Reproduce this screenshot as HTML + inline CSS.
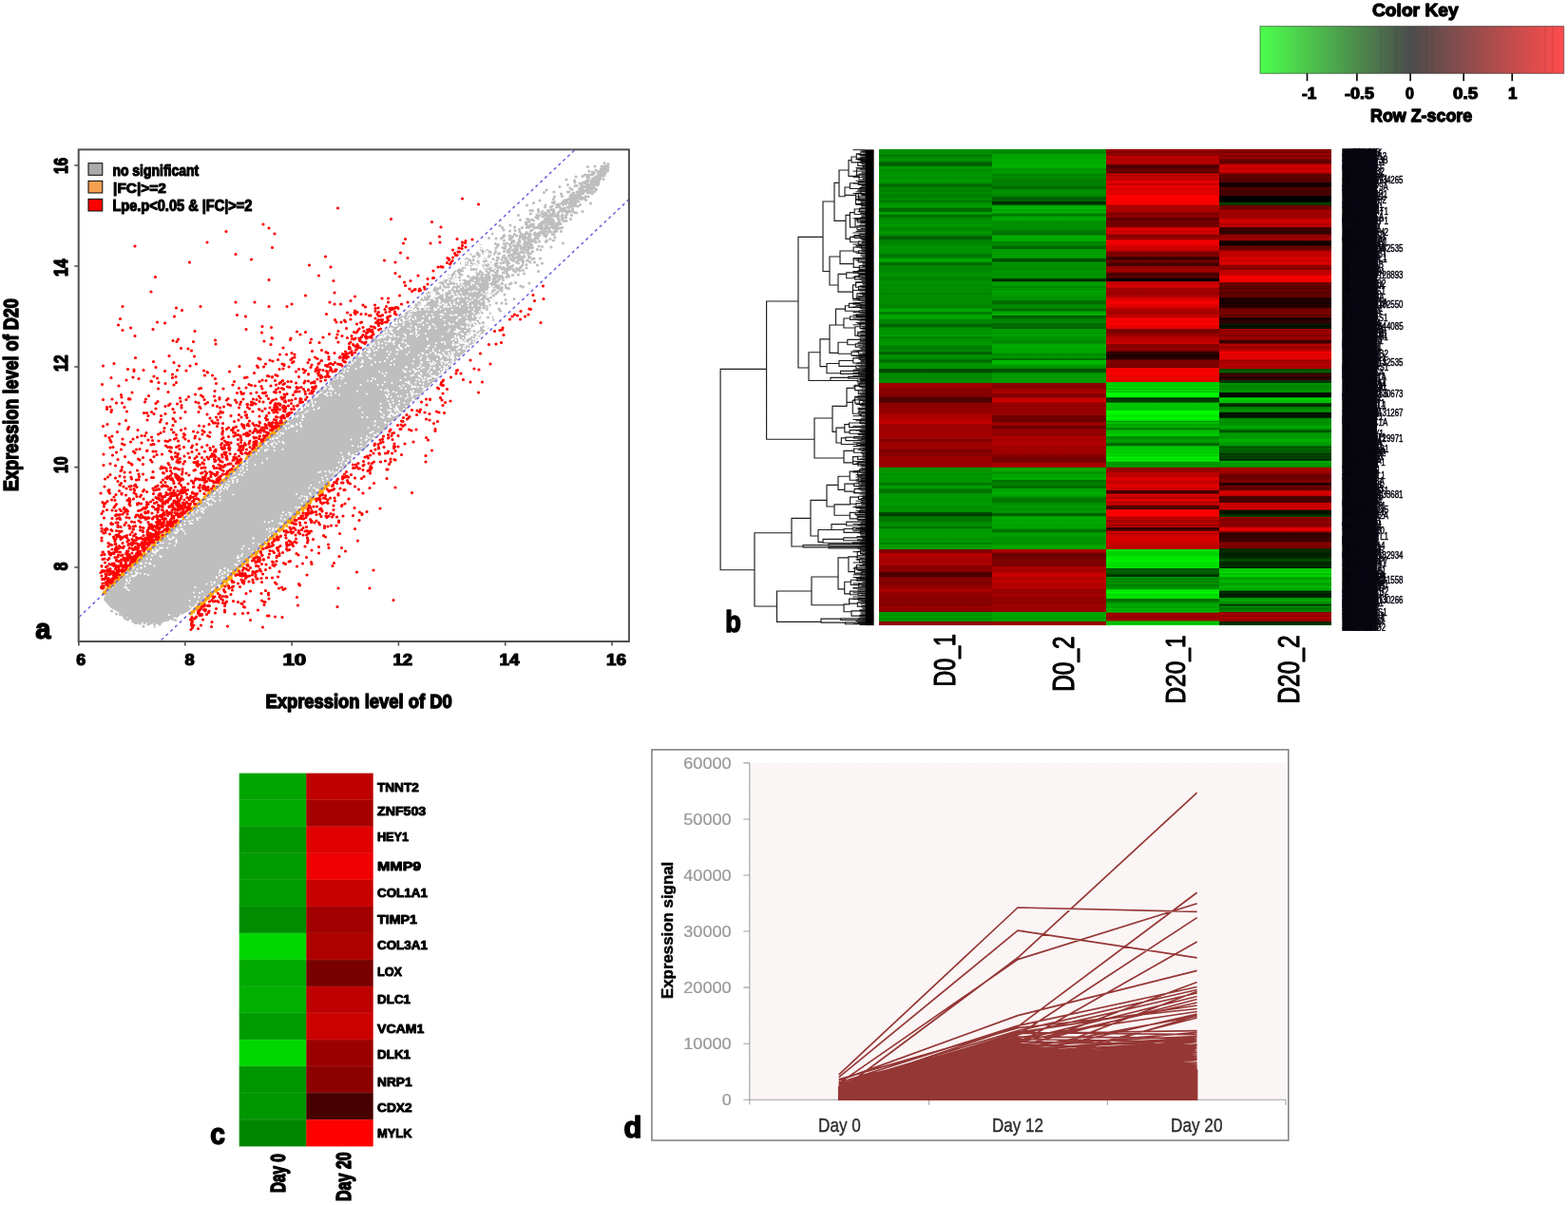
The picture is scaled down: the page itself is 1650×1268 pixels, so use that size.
<!DOCTYPE html>
<html lang="en">
<head>
<meta charset="utf-8">
<title>Figure</title>
<style>
html,body{margin:0;padding:0;background:#fff;}
body{width:1650px;height:1268px;overflow:hidden;font-family:"Liberation Sans",Arial,sans-serif;}
svg{display:block;position:absolute;left:0;top:0;}
.hc{position:absolute;top:157px;height:501px;}
</style>
</head>
<body>
<svg width="1650" height="1268" viewBox="0 0 1650 1268" font-family="'Liberation Sans', Arial, sans-serif">
<rect width="1650" height="1268" fill="#ffffff"/>
<g id="panel-a">
<clipPath id="clipA"><rect x="83.5" y="157.6" width="578" height="516.6"/></clipPath>
<g clip-path="url(#clipA)">
<polygon fill="#bebebe" points="108.9,630.9 117.3,620.3 194.8,547.3 307.1,441.5 396.9,359.0 453.1,316.6 498.0,290.2 517.7,287.5 509.2,321.9 486.8,361.6 453.1,401.3 419.4,434.6 307.1,540.9 211.6,630.9 197.6,643.6 183.6,651.0 166.7,654.1 152.7,655.2 138.7,651.0 127.4,645.7 116.2,639.3"/>
<path transform="scale(0.5)" d="M1272 343h0m7 4h0m1-2h0m-43 6h0m15-1h0m2 8h0m10 0h0m1-2h0m0 2h0m1-8h0m0 6h0m1-3h0m1 5h0m1-7h0m1 5h0m0-1h0m1-5h0m0 3h0m0 2h0m1 3h0m0-1h0m0-6h0m0 5h0m1 2h0m0-4h0m1 4h0m0-4h0m0 2h0m0-1h0m1 3h0m1-8h0m0 2h0m0 3h0m0 2h0m0 2h0m0-10h0m1 10h0m0-6h0m0 2h0m1-1h0m0 1h0m1 1h0m0 3h0m1-8h0m-54 20h0m5-3h0m5 1h0m3 0h0m1-9h0m1 8h0m5 0h0m1-6h0m0 4h0m1 1h0m1-2h0m1-1h0m1 0h0m5 7h0m2 0h0m1-1h0m0-5h0m0-4h0m2 7h0m1-6h0m0 3h0m1 1h0m0 1h0m1 2h0m1-4h0m0 3h0m0-5h0m2 3h0m0-1h0m1-1h0m0-4h0m0 3h0m1 5h0m0-1h0m0-7h0m0 3h0m1 7h0m1 0h0m1-3h0m1-6h0m0 3h0m1-4h0m0 5h0m3-5h0m-85 18h0m17 2h0m3-8h0m21 10h0m2-2h0m0 3h0m1-10h0m2 7h0m0-5h0m1 6h0m0-7h0m6 7h0m1 0h0m0-4h0m1 0h0m1-1h0m0 3h0m1-1h0m0-1h0m1 5h0m1-7h0m0-1h0m0 2h0m0 4h0m1-4h0m0-1h0m1 8h0m0-10h0m2 10h0m0-9h0m1 4h0m0 1h0m0-4h0m1 8h0m0-9h0m1 8h0m0-8h0m1 0h0m0 6h0m0 2h0m1-2h0m1-1h0m0-7h0m1 1h0m1 3h0m1-4h0m6 5h0m-92 16h0m17-4h0m15-5h0m0 7h0m4 0h0m6-5h0m2 1h0m1 6h0m1 2h0m2-4h0m1-7h0m2 9h0m2-7h0m0-2h0m1 9h0m3-5h0m1 4h0m0-1h0m0 3h0m0-6h0m1 3h0m1 1h0m1-4h0m1 0h0m3 7h0m0-3h0m1-4h0m0 2h0m1-6h0m1 5h0m2-3h0m0 3h0m1 0h0m0 2h0m0 2h0m1-4h0m1 6h0m2-11h0m2 3h0m2 3h0m2-2h0m1-4h0m-115 21h0m5-5h0m16 4h0m29 0h0m3 0h0m2-8h0m4 3h0m2 8h0m1-1h0m7-2h0m2 0h0m1 1h0m2-7h0m1 7h0m1-9h0m1 4h0m0-2h0m1 4h0m0 5h0m1-3h0m3 3h0m0-8h0m0 2h0m1 5h0m0-5h0m1 1h0m1-1h0m0 1h0m2 0h0m1 0h0m2-4h0m2 7h0m1 1h0m0-7h0m1 3h0m1-4h0m0 6h0m1 0h0m1-8h0m0 9h0m1-7h0m1 8h0m2-3h0m1 4h0m0-10h0m5 6h0m1-5h0m2 1h0m-90 20h0m2-5h0m14-6h0m2 5h0m14 6h0m3-6h0m0 6h0m1-7h0m1 4h0m1-6h0m1 5h0m2-3h0m0 6h0m1-10h0m1 5h0m0 5h0m2-4h0m1-1h0m0-2h0m1 7h0m0-7h0m0 3h0m2-1h0m0 5h0m1-1h0m0-1h0m1-8h0m0 9h0m2-5h0m0 3h0m1-1h0m0 4h0m1-5h0m0-4h0m1 1h0m1 5h0m1-1h0m0 5h0m1-4h0m4 3h0m0-1h0m3 0h0m2-4h0m5 1h0m-115 13h0m13-5h0m27 4h0m3 2h0m1-3h0m5 6h0m4-1h0m6-2h0m2 1h0m0-3h0m1 5h0m2-9h0m1 1h0m1 2h0m0 3h0m0-1h0m2 2h0m0-8h0m3 1h0m1 4h0m0-6h0m4 7h0m0 1h0m1 0h0m1-6h0m1 8h0m1 0h0m0-1h0m1-4h0m1 5h0m1 1h0m1-6h0m0-5h0m2 5h0m0 3h0m2 1h0m0-6h0m3 1h0m3 0h0m4 7h0m12-10h0m10 7h0m-134 4h0m7 11h0m5 0h0m12-1h0m0-1h0m14-5h0m1-4h0m5 11h0m6-7h0m1 5h0m2 1h0m0-8h0m3 7h0m6-5h0m4-2h0m1 2h0m1-3h0m2 10h0m2-5h0m4 2h0m2 2h0m1-4h0m2 4h0m4-6h0m2 1h0m2 6h0m1-11h0m0 4h0m6-1h0m0 5h0m6-7h0m5 1h0m-125 19h0m26-3h0m13 2h0m4-6h0m1 8h0m5-4h0m2-5h0m2 6h0m1 4h0m3-7h0m1 1h0m0 4h0m2 0h0m4-9h0m1 4h0m1 6h0m3-1h0m2 0h0m1-4h0m2 4h0m0-8h0m0 3h0m1 2h0m0-5h0m0 2h0m2 8h0m4-2h0m2-3h0m1-3h0m0 1h0m1 7h0m7-3h0m0-7h0m1 8h0m1-9h0m6 2h0m0 8h0m3-4h0m0-5h0m1 1h0m6 0h0m2 7h0m2-9h0m4 3h0m4 1h0m13-3h0m-131 18h0m15-2h0m2 6h0m2-4h0m0 3h0m6-4h0m3 2h0m5-7h0m2-1h0m2 4h0m10 7h0m0-11h0m1 11h0m1-1h0m3-5h0m2 6h0m1-2h0m1 1h0m1-1h0m0-7h0m1 5h0m1 3h0m1-10h0m1 9h0m1-5h0m2 4h0m2-5h0m0 8h0m2 0h0m1-4h0m0 1h0m1 2h0m9-9h0m1 4h0m2 1h0m6-6h0m0 2h0m1 3h0m0 2h0m1-4h0m2 6h0m4-7h0m1 7h0m9-4h0m-149 14h0m5 4h0m17-5h0m9 4h0m16 1h0m8-11h0m0 4h0m1 0h0m1 7h0m2-4h0m2 4h0m3-2h0m1-4h0m1-1h0m2 2h0m1 0h0m0 1h0m2 2h0m0-5h0m1 7h0m4 0h0m5-2h0m0 2h0m1-6h0m1 0h0m3 5h0m0 1h0m0-9h0m1 7h0m0-8h0m1 10h0m0-5h0m2 5h0m0-8h0m2-3h0m0 1h0m4 6h0m1-1h0m0 2h0m0-3h0m3 1h0m1 5h0m1-11h0m1 1h0m1 2h0m1-2h0m1-1h0m2 3h0m0 6h0m1-8h0m1 3h0m1-2h0m2 6h0m0-6h0m1 0h0m1 9h0m1-8h0m3 4h0m1 2h0m1-7h0m0 4h0m2-6h0m1 4h0m2-4h0m2 3h0m3 8h0m-123 5h0m13 2h0m11-1h0m9-2h0m1 5h0m13 3h0m1-2h0m2 2h0m7-5h0m3-2h0m6 6h0m1-10h0m9 9h0m1-8h0m2 9h0m1-7h0m2 3h0m1 3h0m1-1h0m3-6h0m0-2h0m2 7h0m3-6h0m3 1h0m0 6h0m1-8h0m1 8h0m0-3h0m2 3h0m5-8h0m2 8h0m1-1h0m3-3h0m0 3h0m1-2h0m1 1h0m1-6h0m4 0h0m2 0h0m2 7h0m-152 14h0m7-9h0m8 10h0m11 0h0m3-3h0m3-4h0m0 2h0m11-1h0m1 6h0m1-5h0m2 4h0m1-1h0m2-2h0m4-5h0m4 3h0m6 7h0m1-6h0m2 2h0m1-7h0m2 5h0m2 6h0m2-9h0m1 4h0m0-3h0m2 7h0m1-2h0m5 0h0m1-4h0m2-4h0m1 4h0m0 6h0m0-8h0m8-1h0m1 10h0m2-8h0m0 7h0m0-1h0m3 0h0m1-5h0m0-4h0m1 10h0m0-10h0m3 4h0m0-4h0m0 3h0m8-3h0m2 0h0m1 4h0m3 2h0m2-5h0m7 10h0m5-10h0m3 1h0m2 6h0m-156 14h0m31-1h0m6 2h0m12-9h0m0 7h0m6-1h0m6 3h0m0-11h0m3 8h0m2-5h0m3 0h0m0 2h0m1 0h0m7 5h0m2-4h0m1-1h0m1 1h0m0-3h0m1 2h0m9 5h0m1 1h0m1-7h0m0 3h0m3 2h0m0-2h0m1 2h0m1 0h0m2-8h0m0 4h0m2 0h0m1-2h0m1 6h0m2-8h0m0 2h0m1 8h0m2-9h0m2 2h0m4 0h0m1 2h0m7-2h0m14 1h0m0-1h0m2-2h0m14 0h0m20 6h0m-172 14h0m0-5h0m13 6h0m18-5h0m3-4h0m11 3h0m2 1h0m3 1h0m1-5h0m8 6h0m3-4h0m3 6h0m3-9h0m1-1h0m2 8h0m0-5h0m4 2h0m0 1h0m0 3h0m1 1h0m0-9h0m5-1h0m1 3h0m1 4h0m2-3h0m2 1h0m1 2h0m2-2h0m1-1h0m1 6h0m1-5h0m1-3h0m1 0h0m0 9h0m1-8h0m2 7h0m1-4h0m0-1h0m2-3h0m0 2h0m2 2h0m1-3h0m4 2h0m10 4h0m3-7h0m4 8h0m3-7h0m19 1h0m-168 15h0m7 3h0m4-4h0m2-1h0m1 3h0m2 1h0m0-9h0m0 3h0m3 7h0m1-9h0m2 1h0m4 4h0m0-6h0m2 2h0m11 0h0m0 6h0m3-2h0m5 2h0m1-3h0m1-1h0m1-4h0m1 2h0m6 4h0m2-1h0m10 5h0m0-9h0m7-1h0m1 3h0m1-1h0m1 8h0m0-8h0m1 0h0m1 9h0m2-3h0m3 1h0m1 2h0m2-5h0m1-6h0m0 6h0m1-6h0m0 6h0m4-1h0m0 1h0m1-3h0m4 3h0m1 4h0m3-8h0m1 1h0m2-2h0m0 2h0m4 8h0m1-7h0m7-4h0m0 4h0m1 4h0m5-3h0m4-4h0m-141 15h0m4 1h0m3 3h0m2 0h0m7-1h0m0-7h0m10 10h0m1-9h0m1-1h0m11 10h0m1-5h0m0 3h0m2 0h0m1 1h0m6-9h0m9 5h0m8 3h0m1-6h0m2 1h0m7 3h0m3-5h0m1-1h0m0 11h0m3-7h0m2 5h0m1-6h0m2 6h0m1 1h0m5-6h0m3 3h0m3-6h0m1 8h0m0-9h0m1 5h0m0 1h0m5-4h0m2-2h0m1 8h0m1-8h0m1 7h0m0-5h0m3 4h0m2-4h0m2 6h0m0-3h0m0 4h0m1-3h0m0-5h0m1 9h0m3-10h0m5 8h0m3 1h0m1-7h0m2-1h0m5 4h0m4-1h0m13 0h0m-166 10h0m8 9h0m2-6h0m0-3h0m1 3h0m1-3h0m1 0h0m2 1h0m2 1h0m2 4h0m2-7h0m5 3h0m1 0h0m8 1h0m2-1h0m9 2h0m2 2h0m1 3h0m0-6h0m4 3h0m1 3h0m1-4h0m2-3h0m3-4h0m6 8h0m0 1h0m4-2h0m2-4h0m3 5h0m0-6h0m6 8h0m1 0h0m1-8h0m6 9h0m0-10h0m7 1h0m1 3h0m1 5h0m2-8h0m4 7h0m4-2h0m8-7h0m4 2h0m5 8h0m1-1h0m3-4h0m1-5h0m7 5h0m8-5h0m9 0h0m6 6h0m10-4h0m-185 21h0m2-3h0m6-3h0m2 5h0m0-6h0m1 4h0m0 3h0m0-8h0m2-1h0m2 3h0m2 1h0m1-6h0m18 3h0m5 0h0m3 4h0m2-4h0m1 6h0m2 0h0m5-2h0m1 0h0m4 4h0m6-7h0m1-4h0m1 6h0m2 4h0m3-8h0m1 8h0m1-10h0m3 5h0m1-3h0m4-1h0m0 5h0m3-5h0m1 9h0m5-4h0m0 2h0m1-8h0m8 2h0m3 8h0m1-10h0m2 4h0m3-2h0m0 6h0m1 3h0m0-8h0m1 4h0m5-4h0m1-2h0m6 1h0m1 1h0m1 2h0m3 3h0m2-1h0m1-6h0m4 2h0m3 3h0m0-5h0m7 4h0m7-5h0m25 7h0m-188 9h0m1 4h0m2 3h0m1-3h0m3-5h0m2-2h0m0 4h0m1 4h0m5-3h0m7 1h0m1-6h0m4 1h0m13 3h0m2 3h0m14-3h0m1 5h0m1-6h0m1 3h0m1-4h0m2 8h0m1-11h0m3 6h0m0 1h0m1 1h0m2-1h0m1-1h0m0-3h0m3 4h0m1-1h0m3-4h0m4 3h0m0-5h0m1 9h0m0-7h0m1 6h0m1 3h0m0-9h0m1 8h0m8-7h0m0 2h0m2 3h0m1 0h0m1 2h0m2-9h0m0 4h0m1 0h0m0 3h0m2-5h0m2 3h0m2 1h0m1 4h0m0-6h0m4 0h0m2 3h0m8-1h0m3-5h0m2 4h0m8-3h0m12-1h0m12-2h0m-178 18h0m4 1h0m3 3h0m1-6h0m2-1h0m0 2h0m2-1h0m2 5h0m0-6h0m4-1h0m1 8h0m2-3h0m1-4h0m1 6h0m0-6h0m4 5h0m4 1h0m1-8h0m6 8h0m3 2h0m2-9h0m9 0h0m3 3h0m3 6h0m5-11h0m2 5h0m9 2h0m1-6h0m8 5h0m2 0h0m0 4h0m1-10h0m5 6h0m1 5h0m2-3h0m0 1h0m1-2h0m6 1h0m3-6h0m1 7h0m2 0h0m5-7h0m0-1h0m0 4h0m0 2h0m0 2h0m1-3h0m1 5h0m2-2h0m0-1h0m1-5h0m2 8h0m3-6h0m0-2h0m1 0h0m0-1h0m8 6h0m1 1h0m2-8h0m14 9h0m3-2h0m9-1h0m29 1h0m-199 12h0m1-2h0m2 4h0m3-2h0m0 2h0m1 0h0m0-7h0m1 8h0m0-7h0m0 2h0m0-1h0m0 5h0m1-4h0m1-4h0m2 4h0m5 5h0m0-11h0m2 2h0m2-1h0m2 4h0m3 0h0m3-1h0m11 0h0m13 5h0m3 0h0m6 2h0m1-6h0m2 4h0m3-6h0m1 2h0m0 4h0m1 1h0m3 1h0m0-4h0m5 4h0m1-6h0m1-5h0m2 9h0m1-9h0m2 3h0m1-3h0m0 2h0m1-2h0m1 5h0m2 2h0m3-5h0m8 5h0m1-5h0m1 7h0m0-1h0m0-7h0m4 6h0m0 1h0m1 2h0m6-4h0m6-6h0m4 4h0m2 6h0m4-8h0m0 1h0m2 3h0m3-5h0m1 6h0m3 3h0m2-5h0m0 2h0m8-7h0m1 5h0m4 2h0m2 0h0m25-5h0m5 2h0m-203 15h0m2 3h0m1-1h0m2-3h0m0 3h0m0-6h0m2 4h0m0 3h0m4-7h0m4-3h0m4 4h0m1 2h0m3-1h0m3 1h0m11 5h0m6 0h0m5-8h0m6 7h0m1 0h0m0-9h0m4 1h0m3 8h0m1-8h0m1 8h0m3-3h0m7-3h0m1 1h0m12 1h0m2 4h0m5-3h0m0-1h0m3 5h0m1-4h0m3-2h0m0-5h0m3 2h0m2 0h0m0 1h0m5-1h0m1 6h0m3-2h0m4-6h0m1 6h0m6-4h0m0 2h0m1 5h0m9-2h0m2-6h0m1 0h0m2 9h0m5-4h0m4-4h0m8-2h0m6 8h0m-175 10h0m2-1h0m2 1h0m0 1h0m3-5h0m2 3h0m0-1h0m2 3h0m1-1h0m2-1h0m1-2h0m1-3h0m5 8h0m5-4h0m1 0h0m9 6h0m8-9h0m2 7h0m0 3h0m7-9h0m0 3h0m6 6h0m2-2h0m4-8h0m4 9h0m0-7h0m3 7h0m1 0h0m8-9h0m4 5h0m4-3h0m2 7h0m0-3h0m4-3h0m3 7h0m3-10h0m1 7h0m3-3h0m1 0h0m2-2h0m2-2h0m1 10h0m6-11h0m3 10h0m1-8h0m4 1h0m4-1h0m7 3h0m4 0h0m2 5h0m4-8h0m6 7h0m25-2h0m18-2h0m-207 12h0m1 2h0m5-6h0m1 4h0m2-4h0m0 3h0m17-4h0m8 8h0m2-1h0m1-7h0m2 2h0m4 5h0m14-1h0m3 2h0m2-8h0m1 4h0m0 6h0m1-9h0m1 6h0m1 0h0m1-2h0m4-1h0m3-3h0m5 7h0m1-6h0m8 5h0m7-2h0m1 4h0m1 0h0m1-5h0m1 3h0m3-4h0m3 7h0m2-3h0m1-5h0m2-2h0m2 1h0m1 4h0m1 4h0m3 2h0m0-9h0m1 4h0m3 1h0m1-5h0m1 9h0m4-10h0m1 6h0m2 3h0m0-10h0m5 1h0m3 9h0m6-8h0m1 5h0m6 2h0m5-3h0m14-4h0m11 0h0m9 1h0m-209 19h0m1 1h0m4-6h0m1 1h0m1-3h0m0 4h0m1-5h0m0 2h0m1-3h0m0 5h0m0 4h0m6 0h0m2-9h0m2-1h0m3 10h0m0-9h0m2 1h0m10 4h0m3 5h0m9-4h0m4-1h0m1 1h0m2 4h0m0-8h0m6 5h0m2-6h0m3 8h0m4-8h0m18 3h0m0-1h0m1-1h0m4 5h0m1-1h0m0-1h0m1 3h0m2-2h0m0 4h0m4-6h0m0 5h0m0-6h0m1 7h0m1-7h0m1 4h0m5-7h0m1 1h0m0 4h0m2 3h0m1-7h0m1 5h0m0-7h0m2 6h0m1 5h0m1-5h0m2-3h0m0 2h0m2-2h0m4 7h0m8-6h0m5 3h0m3-5h0m2 6h0m2-6h0m4-1h0m4 3h0m0-1h0m1-1h0m3-1h0m3 9h0m4-10h0m6 3h0m25-1h0m3 4h0m-213 16h0m3-2h0m4-3h0m2 2h0m3-1h0m2-1h0m0 5h0m1-10h0m0 1h0m7 8h0m0-3h0m7-1h0m10 4h0m2-4h0m2 2h0m10-2h0m5 2h0m9 1h0m1-5h0m6 2h0m1 6h0m8-11h0m0 2h0m2 5h0m3 4h0m1-3h0m0 3h0m1-4h0m2 0h0m6-3h0m0 6h0m2-10h0m1 4h0m2-2h0m2-1h0m1-1h0m0 3h0m2 5h0m2-6h0m1 1h0m3 5h0m0-6h0m2 7h0m0 2h0m5-3h0m2-8h0m0 7h0m1 2h0m5 0h0m4-5h0m1-3h0m2-1h0m1 5h0m2 0h0m4-3h0m2 8h0m3-7h0m1-3h0m0 2h0m0 1h0m4 2h0m18 4h0m16-1h0m5-8h0m4 8h0m-205 10h0m1-2h0m1 5h0m0-4h0m1 3h0m2-2h0m1-4h0m0 4h0m2 4h0m6-8h0m14-2h0m18 11h0m14-10h0m10 4h0m1 0h0m8 2h0m2-1h0m1 0h0m1 5h0m3 0h0m4-8h0m2 2h0m1-1h0m0 5h0m2-3h0m1-4h0m4 4h0m2-3h0m1 8h0m1 0h0m2-9h0m1 0h0m4 8h0m4-10h0m4 4h0m0-1h0m1-2h0m5 0h0m2 6h0m1 3h0m5-10h0m0 1h0m3 0h0m0 4h0m4 4h0m2-4h0m1 1h0m22 0h0m5 3h0m4-5h0m1 0h0m3 4h0m8-1h0m0 2h0m22-7h0m-222 19h0m1-1h0m3-6h0m0 3h0m0 3h0m1-3h0m3-1h0m5-2h0m1 4h0m46 2h0m30-1h0m10 0h0m1-4h0m3 2h0m0 4h0m0-1h0m1-1h0m1-2h0m0 5h0m0-10h0m3 3h0m2 8h0m2-7h0m3 5h0m0-6h0m1 5h0m0-5h0m5 7h0m0-5h0m1-3h0m8 9h0m1-2h0m1-1h0m4-5h0m1-3h0m0 1h0m4-1h0m4 7h0m5-4h0m4 5h0m3-3h0m1-5h0m1 7h0m6-6h0m0 4h0m1-4h0m1 10h0m4-6h0m6-4h0m18 10h0m0-5h0m3 2h0m1-4h0m9 1h0m-228 17h0m2-1h0m2-4h0m2 1h0m0 2h0m0-4h0m1-1h0m0-1h0m2 4h0m2 0h0m0-5h0m1 0h0m1 1h0m0 6h0m0-8h0m1 7h0m0-4h0m5-1h0m3 6h0m4-2h0m57 0h0m11 3h0m19-1h0m0-3h0m2-1h0m1 3h0m1-4h0m1 5h0m1 1h0m5-5h0m8 0h0m5 4h0m4-3h0m3 3h0m0 2h0m2-2h0m2-7h0m2 3h0m10 2h0m3-2h0m1 1h0m0-3h0m2 4h0m1 5h0m3-10h0m3 6h0m3 4h0m3-3h0m1-1h0m5-6h0m3-1h0m1 7h0m5-7h0m6 1h0m1 8h0m6-4h0m1-1h0m1 7h0m2-9h0m0 8h0m2-2h0m4-3h0m1-5h0m2 0h0m-232 21h0m2-3h0m1 0h0m2 4h0m1 0h0m0-4h0m1-1h0m3 1h0m1-1h0m11-3h0m1-2h0m1 9h0m3-8h0m63 3h0m4 0h0m12 1h0m1-1h0m0 6h0m5-2h0m12-6h0m0 5h0m0 1h0m3 1h0m3 2h0m1-4h0m1-5h0m1 6h0m1-7h0m4 5h0m7-6h0m1 5h0m3 6h0m0-4h0m2-4h0m3-1h0m2 7h0m6-5h0m2-2h0m15-1h0m7 1h0m1 6h0m2-6h0m4 7h0m1 2h0m5-2h0m0-1h0m2-2h0m1 4h0m2-3h0m3-5h0m1 6h0m0 3h0m1-6h0m0-1h0m0 5h0m5-1h0m0-7h0m2 0h0m1 1h0m1-2h0m3 2h0m-232 21h0m0-3h0m7-5h0m0 2h0m0 2h0m1-7h0m3 10h0m92-1h0m9 0h0m2-6h0m4 6h0m2-8h0m0-1h0m8 7h0m4-1h0m1-2h0m16 3h0m2 0h0m3-1h0m1 3h0m0-6h0m2-1h0m2-2h0m7 2h0m1 6h0m7-7h0m2 7h0m2-3h0m2 2h0m2-7h0m3 1h0m9 5h0m1-2h0m4 5h0m1-3h0m1 4h0m2-3h0m2 0h0m5-3h0m0 4h0m1 2h0m0-5h0m5-2h0m1-2h0m1 1h0m3-2h0m-231 23h0m1-5h0m0 4h0m1-4h0m1-1h0m0 1h0m0 2h0m1-5h0m0-1h0m2 7h0m2-9h0m0 4h0m4 2h0m98-2h0m13-2h0m6 3h0m9 3h0m1-1h0m8 0h0m2 1h0m10 1h0m4-3h0m2 4h0m2-3h0m3 1h0m1 0h0m0-8h0m1 3h0m12-3h0m6 11h0m3-6h0m2 6h0m0-7h0m3 1h0m2-4h0m1 7h0m1-2h0m1 5h0m1-10h0m2 9h0m0-9h0m0 5h0m1 0h0m1-2h0m0 4h0m1-1h0m0 2h0m0-6h0m1 1h0m0 4h0m1-8h0m1 7h0m1-4h0m5-3h0m-236 22h0m5-3h0m1-4h0m1 4h0m0 2h0m8-6h0m0 2h0m8-4h0m5-1h0m115 4h0m2 2h0m1-4h0m20 1h0m3 0h0m1 3h0m0 5h0m1-7h0m2 3h0m12-6h0m6-1h0m13 4h0m0-3h0m2 3h0m5 7h0m0-9h0m1 9h0m0-5h0m1 3h0m0 2h0m1-1h0m3-8h0m1-2h0m0 4h0m1 1h0m0-1h0m1-1h0m1-2h0m2-1h0m1 0h0m-234 21h0m6-6h0m7 8h0m2 0h0m1-11h0m126 5h0m13-2h0m1 3h0m5 5h0m17-8h0m5 2h0m8 6h0m1-8h0m4 3h0m3-1h0m6 6h0m4-9h0m0 6h0m1 1h0m0-8h0m3-1h0m1 7h0m6-5h0m-235 19h0m7-6h0m1-2h0m0 6h0m1-4h0m0 4h0m0-6h0m1 5h0m1 3h0m2-8h0m3-1h0m1 8h0m139-3h0m0 3h0m9-8h0m1 7h0m17 0h0m1-1h0m2-6h0m8 0h0m8 11h0m2-2h0m2 2h0m1-3h0m2 0h0m1-2h0m4 5h0m3-11h0m1 8h0m1-3h0m4-4h0m0 1h0m1-2h0m-233 18h0m3 3h0m1-5h0m1 1h0m1 1h0m2 1h0m1-6h0m4 5h0m7-6h0m4 0h0m137 2h0m1-2h0m16 6h0m14-3h0m1-2h0m11 1h0m1 5h0m2 3h0m1-2h0m0 2h0m0-9h0m1 7h0m0-7h0m3 6h0m0 1h0m4-5h0m0 1h0m1 0h0m1-4h0m-233 23h0m0-4h0m2 2h0m0 1h0m4-8h0m0 8h0m1-7h0m3-2h0m175 3h0m9-3h0m3 6h0m0-1h0m4 5h0m4 0h0m0-6h0m1-3h0m1 8h0m4-4h0m1-5h0m1 8h0m0-4h0m1 2h0m1 2h0m2-4h0m0 1h0m2-1h0m0-5h0m5 1h0m-236 22h0m2-2h0m6 2h0m1-5h0m1-6h0m1 11h0m2-7h0m174 6h0m2-2h0m7-7h0m5 2h0m1-3h0m5 8h0m1 2h0m1-2h0m0 1h0m3-3h0m1 3h0m2-3h0m2-3h0m1-2h0m2-1h0m1 1h0m-235 18h0m0 1h0m2-1h0m2-3h0m0 5h0m5-5h0m2-4h0m0 1h0m1 2h0m2 0h0m3-2h0m8 7h0m182-5h0m1 3h0m5-6h0m0 3h0m0 7h0m2 0h0m1-9h0m0 6h0m1-2h0m2 1h0m-230 11h0m0 2h0m0-1h0m0 2h0m4-1h0m1 0h0m1-4h0m0 1h0m1 1h0m2 0h0m9 3h0m185 1h0m3-4h0m6 2h0m0 3h0m0-1h0m1-9h0m1 11h0m0-6h0m1 0h0m1-3h0m0 8h0m0-9h0m0 2h0m1-3h0m4 4h0m-235 19h0m2-5h0m2-1h0m4-1h0m0-1h0m0 2h0m4-5h0m1 8h0m0-7h0m5 2h0m178 6h0m5 2h0m10-4h0m1-6h0m0 2h0m1 8h0m3-7h0m1-2h0m3-1h0m-229 16h0m3 2h0m0 1h0m1 0h0m2-5h0m2 2h0m0 4h0m2-9h0m1 4h0m2 0h0m7 1h0m176 4h0m2 1h0m4 0h0m9-2h0m0 2h0m1-3h0m1 1h0m0 1h0m0 2h0m0-6h0m2 2h0m0-2h0m2-5h0m1 4h0m0 2h0m4-5h0m-238 20h0m3-3h0m2-3h0m1 1h0m3 2h0m3-2h0m198 0h0m1 4h0m3-1h0m1 4h0m3-6h0m2-4h0m0 4h0m1-5h0m3 0h0m2 1h0m-242 21h0m1 1h0m6-3h0m2 2h0m8-8h0m4 3h0m183 5h0m3 1h0m0-8h0m1 2h0m2 2h0m2 1h0m1-8h0m2 11h0m2-6h0m1 2h0m2-2h0m2-1h0m0 2h0m0-6h0m1 3h0m0 4h0m1-7h0m1 5h0m1-2h0m1-1h0m3-1h0m-242 22h0m1-2h0m0 2h0m3-4h0m4-3h0m1-3h0m0 2h0m1 1h0m1-3h0m3 0h0m191 10h0m10 0h0m0-9h0m5 2h0m0 2h0m0 3h0m1-2h0m-235 16h0m4-2h0m6-4h0m2-4h0m1 5h0m1 0h0m3-2h0m1 0h0m2-3h0m195 4h0m2 6h0m0-5h0m1 1h0m1-5h0m1 6h0m0 2h0m2 0h0m3-6h0m3-1h0m2-1h0m-242 20h0m2-1h0m1 0h0m2-2h0m2-1h0m0-1h0m2-4h0m1 7h0m1-3h0m0 1h0m3 5h0m1-7h0m3-4h0m2 3h0m191 7h0m0-1h0m0-2h0m1 1h0m8-2h0m2 2h0m6-5h0m4-3h0m-237 22h0m1-1h0m2-7h0m2-1h0m1 7h0m1-8h0m1 2h0m0-2h0m19 1h0m175 9h0m3 0h0m2-8h0m0 6h0m4-5h0m1-2h0m7 1h0m1 1h0m-239 19h0m2-3h0m3 4h0m0-4h0m2-6h0m0 8h0m0 1h0m1-5h0m1 5h0m2-9h0m1 0h0m2 5h0m192 4h0m5-7h0m2 6h0m2 1h0m1-8h0m1 8h0m2-1h0m0-9h0m4 6h0m2-1h0m1-2h0m1 0h0m-239 20h0m4-6h0m2-1h0m2 1h0m0 3h0m2-4h0m0 7h0m0-11h0m1 4h0m0 7h0m2-5h0m2-6h0m2 9h0m196-8h0m4 7h0m2-3h0m3-2h0m-237 20h0m3-1h0m1 0h0m1 1h0m1-3h0m1 0h0m2-1h0m5-3h0m1-4h0m2 0h0m1 0h0m1 2h0m194 5h0m2-4h0m1 3h0m4 3h0m5-7h0m0-1h0m-232 21h0m4-3h0m2 2h0m0-9h0m2 1h0m2 8h0m2-7h0m0 3h0m2-2h0m193 7h0m5-7h0m1 4h0m3 2h0m2-2h0m5-5h0m-242 21h0m0-1h0m5-3h0m1 0h0m3-2h0m1 0h0m1-1h0m8-3h0m2 7h0m5-7h0m190 4h0m2 6h0m0-2h0m4-9h0m2 3h0m2-1h0m0 3h0m1 0h0m3-3h0m-238 17h0m2 2h0m1-2h0m0 2h0m1-2h0m0 3h0m0-6h0m0 1h0m1-4h0m2 10h0m4-5h0m181 4h0m12 0h0m1-1h0m3-7h0m3 8h0m1-1h0m1-3h0m6-5h0m1 6h0m4-3h0m3-4h0m1 0h0m-242 22h0m1-2h0m1-2h0m1-1h0m1 4h0m0-6h0m0 3h0m1-1h0m0-1h0m2-4h0m1 11h0m0-11h0m1 8h0m1-5h0m0 4h0m3-7h0m1 0h0m185 4h0m0 6h0m2 1h0m13 0h0m1-2h0m2-4h0m1 4h0m1-9h0m4 4h0m2-3h0m-240 20h0m1-1h0m3-1h0m3-3h0m1-2h0m0 4h0m3-2h0m1-2h0m0 3h0m2 2h0m0 2h0m3 2h0m1-10h0m0-1h0m6 2h0m173 6h0m13-4h0m5-3h0m4-1h0m1 8h0m0-2h0m0 3h0m1-6h0m3-1h0m0-1h0m0 5h0m-234 17h0m1-4h0m2 4h0m1-7h0m4-4h0m1 10h0m4 1h0m8-10h0m175 10h0m15-6h0m0 3h0m1 3h0m0-10h0m1 4h0m1 3h0m0 3h0m0-1h0m1-3h0m1 4h0m1-2h0m1-2h0m0-5h0m1 2h0m1-4h0m-234 19h0m3-1h0m3-1h0m1 4h0m2-7h0m1 4h0m10-5h0m184 9h0m1 1h0m2-6h0m8 2h0m0 3h0m1-5h0m0 3h0m4-8h0m0 6h0m2-3h0m5-1h0m-241 21h0m3-1h0m2-5h0m2 5h0m0-8h0m1 0h0m3 1h0m3 2h0m1 2h0m4-7h0m7 1h0m175 10h0m1-3h0m10 3h0m6-2h0m1 2h0m1-6h0m3 1h0m1 0h0m0-5h0m1 3h0m2-1h0m1-3h0m2 0h0m-236 19h0m3-6h0m1 8h0m0-7h0m0 1h0m3 2h0m1 3h0m2-8h0m1 0h0m1 1h0m1 0h0m180 10h0m10-10h0m2 10h0m2-4h0m3-2h0m0 1h0m0 5h0m3-3h0m1 1h0m0-8h0m3 0h0m-232 18h0m4-6h0m8 2h0m3-1h0m188 6h0m6 1h0m2 2h0m5-10h0m0 3h0m1 4h0m5-5h0m3-1h0m-239 19h0m0 2h0m3-6h0m2-3h0m1 0h0m2-1h0m1 2h0m0 5h0m0 3h0m1-9h0m2 0h0m3 3h0m5-2h0m1 3h0m188 3h0m1-5h0m4 7h0m0-1h0m2-4h0m0 3h0m0 1h0m1-4h0m1 0h0m1-4h0m1 0h0m2 3h0m2-4h0m1 1h0m0-2h0m-242 22h0m2 0h0m1-2h0m2-1h0m2 1h0m2-3h0m4 4h0m0-8h0m1 3h0m2-1h0m1 1h0m3-3h0m7 5h0m184-5h0m1 8h0m4-6h0m6-3h0m2 0h0m1 3h0m0 3h0m1-4h0m0 2h0m3-4h0m2 0h0m-241 19h0m3 3h0m1-3h0m0 3h0m4-7h0m3 5h0m1-6h0m12 1h0m186 2h0m2 4h0m3-1h0m1-5h0m2 7h0m0-6h0m0 1h0m1-1h0m2-3h0m1 2h0m5-2h0m-242 22h0m5-4h0m0-2h0m5-4h0m0 7h0m2-4h0m1-1h0m10-2h0m1 0h0m0 5h0m186 4h0m2 1h0m1 0h0m2-4h0m1 1h0m1-2h0m4 3h0m0-1h0m2-5h0m-234 19h0m2 1h0m3-1h0m2-7h0m1 5h0m1-6h0m3 3h0m2-1h0m2-4h0m2 4h0m186-2h0m3 4h0m4 0h0m3 5h0m2-5h0m1 1h0m1-3h0m3 2h0m1 0h0m1-3h0m1 2h0m0-3h0m2 1h0m2-1h0m1-2h0m-242 20h0m2-2h0m1-1h0m1 5h0m1-4h0m0 1h0m0 2h0m1-4h0m1 4h0m1-9h0m1 4h0m1-4h0m2 4h0m1-3h0m0 3h0m1-1h0m2-3h0m1 5h0m0 1h0m4-1h0m0 6h0m189-3h0m11-2h0m0-5h0m1 6h0m0-4h0m7-3h0m-241 21h0m3-4h0m2 1h0m1 4h0m1-8h0m7-2h0m0 1h0m1-1h0m0 6h0m187 3h0m5-1h0m0 2h0m1-2h0m3-2h0m5-3h0m2 7h0m1-10h0m1 8h0m0-1h0m0-6h0m5-1h0m0 3h0m-238 20h0m1-3h0m2-3h0m3-1h0m2-2h0m0 2h0m1 7h0m0-9h0m4 3h0m5-2h0m193 2h0m4 0h0m3 2h0m0 2h0m3-4h0m1 1h0m2-4h0m2-2h0m-232 23h0m0-9h0m3 0h0m1 6h0m3-8h0m2 3h0m1 3h0m4-4h0m1 2h0m190 6h0m1 0h0m3-1h0m3-7h0m3 4h0m2-2h0m1-3h0m4 0h0m0-1h0m-245 23h0m7-5h0m1-3h0m1 4h0m1 4h0m0-9h0m0 3h0m1-3h0m4 0h0m1-1h0m5 1h0m1 0h0m191 5h0m1 2h0m1-5h0m4-2h0m0 1h0m1-2h0m1 5h0m0-5h0m5 3h0m0 2h0m0-6h0m2 3h0m0 2h0m-239 18h0m2-3h0m1-2h0m2 0h0m1 2h0m1 0h0m0-5h0m2 0h0m0-1h0m4 0h0m2 3h0m1-1h0m0-2h0m189 3h0m2 4h0m5 2h0m1-7h0m1 4h0m3-2h0m1-3h0m1 1h0m1 2h0m6-6h0m1 4h0m-237 19h0m4-7h0m2 3h0m0-5h0m3 3h0m0 1h0m0-5h0m2 3h0m190 3h0m7-2h0m1 2h0m4 2h0m1-5h0m1 0h0m0 1h0m0 2h0m4-7h0m0 2h0m3 0h0m1 2h0m6-4h0m-240 20h0m1-4h0m1 0h0m1-1h0m1 8h0m0-10h0m1 5h0m1-1h0m2 6h0m2-2h0m4-8h0m2-1h0m8 5h0m187-2h0m0 1h0m1 2h0m5 1h0m1 1h0m3-3h0m-228 7h0m0 9h0m0 2h0m1-11h0m0 2h0m0-1h0m1-1h0m0 5h0m0-1h0m2 6h0m0-4h0m1-4h0m0 5h0m1-4h0m2 0h0m5 6h0m9-8h0m154 10h0m5-4h0m1 3h0m0-4h0m2 1h0m2-3h0m0 1h0m2 0h0m1 4h0m0-7h0m1 9h0m5-3h0m10 0h0m3-5h0m0 2h0m0 2h0m2 0h0m1-6h0m2 6h0m1-6h0m2-1h0m2 0h0m2 1h0m0-1h0m-218 13h0m3 5h0m2-2h0m0-4h0m1 10h0m1-2h0m0-6h0m1 1h0m0 5h0m1-2h0m1-2h0m0 4h0m0 1h0m1-6h0m1 3h0m0 4h0m1-3h0m0-1h0m1 2h0m1-3h0m2 6h0m5 0h0m144-7h0m5 6h0m1 1h0m0-3h0m1-1h0m2-2h0m2-1h0m0-2h0m2 6h0m0-1h0m0-7h0m0 2h0m1-2h0m0 4h0m0 3h0m2 3h0m0-7h0m1 2h0m9 0h0m0 3h0m1-2h0m1 3h0m1-7h0m2 4h0m2 1h0m2-4h0m3-1h0m2-2h0m-194 12h0m0 2h0m1 0h0m0-1h0m1 1h0m1 5h0m0-3h0m1 2h0m1 2h0m0-4h0m1 5h0m1-5h0m0 3h0m1-5h0m1 3h0m1-4h0m2 2h0m0 2h0m2-3h0m1 5h0m0-5h0m3 3h0m1 2h0m1 3h0m116-4h0m5 4h0m0-1h0m4-3h0m0 1h0m2 0h0m1 0h0m2 2h0m1-6h0m1 4h0m0-4h0m0 3h0m0-1h0m1 3h0m2-7h0m4 0h0m1 10h0m0-2h0m3-7h0m2 0h0m0-1h0m15 1h0m-181 12h0m10 6h0m7-7h0m1 8h0m0-9h0m1 1h0m0 3h0m0-1h0m0 2h0m0-3h0m1 0h0m1 6h0m1-1h0m2-2h0m0 6h0m0-9h0m2 5h0m1-2h0m0-1h0m1 5h0m2 0h0m2 0h0m1-1h0m3-1h0m1 3h0m1-6h0m1 7h0m2 0h0m2-1h0m0-10h0m3 9h0m2 1h0m6-2h0m2 3h0m31-1h0m18-1h0m7 2h0m2 0h0m3-4h0m1 2h0m2-4h0m3 3h0m0 2h0m1 0h0m1 0h0m1 1h0m0-6h0m1 2h0m2 0h0m1-4h0m0 2h0m1 3h0m1-2h0m0 3h0m2-1h0m2 3h0m0-9h0m2 1h0m0 3h0m0 2h0m1 1h0m2-2h0m3-2h0m1-3h0m1 6h0m1-8h0m2 0h0m1 4h0m1 0h0m-126 8h0m1 0h0m1 3h0m2 3h0m2-6h0m3 8h0m1-2h0m2-4h0m2 2h0m2-3h0m1 1h0m0 4h0m1-1h0m0-4h0m2 8h0m0-9h0m1 1h0m1 10h0m0-9h0m0 2h0m3-4h0m1 1h0m0 6h0m1 1h0m1-2h0m0-6h0m0 4h0m1 4h0m1-4h0m0 4h0m1 1h0m0 2h0m0-8h0m2 5h0m1-1h0m1-3h0m2 7h0m3-2h0m3 0h0m2-1h0m0 3h0m1 0h0m1-4h0m0 2h0m0-1h0m0 3h0m0-1h0m1-3h0m0 4h0m1-3h0m0 1h0m1 2h0m3-1h0m1-1h0m3-4h0m0 5h0m1 0h0m0-4h0m1 3h0m2 1h0m0-8h0m1 1h0m0 4h0m1 4h0m1-2h0m3 1h0m1 1h0m5-11h0m2 9h0m0 2h0m1-2h0m1-1h0m0 3h0m1-1h0m1-2h0m0 2h0m0-1h0m1 0h0m0-3h0m2-1h0m1-1h0m0 2h0m1 3h0m1-6h0m1 7h0m1-1h0m1 0h0m0-1h0m2-8h0m1 9h0m1-9h0m1 1h0m1 1h0m0 6h0m1-4h0m2-2h0m1-2h0m1 0h0m3 5h0m1 2h0m1-6h0m1 1h0m1 3h0m3 4h0m1-9h0m1 0h0m1 1h0m-92 11h0m5 3h0m1-3h0m1 1h0m2 2h0m6-3h0m0 4h0m7 6h0m1-10h0m1 3h0m7-3h0m1 0h0m0 6h0m1-5h0m0 3h0m2-2h0m0 2h0m1-2h0m2 1h0m1-1h0m2-2h0m4 6h0m0-5h0m0-1h0m1 11h0m0-10h0m2-1h0m4 3h0m1-1h0m3 4h0m2-5h0m0 1h0m3-2h0" stroke="#bebebe" stroke-width="6.40" stroke-linecap="round" fill="none"/>
<path transform="scale(0.5)" d="M1033 490h0m5-4h0m-12 10h0m9 6h0m1-3h0m-25 14h0m4 0h0m0-3h0m1-6h0m4 5h0m0-1h0m1 1h0m1-3h0m2-1h0m1 8h0m0-3h0m1 4h0m2 1h0m7-7h0m3 0h0m0-3h0m-38 19h0m2 1h0m1-3h0m0 2h0m2-7h0m3 9h0m1-4h0m3-4h0m1 6h0m1-7h0m0 3h0m6 3h0m0 3h0m4-6h0m3 0h0m1-4h0m2 9h0m8-3h0m2 5h0m-56 7h0m1 5h0m8-10h0m1 4h0m0 3h0m2-1h0m2-4h0m1 3h0m0-1h0m1 3h0m8-8h0m1 2h0m1-1h0m0 2h0m3 2h0m0 5h0m6-2h0m1-2h0m0-3h0m5-2h0m6 6h0m5-1h0m1 2h0m1-6h0m1 9h0m-65 5h0m4-1h0m5 4h0m2-7h0m20 1h0m5 2h0m2 6h0m0-4h0m2-3h0m2 2h0m4 2h0m1-6h0m7 7h0m2 3h0m5-9h0m-73 15h0m0 7h0m1-7h0m8 5h0m1-8h0m0 1h0m1 3h0m1 3h0m1-3h0m1-5h0m4 10h0m1-7h0m6 1h0m1-3h0m0 4h0m0 4h0m7 1h0m1-10h0m2 5h0m2 3h0m6-3h0m3 1h0m1-1h0m1 2h0m6-3h0m3 5h0m2 2h0m1-9h0m4 9h0m3-9h0m5 1h0m1 6h0m2-2h0m2 4h0m-94 8h0m4-2h0m2-2h0m7 0h0m1 7h0m1-8h0m9-2h0m3 11h0m4-8h0m1 2h0m2 6h0m4-10h0m1-1h0m1 10h0m1-10h0m11 7h0m1 4h0m2-4h0m5 1h0m1-3h0m2-2h0m8 3h0m3-1h0m1-5h0m2 11h0m14-9h0m4-2h0m-112 22h0m2 0h0m0 1h0m11-3h0m2-1h0m2-3h0m2 3h0m7-1h0m1 3h0m1-3h0m5 0h0m3-2h0m17-3h0m5 9h0m3-10h0m10 4h0m9 2h0m10-1h0m13-3h0m3 4h0m4-6h0m-115 17h0m4-2h0m0-1h0m5 1h0m4 6h0m5-4h0m2 1h0m1-5h0m6 2h0m2-3h0m4 3h0m2-3h0m5 8h0m0-5h0m0-1h0m1 4h0m1 5h0m3-6h0m3 6h0m2-5h0m9-6h0m3 0h0m6 11h0m1-4h0m4 1h0m2-6h0m12 3h0m19 1h0m4-3h0m-126 15h0m13-3h0m1-3h0m1 3h0m1-3h0m0 11h0m4 0h0m2-9h0m8-2h0m2 8h0m2 3h0m6-3h0m9 0h0m1 1h0m8-1h0m4-4h0m6-3h0m3 5h0m6-3h0m19-2h0m3 4h0m23 2h0m1 1h0m0-8h0m2 6h0m5-3h0m-145 18h0m3-1h0m6 0h0m3-7h0m2 6h0m1-1h0m0 3h0m1-7h0m0 8h0m1-8h0m2 0h0m4 3h0m10-4h0m0 1h0m9 4h0m0 2h0m0-6h0m5-1h0m6 9h0m5-3h0m0-5h0m1 1h0m3 4h0m7-1h0m3 4h0m5-6h0m3 7h0m10 0h0m5-9h0m6 0h0m4-2h0m5 1h0m11 3h0m5 3h0m4-6h0m1 7h0m0-5h0m3 7h0m2-9h0m3 8h0m1 2h0m0-9h0m1 6h0m-154 13h0m3-4h0m8-1h0m10 6h0m11-6h0m1 0h0m2 3h0m9 0h0m1 4h0m1-1h0m9-10h0m1 3h0m17 2h0m3-5h0m1 3h0m1-2h0m3-1h0m3 10h0m1-2h0m2-7h0m9 0h0m7 7h0m6 2h0m1-8h0m4 5h0m5-4h0m8 3h0m4-3h0m2-2h0m0 9h0m8-3h0m16 3h0m2 0h0m1-2h0m-172 11h0m4-4h0m11 2h0m4-4h0m1-1h0m2 10h0m0-10h0m3 11h0m4-2h0m2 2h0m4-2h0m20 1h0m0-6h0m2 1h0m0-5h0m3 5h0m4-3h0m2 1h0m1 5h0m0 3h0m3-6h0m2 4h0m0-5h0m4 6h0m3-9h0m2 4h0m1 4h0m6-9h0m0 4h0m1 1h0m5 2h0m6 2h0m5-5h0m12 3h0m0-5h0m9 5h0m1 0h0m12 0h0m7 3h0m9-7h0m1-2h0m4 6h0m2 4h0m5-5h0m2-3h0m1 5h0m-178 8h0m1-1h0m3-1h0m1 6h0m2-5h0m7-1h0m10 2h0m11-1h0m7 1h0m12 1h0m1-4h0m3 3h0m3-4h0m6 3h0m10 5h0m15-4h0m35-1h0m8 5h0m3 3h0m0-8h0m11 5h0m4-5h0m4 5h0m1 0h0m2 3h0m0-1h0m9-3h0m1-6h0m4-1h0m2 6h0m-188 15h0m0-6h0m14 7h0m2-2h0m10-1h0m1 4h0m16-5h0m7-5h0m6 7h0m0 3h0m5-10h0m2 7h0m1-2h0m15-4h0m1 6h0m2-7h0m3 2h0m15 0h0m3 1h0m6-1h0m4 0h0m5 6h0m3-1h0m8-5h0m5 5h0m2-7h0m11 6h0m0-2h0m8-1h0m0 2h0m4 0h0m0-4h0m4 2h0m2 6h0m3-6h0m1-1h0m2-1h0m0 2h0m2 5h0m0 1h0m11-2h0m1-7h0m1 8h0m1-3h0m0-1h0m4-3h0m-211 21h0m2-3h0m2-1h0m3-3h0m1 4h0m14 0h0m2-6h0m7-1h0m4 4h0m6-5h0m11 7h0m5 0h0m3-3h0m2-2h0m9 6h0m12 2h0m24-9h0m10 7h0m3 3h0m6-1h0m7-7h0m1-2h0m19 5h0m2-3h0m1 6h0m0-4h0m4 1h0m2 3h0m0 2h0m4-6h0m0 2h0m2 0h0m2 4h0m0-6h0m4 1h0m3 3h0m5-5h0m7 7h0m7-7h0m8 5h0m1-9h0m0 8h0m3-3h0m1 3h0m1 2h0m3-7h0m-222 17h0m4 1h0m0-2h0m7-5h0m7 7h0m2-1h0m2-3h0m8-5h0m10 7h0m5 2h0m1-8h0m10 3h0m0-1h0m1 4h0m7 1h0m8-8h0m11 8h0m2-5h0m1 3h0m10-5h0m2 6h0m19-7h0m10 10h0m15-1h0m3 2h0m7-8h0m4 1h0m8-1h0m0 2h0m1 1h0m5-1h0m0-1h0m3 6h0m1 1h0m2-4h0m8-4h0m3 1h0m12 3h0m2 1h0m3-2h0m3-1h0m2-3h0m5 0h0m-230 21h0m3-4h0m1-1h0m1-3h0m2 6h0m2 1h0m1-6h0m0-3h0m1 2h0m0 1h0m3 4h0m2 1h0m4-7h0m2 9h0m1-7h0m4 4h0m21-1h0m3 3h0m10-3h0m4-1h0m7-5h0m1 6h0m1-4h0m0-2h0m4 8h0m15-3h0m47-4h0m14 0h0m1 9h0m0-9h0m3 0h0m1-2h0m1 4h0m4-4h0m4 6h0m3 2h0m5-8h0m2 11h0m3-5h0m2 1h0m1 3h0m6-7h0m2 1h0m9 3h0m2 1h0m0 1h0m2-2h0m2-4h0m1 6h0m4-1h0m-219 9h0m3-4h0m2 0h0m0 2h0m6-1h0m3-1h0m1 9h0m6 1h0m3-4h0m1 4h0m0-4h0m0 3h0m1-10h0m8 10h0m1-10h0m7 1h0m10 10h0m1-6h0m5-2h0m23-3h0m22 4h0m1 3h0m31-7h0m20 7h0m3-2h0m5-3h0m0 6h0m0-1h0m5-5h0m1-2h0m1 7h0m0-1h0m1-1h0m0 5h0m4 0h0m0-2h0m2 2h0m2-7h0m4 5h0m11 2h0m5-5h0m1 6h0m3-5h0m3 3h0m0-8h0m0 1h0m0 6h0m3-7h0m3 2h0m-234 20h0m6-2h0m1-2h0m2-3h0m6 3h0m7 4h0m1 0h0m0-7h0m0-4h0m7 3h0m9 2h0m14-5h0m2 4h0m11 2h0m0 3h0m7-9h0m7 2h0m0 9h0m3-4h0m3 1h0m41 1h0m2-2h0m13 2h0m2-7h0m12-2h0m5 0h0m2 4h0m16 3h0m0-2h0m1-4h0m1 5h0m5-1h0m3 1h0m2-1h0m1 6h0m1-10h0m1 10h0m3-9h0m2-1h0m1 0h0m2 9h0m3-3h0m1-1h0m0 1h0m0-6h0m3 2h0m2 2h0m3-4h0m-220 16h0m5 3h0m3 0h0m1-4h0m0 6h0m2-2h0m6-7h0m3 5h0m5-1h0m12-5h0m10 8h0m7 1h0m13-5h0m3 1h0m5-5h0m2 3h0m1-1h0m15 7h0m27 2h0m9-9h0m2 0h0m7 9h0m5-4h0m1-4h0m4 7h0m9-4h0m8 4h0m6-5h0m4 0h0m2-1h0m0 7h0m6-2h0m5 0h0m6-6h0m3-2h0m0-1h0m1 8h0m1 0h0m8-6h0m4 0h0m6-2h0m-229 18h0m3-3h0m2 3h0m11-2h0m2-1h0m3 6h0m2 1h0m2 1h0m8-8h0m26 6h0m4-7h0m16-1h0m21 1h0m25 1h0m4 8h0m2-4h0m4-7h0m7 3h0m1-1h0m1 8h0m17-9h0m1 1h0m5-1h0m2 3h0m2-1h0m1 5h0m1-2h0m0-1h0m0 2h0m6-5h0m3 3h0m4 1h0m1 3h0m1-9h0m3 4h0m2 4h0m1 1h0m1-6h0m2 1h0m0 3h0m0 3h0m0-10h0m0 11h0m0-8h0m9 5h0m-225 15h0m24-4h0m2-5h0m1 4h0m26 0h0m10 0h0m10-2h0m14 0h0m6 7h0m0-11h0m39 9h0m2-9h0m15 6h0m2 1h0m11-5h0m4 0h0m2 6h0m5 1h0m2-4h0m1 6h0m3-3h0m4-8h0m8 5h0m2 5h0m1-8h0m2 3h0m4 3h0m3-2h0m4 5h0m4-1h0m5-3h0m0-6h0m-220 17h0m1 0h0m15 2h0m10-3h0m3-3h0m20-2h0m40 0h0m27 11h0m5-7h0m2 1h0m14 4h0m3 2h0m6-5h0m4-2h0m2-4h0m3 7h0m4-2h0m11 6h0m3-5h0m1-6h0m6 7h0m1-1h0m1 2h0m11-4h0m3 5h0m6-1h0m0-1h0m5 0h0m1-3h0m-230 19h0m6-1h0m3 1h0m4-8h0m8-2h0m66 1h0m7 4h0m5 5h0m3-6h0m39-3h0m2 1h0m9-2h0m2 10h0m4-1h0m1-1h0m4-6h0m3-2h0m4 9h0m1-10h0m4 5h0m1 2h0m13-4h0m5 3h0m3 5h0m0-8h0m5 8h0m1 0h0m10-9h0m1 7h0m4-3h0m2-3h0m0-1h0m4-2h0m-225 16h0m9 1h0m4-4h0m51 8h0m8 1h0m3-6h0m5 2h0m53 2h0m10-6h0m8 9h0m16-5h0m5 2h0m1-7h0m2-1h0m3 4h0m2 5h0m3-1h0m1-6h0m1 1h0m5 3h0m2-2h0m0 7h0m4-7h0m5-4h0m5 2h0m2-1h0m3 0h0m-235 22h0m9-4h0m2 3h0m18-2h0m12-6h0m32 4h0m36 0h0m10 0h0m5-6h0m15 2h0m16 7h0m8-2h0m6-7h0m4 2h0m3 2h0m5 7h0m0-4h0m4 3h0m3 0h0m1-1h0m0-8h0m5 10h0m4-8h0m5 7h0m2-6h0m0 7h0m-215 11h0m7-8h0m0-1h0m0 2h0m6 7h0m4-7h0m3 7h0m0-8h0m2 0h0m3 2h0m5 7h0m46-4h0m50-3h0m9 2h0m4-2h0m2 4h0m11 0h0m6 2h0m11-9h0m9 1h0m10 6h0m3 1h0m3-3h0m21-1h0m-228 15h0m3-3h0m2-1h0m0 2h0m16-5h0m2 1h0m3 3h0m8-1h0m17-1h0m58-2h0m40 2h0m3 3h0m0 2h0m1 0h0m2-6h0m5 5h0m15-1h0m6 0h0m10 5h0m3-9h0m1 6h0m8-7h0m1 4h0m1-4h0m1 10h0m2-10h0m5 0h0m1 0h0m-221 14h0m1 4h0m7-1h0m137 4h0m16-6h0m3 7h0m1-1h0m5-8h0m2 6h0m12-4h0m0 7h0m11-3h0m18-7h0m-233 22h0m1-4h0m5-2h0m3-4h0m4-1h0m0 2h0m9 1h0m1-3h0m0 2h0m2 8h0m9-2h0m2-2h0m85 0h0m45 0h0m15 5h0m5-8h0m1 2h0m7 4h0m4-3h0m1 4h0m0-1h0m0-6h0m2 5h0m13 1h0m5-6h0m-228 20h0m10-2h0m1 2h0m5-7h0m4-3h0m116 3h0m37-3h0m3 3h0m5 5h0m11 2h0m2-11h0m0 8h0m1-8h0m1 5h0m3 2h0m1 2h0m1-1h0m2 2h0m2-9h0m2 8h0m2-3h0m2-6h0m3 3h0m1 1h0m-218 9h0m12 7h0m1-6h0m2 0h0m123 0h0m11 0h0m16 9h0m1-1h0m13-9h0m4 2h0m10-2h0m4 1h0m-222 20h0m4-6h0m4-1h0m5 6h0m2-2h0m2 3h0m2-1h0m6-5h0m1 2h0m7-4h0m1 5h0m1 3h0m155-3h0m8 4h0m13-10h0m2 1h0m-221 21h0m11-8h0m0-1h0m6-1h0m17 6h0m150-7h0m4 11h0m3-1h0m3-2h0m-209 14h0m6 0h0m0-1h0m2 1h0m0-10h0m5 5h0m6-4h0m1-1h0m164 10h0m12-4h0m5 3h0m8 1h0m3-7h0m2 1h0m5-4h0m-235 21h0m0 2h0m9-11h0m2 11h0m2-2h0m1-9h0m4 7h0m4 3h0m5-5h0m8 1h0m2 3h0m142-8h0m21 6h0m10-5h0m2-2h0m-227 23h0m6-5h0m7 5h0m4 0h0m1-1h0m1-7h0m9-2h0m4 4h0m18 5h0m147-8h0m12 2h0m6-1h0m-220 16h0m4-6h0m14 0h0m20-1h0m140 5h0m16 0h0m0 3h0m2 1h0m5 2h0m2-2h0m8-3h0m-230 15h0m41-4h0m159-4h0m1 7h0m1-2h0m9 2h0m10-6h0m-229 16h0m7-4h0m0 7h0m17-3h0m15-4h0m161-1h0m5 6h0m1-6h0m9 1h0m-221 17h0m4-4h0m0-3h0m3 10h0m6-6h0m151 6h0m4-1h0m10-1h0m8-1h0m2 4h0m5-2h0m8 1h0m1-10h0m6 3h0m-227 20h0m4-2h0m1-9h0m2 9h0m1-1h0m7-5h0m2-1h0m5 2h0m168 5h0m8-4h0m18-4h0m-227 22h0m5-6h0m8 3h0m0-4h0m1-1h0m8 3h0m1-4h0m172 5h0m8-4h0m9-3h0m-226 20h0m3-2h0m1-4h0m4 7h0m3-4h0m4 4h0m1-4h0m3-4h0m168 6h0m4-6h0m7 6h0m5 3h0m1 1h0m-217 8h0m2-1h0m5-6h0m1 0h0m4 5h0m3-4h0m26 8h0m133-1h0m28-2h0m2 3h0m-217 10h0m1 2h0m3-3h0m4-5h0m1 5h0m3 3h0m2-8h0m2 10h0m10-2h0m0-8h0m168 3h0m5-4h0m4 9h0m2-8h0m4 1h0m0 1h0m0 4h0m-227 15h0m17-8h0m3 2h0m1 3h0m5-1h0m190-3h0m-221 19h0m3-4h0m7-4h0m0 5h0m1 2h0m2-7h0m1 9h0m1-6h0m4-5h0m163 10h0m12 1h0m15-11h0m5 0h0m2 0h0m-236 22h0m4-4h0m0-1h0m9-2h0m7 8h0m2 0h0m5-2h0m170 2h0m2-6h0m9-2h0m9 1h0m1-4h0m-223 17h0m9 0h0m1 0h0m1 5h0m3-1h0m1 1h0m1-7h0m11-1h0m141 4h0m9 1h0m7-3h0m15 5h0m2 1h0m2 1h0m3-1h0m4-9h0m-227 21h0m1 0h0m6-10h0m1 1h0m1 8h0m0-6h0m3 7h0m5-10h0m173 10h0m6-2h0m7 0h0m5 2h0m-212 7h0m1 0h0m2 1h0m2-3h0m2-3h0m12 2h0m3 5h0m178-4h0m1 8h0m5-11h0m-221 13h0m3 5h0m3 2h0m4-3h0m1-2h0m2 0h0m5 8h0m0-3h0m162-4h0m1 1h0m26 2h0m-222 7h0m5 1h0m14 1h0m11 4h0m3-6h0m142 7h0m20-6h0m12 2h0m-224 13h0m1 3h0m1 1h0m4 0h0m1-6h0m2 4h0m3-2h0m3-5h0m3 0h0m3 0h0m10 0h0m157 2h0m15 0h0m-204 14h0m7-4h0m10 5h0m2 2h0m160 2h0m2-4h0m1 4h0m6-4h0m2-4h0m-215 20h0m3 0h0m9-1h0m2-9h0m5 10h0m1-1h0m2 2h0m1-10h0m185 3h0m0 1h0m-214 17h0m7-3h0m2 0h0m7-3h0m20-1h0m148 5h0m7 3h0m15-11h0m1 0h0m3 1h0m-232 20h0m9-4h0m10-1h0m0 6h0m3-3h0m0-1h0m6 1h0m10 1h0m7 2h0m150-5h0m0 6h0m1-11h0m2 1h0m3 7h0m4-4h0m2 2h0m6 4h0m0-8h0m6 0h0m-220 17h0m1 3h0m1 1h0m5-7h0m1 6h0m4-10h0m3 1h0m2-1h0m173 2h0m0 2h0m11 1h0m2-2h0m-204 14h0m6-2h0m164 2h0m10-4h0m1 6h0m5-4h0m1-2h0m-190 11h0m4 0h0m1 4h0m4 2h0m137 5h0m3-11h0m15 9h0m20-3h0m2-2h0m-38 16h0m9 1h0m1-9h0m11 8h0m-32 8h0m17 2h0m0 1h0m-16 10h0m5 2h0m7-6h0m-56 21h0m24 0h0m8 1h0m0-1h0m-21 7h0m1 0h0m-41 18h0m15-1h0m11 0h0m-16 13h0m11-8h0m1 4h0m7-3h0m-36 14h0m6 0h0m9 1h0m3 4h0m-18 6h0m5 4h0m-43 13h0m7-3h0m7-2h0m4-3h0m18-1h0m-33 17h0m17 4h0m6-10h0m-25 23h0m12-11h0m3 0h0m-34 27h0m6-2h0" stroke="#ffffff" stroke-width="4.20" stroke-linecap="round" fill="none"/>
<path transform="scale(0.5)" d="M601 887h0m1 0h0m-16 12h0m1 0h0m2-2h0m2 1h0m0-5h0m1 2h0m1-1h0m4-3h0m2-1h0m1-1h0m0-1h0m-28 21h0m1 1h0m1-1h0m3 1h0m0 1h0m1 0h0m1-2h0m1 0h0m0-1h0m1-1h0m1 0h0m2-5h0m1 2h0m0-1h0m3-2h0m-24 19h0m1 2h0m4-8h0m1 2h0m0 2h0m1-3h0m1 0h0m0 1h0m3-3h0m-28 21h0m1-1h0m2 0h0m4-2h0m3-4h0m3-1h0m0-2h0m-23 23h0m1-3h0m1 3h0m0-2h0m3-2h0m0-3h0m2 2h0m2-2h0m2-2h0m0-1h0m-26 21h0m3 0h0m1 0h0m1-3h0m4-3h0m2-2h0m-25 18h0m10-3h0m2-2h0m1-2h0m4-1h0m-24 21h0m1 0h0m1-1h0m1-2h0m2-3h0m2-1h0m-25 21h0m5-3h0m1 0h0m2-2h0m0 2h0m1-3h0m1-2h0m0 3h0m1-3h0m1 2h0m3-4h0m-22 22h0m0-6h0m1 2h0m1 2h0m0-1h0m0-5h0m3 2h0m3-5h0m2 0h0m-24 23h0m0-1h0m3-3h0m3-2h0m0-2h0m1 0h0m1 1h0m3-3h0m1-1h0m216 11h0m1-3h0m0 2h0m-244 12h0m2 0h0m1 0h0m1 0h0m0-3h0m1-3h0m0 4h0m2-1h0m1-3h0m1 1h0m0-1h0m1 0h0m221 7h0m1-1h0m0-1h0m3 0h0m1-2h0m2-3h0m1-3h0m1 4h0m3-4h0m2 0h0m-258 21h0m1 0h0m1 0h0m3-5h0m2 1h0m0-1h0m1 0h0m0-2h0m3-2h0m2-1h0m224 10h0m0-5h0m0 3h0m0-2h0m1-2h0m1 0h0m0 1h0m1-5h0m1 2h0m2 3h0m2-1h0m-259 19h0m2 0h0m4-3h0m4-3h0m0-3h0m1 0h0m222 8h0m1-3h0m1 2h0m1-3h0m2-2h0m1-1h0m1 0h0m1 3h0m-251 17h0m1 0h0m0-2h0m1 0h0m0-3h0m2-2h0m1 3h0m1-3h0m2 1h0m4-3h0m215 9h0m1-1h0m5 1h0m1-5h0m3-1h0m0 2h0m0-1h0m1-2h0m2-4h0m3 2h0m0-2h0m-253 18h0m1 2h0m2-3h0m0 1h0m1-3h0m1 2h0m1-5h0m219 11h0m1-2h0m3-2h0m2-2h0m4-3h0m1 1h0m1-3h0m0 4h0m0-2h0m1 6h0m4-7h0m-256 22h0m0-3h0m10-8h0m0 2h0m221 6h0m4 0h0m2-5h0m1-1h0m1-2h0m4 0h0m1 0h0m-254 17h0m0-1h0m0 4h0m1-1h0m222 4h0m4-3h0m3-3h0m1 2h0m0-2h0m0-1h0m1-2h0m1 3h0m2-4h0m1 6h0m0 2h0m1-9h0m1 4h0m-260 19h0m1-1h0m4 1h0m5-5h0m2-1h0m1-1h0m2-3h0m2-1h0m1 1h0m216 8h0m1-1h0m2 2h0m4 0h0m0-5h0m1 0h0m0 1h0m2-4h0m6 1h0m-262 19h0m4 1h0m1 0h0m0-1h0m1-3h0m1-1h0m1 2h0m1-3h0m2 0h0m0-1h0m2-3h0m1 2h0m1-3h0m1 1h0m216 10h0m2 0h0m1-2h0m4-2h0m2 3h0m2-10h0m2 0h0m1 2h0m-256 21h0m1-2h0m1-5h0m2 0h0m1-4h0m2 8h0m1-4h0m0 3h0m0-1h0m2-3h0m2-3h0m2 0h0m218 8h0m1 0h0m0 3h0m2-4h0m2-2h0m0-2h0m0 3h0m4-4h0m0-1h0m0 3h0m3-2h0m-255 21h0m0-3h0m2 1h0m0-1h0m3-1h0m1-5h0m221 9h0m1-2h0m2 1h0m0-2h0m1 1h0m0-2h0m2-1h0m4-3h0m5 5h0m1-5h0m-262 20h0m9-9h0m0 3h0m1 3h0m1-1h0m1 0h0m0-1h0m1-3h0m0 2h0m2-1h0m2-3h0m217 10h0m1-1h0m5 0h0m2-3h0m6-4h0m-260 20h0m6-4h0m0 2h0m1-2h0m0 3h0m4-4h0m3-4h0m0-2h0m1 2h0m0 2h0m1-2h0m221 6h0m1-1h0m0 1h0m3-5h0m1 1h0m3-4h0m3 8h0m0-2h0m1-5h0m0 4h0m1-4h0m1-1h0m-266 22h0m3 1h0m3-1h0m3-1h0m0-5h0m0 4h0m1-7h0m0 8h0m1-5h0m1 1h0m1 1h0m1 1h0m2-5h0m0-1h0m2 2h0m2-3h0m1 0h0m215 11h0m2-2h0m0 2h0m4-7h0m0 2h0m2-4h0m0 2h0m1 0h0m0-3h0m1 1h0m0 4h0m1-3h0m-257 20h0m1 0h0m5-1h0m1 1h0m0-1h0m2-2h0m0-2h0m1-5h0m0 4h0m0 3h0m1-4h0m0-1h0m0 4h0m1-6h0m1 1h0m0 1h0m2-2h0m0-1h0m219 9h0m5-4h0m1-1h0m1-1h0m2 0h0m1-2h0m1 1h0m-255 19h0m1 1h0m1 1h0m0-1h0m1-4h0m0 4h0m1 0h0m1-4h0m0 2h0m1 0h0m2-2h0m223 5h0m1 0h0m1-4h0m3-1h0m2-4h0m1 5h0m4-6h0m1 1h0m3-2h0m1 0h0m-259 20h0m1 3h0m0-2h0m1 2h0m1-2h0m0-4h0m1 3h0m0-5h0m1 3h0m1 1h0m3-4h0m1-1h0m1 1h0m1-3h0m1 0h0m216 11h0m0-1h0m1-1h0m1 2h0m0-3h0m1 2h0m1-3h0m2 1h0m1-2h0m1-2h0m0 1h0m1 2h0m1-5h0m1-2h0m0 4h0m3 1h0m-260 18h0m5-2h0m0 1h0m1 1h0m0-5h0m2 3h0m0-2h0m0-5h0m1 5h0m0 1h0m1-5h0m0 4h0m2-1h0m0-3h0m3-2h0m2-1h0m222 11h0m1-5h0m1 3h0m1-6h0m0 2h0m1-5h0m0 9h0m0-6h0m7 2h0m1-1h0m-259 18h0m2 1h0m0-2h0m2-1h0m1-4h0m3-2h0m1-2h0m220 11h0m5-4h0m0 1h0m1-1h0m0-2h0m1-2h0m1-1h0m0 7h0m0-6h0m1 2h0m0-3h0m5 2h0m-245 10h0m1-2h0m1 0h0m1 0h0m216 9h0m3 2h0m0-1h0m2-6h0m2 0h0m0 3h0m1-6h0m1 4h0m0-5h0m1 1h0m0-1h0m1 2h0m0-1h0m-26 21h0m5 1h0m1-3h0m2-2h0m1 3h0m1-4h0m1-3h0m1-2h0m0 1h0m2 1h0m1-2h0m-27 23h0m1 0h0m1-3h0m1 2h0m1-1h0m2-1h0m0-3h0m1 0h0m2 1h0m1-1h0m0 1h0m1-6h0m1 7h0m2-7h0m-22 20h0m0-2h0m2 2h0m1-3h0m1-2h0m2 1h0m2-4h0m1 0h0" stroke="#ffa500" stroke-width="6.00" stroke-linecap="round" fill="none"/>
<line x1="54.4" y1="676.4" x2="700.1" y2="68.0" stroke="#6860e2" stroke-width="1.5" stroke-dasharray="3.2 3.4"/>
<line x1="54.4" y1="782.1" x2="700.1" y2="173.8" stroke="#6860e2" stroke-width="1.5" stroke-dasharray="3.2 3.4"/>
<path transform="scale(0.5)" d="M973 418h0m34 12h0m-296 8h0m112 23h0m86 6h0m-355 5h0m374 6h0m-452 9h0m90-7h0m12 12h0m275 11h0m72-5h0m37 5h0m-526 7h0m413 2h0m57 0h0m20-2h0m47 0h0m6 1h0m1-4h0m14-3h0m-710 14h0m289 3h0m380 5h0m13-4h0m6 1h0m1-7h0m0 1h0m7 3h0m-484 15h0m347-3h0m114 1h0m2 4h0m3 0h0m2-7h0m3 0h0m-438 16h0m156-6h0m124 8h0m49-5h0m84 0h0m3 2h0m0 2h0m7 2h0m1-7h0m-554 10h0m252 6h0m45 4h0m136-10h0m90 10h0m6-1h0m2 1h0m2 0h0m9-9h0m6 3h0m2-3h0m-117 22h0m80-5h0m-585 13h0m344-3h0m170 2h0m39-2h0m20 7h0m11-2h0m2 0h0m-347 4h0m136 2h0m149 3h0m13-3h0m36 7h0m-47 3h0m9 7h0m10 2h0m2-1h0m9-1h0m2 3h0m8-7h0m1 4h0m249-6h0m-825 12h0m325 8h0m61-6h0m137 6h0m26-9h0m15-1h0m240 9h0m-384 12h0m9-9h0m57 4h0m13 0h0m308 5h0m19-4h0m-886 16h0m164 0h0m74-9h0m40 0h0m30 9h0m38 0h0m10-5h0m80-4h0m10 4h0m13 0h0m47 2h0m5 4h0m20-4h0m24 3h0m4-9h0m15 11h0m4 0h0m9-7h0m13-4h0m-487 12h0m12 5h0m348 5h0m15 0h0m1-4h0m5 3h0m38-8h0m0 6h0m6-7h0m1 9h0m13-6h0m2 6h0m8-8h0m0 7h0m2-5h0m2 0h0m1-3h0m3 2h0m2-1h0m1 7h0m7-7h0m258 6h0m18-5h0m3 1h0m-864 20h0m114-5h0m132-3h0m18 3h0m170-5h0m51 2h0m10-2h0m12 0h0m10 0h0m7 3h0m3 0h0m10 6h0m4-9h0m3 4h0m4 0h0m4-2h0m10 5h0m2-1h0m4-2h0m10-5h0m3 2h0m244 4h0m5-4h0m6 2h0m16 2h0m7-4h0m-781 16h0m16 2h0m358-7h0m3 5h0m10 0h0m7-4h0m2 3h0m11-5h0m13 10h0m8-3h0m2-1h0m30 1h0m4-4h0m0 3h0m1 4h0m1-9h0m1 7h0m4-7h0m1 2h0m1 6h0m0-2h0m1 0h0m0-6h0m6 5h0m3 0h0m2-6h0m1 2h0m256-2h0m22 0h0m43 7h0m-889 5h0m9 11h0m17-5h0m47 3h0m196 0h0m34-6h0m19 2h0m158 2h0m27 1h0m8-3h0m9 5h0m4-1h0m4-6h0m2 7h0m4-6h0m2 2h0m8 4h0m0-9h0m4 7h0m251 3h0m5-1h0m1-4h0m-774 17h0m126-10h0m141 3h0m74-2h0m7 6h0m11-5h0m50 4h0m17 1h0m2-7h0m8 10h0m20 0h0m5-8h0m5 1h0m3-4h0m11 9h0m2-8h0m4 10h0m1-6h0m2-1h0m2-3h0m4-1h0m1 1h0m2 1h0m1 8h0m1-9h0m0 2h0m2 4h0m255-6h0m19 8h0m-696 12h0m8 2h0m3-5h0m32 5h0m46-3h0m103 2h0m16-7h0m1 1h0m38 3h0m1-3h0m43 2h0m25-4h0m28 1h0m23 0h0m10 2h0m4 1h0m3-2h0m8 0h0m1 5h0m1-3h0m3-5h0m8 0h0m2 0h0m0 3h0m4-2h0m4-1h0m3 2h0m-328 13h0m116 1h0m83-4h0m19 0h0m40-1h0m23 10h0m0-7h0m3-3h0m5 5h0m1 1h0m4 3h0m3-1h0m1-3h0m2 3h0m8-8h0m5 2h0m1 1h0m2-3h0m259 5h0m15-1h0m11-3h0m-674 12h0m15 1h0m7 4h0m193-6h0m18 11h0m43-4h0m20-2h0m9 4h0m4 2h0m14 0h0m23-3h0m8-6h0m2 8h0m0-9h0m3 6h0m0 2h0m7 1h0m2-6h0m1 0h0m3-4h0m6 0h0m-474 21h0m71-4h0m53 1h0m135 4h0m45-8h0m14 0h0m12 8h0m5-2h0m0-6h0m43 6h0m5 3h0m24-4h0m23 1h0m0 1h0m1-2h0m5-6h0m1 8h0m0-7h0m2 0h0m0 3h0m3 4h0m1-5h0m0 3h0m1-6h0m0 9h0m0-1h0m3-9h0m1 7h0m8-7h0m0 3h0m270-3h0m-771 21h0m83-4h0m43 2h0m47 3h0m135-10h0m11 10h0m9-8h0m6 2h0m11-3h0m9 9h0m4 1h0m14-10h0m3 6h0m3-2h0m30 2h0m3-6h0m19 9h0m2-2h0m4-5h0m1 0h0m15-3h0m1 10h0m3-1h0m5 2h0m4-4h0m6 3h0m4 1h0m3 0h0m4-9h0m2 3h0m1 0h0m2 1h0m263-4h0m42 8h0m-815 4h0m52 7h0m13 1h0m20 1h0m26-6h0m45 6h0m4-9h0m23 0h0m104 1h0m37-1h0m2 3h0m12-1h0m33 5h0m8-1h0m2-7h0m10 3h0m21 5h0m9 0h0m16-4h0m2-5h0m9 9h0m3-4h0m0 6h0m5-1h0m7 1h0m5-10h0m3 0h0m1 2h0m6 2h0m2 4h0m9 1h0m2 0h0m12-8h0m243 9h0m35-3h0m10 2h0m-726 3h0m65 0h0m16 7h0m29-8h0m37 0h0m2 10h0m5-7h0m1 1h0m10 6h0m36-8h0m52 3h0m28 6h0m17-2h0m4 2h0m39-9h0m17 2h0m3-4h0m6 8h0m0-1h0m15-6h0m5 5h0m2-2h0m0 6h0m4 0h0m12-9h0m2 7h0m1-3h0m4-5h0m6 2h0m6-1h0m254 5h0m1-6h0m9 6h0m-736 9h0m32 5h0m14-6h0m12 3h0m26 5h0m1 1h0m5-11h0m7 4h0m32-1h0m7-2h0m83 4h0m40 6h0m22-8h0m5-1h0m26 9h0m6-3h0m8 1h0m6-9h0m7 2h0m0-1h0m6 8h0m16 0h0m11 2h0m7 0h0m16-10h0m13 9h0m7 0h0m13 1h0m6-5h0m7 4h0m0-7h0m3-1h0m0-1h0m7 0h0m0 7h0m5-8h0m3 1h0m239 9h0m1-2h0m16-6h0m26 5h0m-760 10h0m35 3h0m84-7h0m14 2h0m18 3h0m5-5h0m84 2h0m35 3h0m34-1h0m5 2h0m8 1h0m13 1h0m20-1h0m11-2h0m7-3h0m1-1h0m2-2h0m5 5h0m3-2h0m6 7h0m5 1h0m13-9h0m1 9h0m10 0h0m6-9h0m15 0h0m2 9h0m1-10h0m3 10h0m1-9h0m3 7h0m263-4h0m1-4h0m2 6h0m2 0h0m57-7h0m25 0h0m-737 22h0m55-8h0m21 7h0m65-7h0m4-1h0m29 6h0m18-5h0m29 9h0m4-10h0m4 8h0m11-9h0m22 10h0m12-8h0m1 9h0m4 0h0m2-1h0m18-1h0m2 1h0m2 0h0m0-6h0m5-3h0m3 8h0m4-8h0m4 2h0m24 6h0m2-2h0m2 1h0m0-7h0m2 0h0m1-1h0m2 8h0m9-5h0m3 5h0m7-3h0m0-1h0m7 3h0m1 4h0m2-10h0m1 6h0m3-6h0m258-1h0m2 2h0m18 1h0m66 7h0m-752 5h0m1 5h0m15 3h0m42-6h0m66 5h0m18-3h0m14-5h0m12 2h0m4 3h0m24-1h0m11 3h0m18 2h0m29-10h0m4-1h0m15 0h0m17 6h0m3 4h0m13-5h0m4 6h0m27-3h0m5 1h0m1-7h0m1 6h0m1-5h0m4-2h0m13 2h0m5 8h0m10 0h0m11-10h0m3 7h0m6-8h0m5 0h0m270 9h0m5-9h0m-715 13h0m19-1h0m9 8h0m12 0h0m14-8h0m3 0h0m31 6h0m2-6h0m21 9h0m4-4h0m26 5h0m15 0h0m7-5h0m12-4h0m20 5h0m6 2h0m12-7h0m2 9h0m5-3h0m16-4h0m9-3h0m15 2h0m3 9h0m15-9h0m3 5h0m7 4h0m2-5h0m5-6h0m8 11h0m1 0h0m8-5h0m4-6h0m1 8h0m4 2h0m2-9h0m6 4h0m8 1h0m15 2h0m3-4h0m3-2h0m5 7h0m1-9h0m4 10h0m1-1h0m2 2h0m2 0h0m4-11h0m5 5h0m1-2h0m1 3h0m7-3h0m5 6h0m1-7h0m17 5h0m1-4h0m1 4h0m1-7h0m3 6h0m6-5h0m244 5h0m10-6h0m8 0h0m0 1h0m25 1h0m7 5h0m11-3h0m-723 17h0m0-4h0m7-1h0m3 7h0m27-6h0m66 3h0m20-5h0m7-2h0m9 8h0m18-8h0m0 5h0m38-2h0m2 3h0m26-6h0m9 2h0m6 3h0m8-2h0m14-3h0m18 5h0m18-1h0m4 3h0m3-8h0m3 0h0m14 9h0m1 1h0m12-2h0m10-2h0m5 5h0m4-6h0m1 1h0m0 3h0m0-9h0m2 0h0m1 4h0m1 7h0m2-3h0m0-3h0m5 5h0m1-9h0m5 5h0m2-4h0m1 4h0m0 5h0m3-5h0m0 2h0m0-4h0m6-2h0m6 7h0m5-6h0m1 6h0m6-7h0m2-1h0m240 10h0m18-1h0m13-10h0m34 1h0m-698 14h0m33-1h0m36 3h0m6 0h0m3 6h0m7-8h0m5 4h0m15 4h0m9-4h0m19-3h0m23-1h0m28 0h0m18 5h0m24-1h0m4-5h0m1 2h0m4 0h0m17 7h0m17-2h0m13-6h0m1 7h0m2-1h0m13-7h0m20-1h0m9 10h0m5-6h0m10-1h0m2-1h0m6 1h0m11 7h0m1-1h0m1 1h0m0-10h0m3 1h0m4 6h0m1 0h0m1-1h0m1 0h0m1 2h0m1-4h0m1 1h0m4-2h0m242 5h0m21 0h0m1-9h0m5 3h0m11 1h0m10 3h0m15-5h0m5 2h0m11 1h0m-670 16h0m45-1h0m29-1h0m25-2h0m1 1h0m4 5h0m11-7h0m62 0h0m4 6h0m9-8h0m3 6h0m6-6h0m29 9h0m9-3h0m6-6h0m12 1h0m5 7h0m21-10h0m13 4h0m2 4h0m2-1h0m14 0h0m4-6h0m0 7h0m3-6h0m6 8h0m1-8h0m0 1h0m1-2h0m0 8h0m1-5h0m5-2h0m1 2h0m6-4h0m240 10h0m3 1h0m1-8h0m8 3h0m3-3h0m2-2h0m35 5h0m7 2h0m17 3h0m-704 10h0m9-4h0m25-1h0m20 7h0m66-11h0m14 3h0m13 4h0m55 1h0m10 1h0m11-4h0m9-3h0m4 0h0m4 7h0m2-6h0m10 0h0m28 7h0m12-5h0m2 4h0m2-2h0m0 3h0m7-3h0m2-3h0m2 4h0m8-5h0m3 4h0m5 0h0m5 1h0m0 1h0m1-9h0m1 2h0m11 3h0m2 5h0m0-3h0m6-5h0m0 4h0m2-4h0m1 7h0m1-5h0m2 2h0m1 4h0m1-9h0m1 9h0m3 1h0m2-9h0m0 6h0m2-8h0m1 9h0m2-6h0m1 5h0m5-6h0m2-1h0m244 6h0m7-1h0m4 3h0m4-3h0m61-3h0m-666 18h0m22-6h0m21 2h0m18 6h0m30 0h0m7-3h0m1-7h0m15 3h0m4 6h0m1 0h0m15-5h0m9-3h0m17 6h0m9 2h0m10-4h0m4 3h0m12 1h0m26 1h0m0-10h0m1 6h0m8-4h0m4-3h0m6 5h0m3 0h0m1 5h0m0-9h0m1-1h0m3 11h0m6-5h0m13-5h0m6 10h0m6-3h0m0-1h0m6 4h0m3-4h0m2-5h0m1 1h0m3 4h0m1 3h0m4-3h0m2 3h0m0-5h0m3 0h0m0-5h0m2 0h0m3 6h0m0 2h0m1-8h0m4 10h0m1-9h0m3 10h0m4-6h0m2-1h0m2 1h0m0-3h0m0-1h0m3-1h0m1 2h0m4-2h0m239 7h0m0 1h0m2-4h0m7 7h0m13-8h0m2 0h0m17 1h0m5 2h0m10-2h0m40-1h0m0 4h0m-694 10h0m8 4h0m6-3h0m53 2h0m9-3h0m7 0h0m14 3h0m14-6h0m38 1h0m0 7h0m15-2h0m1-7h0m2 2h0m21 7h0m1-4h0m15-4h0m11 3h0m4 2h0m27-5h0m2 7h0m11-2h0m11-1h0m4-2h0m5-1h0m5 2h0m0 1h0m1 3h0m6-7h0m5-2h0m1 2h0m0 3h0m2-4h0m1 4h0m3-2h0m9 5h0m1 2h0m4-1h0m6 2h0m1-5h0m1 0h0m8-1h0m1 4h0m1 0h0m1-3h0m1-1h0m3-1h0m2-3h0m243 5h0m10-3h0m0 7h0m1-1h0m6-4h0m2-5h0m12 5h0m59 4h0m-665 5h0m2 4h0m23 4h0m1-10h0m17 6h0m5-6h0m18 8h0m14-6h0m9 1h0m1 8h0m2 0h0m10-7h0m14 0h0m5 1h0m5-3h0m9-2h0m8 4h0m15-4h0m7 4h0m17 7h0m6-11h0m47 0h0m0 9h0m6-5h0m3 3h0m4 0h0m6 1h0m15 3h0m0-10h0m6 6h0m1-5h0m7 7h0m9 1h0m1-3h0m1-3h0m8 3h0m1-1h0m2 5h0m2-7h0m1 1h0m0 3h0m0 2h0m10-8h0m1-1h0m0 4h0m2-3h0m1 0h0m235 8h0m7 1h0m4-9h0m1 6h0m4-8h0m1 6h0m20-5h0m4 9h0m22 0h0m18-4h0m31-4h0m-669 16h0m6-1h0m17 5h0m7-10h0m25 10h0m7-1h0m24-9h0m31 2h0m4 3h0m5 0h0m1 1h0m2 0h0m10-1h0m2-1h0m4-2h0m1 7h0m9-4h0m16 1h0m2-4h0m9 9h0m11-6h0m11-4h0m6 6h0m1 4h0m6-7h0m5 6h0m11-10h0m1 6h0m2 3h0m4-5h0m1-3h0m0 7h0m6-8h0m1 0h0m1 7h0m1-6h0m1 7h0m0 3h0m1-4h0m18 4h0m2-7h0m1 2h0m1 5h0m2-9h0m3 3h0m0 5h0m1-4h0m2-5h0m3-1h0m2 10h0m7-5h0m5 4h0m2-8h0m1 4h0m1 1h0m4-6h0m0 1h0m249 0h0m2 9h0m7-5h0m0 3h0m11-3h0m21 2h0m0-4h0m2 1h0m7 0h0m-620 16h0m19 2h0m8-6h0m36-2h0m3 3h0m25-4h0m1-1h0m12 2h0m6 0h0m2 7h0m11-1h0m16-7h0m3 2h0m9 2h0m5 4h0m1-2h0m21-1h0m8-3h0m15 4h0m12-5h0m15 7h0m1-2h0m4 2h0m0-7h0m1 0h0m2 0h0m13 7h0m5-5h0m1 4h0m2-2h0m1-2h0m0 7h0m8-4h0m11 1h0m12-5h0m0 2h0m3 2h0m7-2h0m1 1h0m4 1h0m1-1h0m3-3h0m253 7h0m2-9h0m5 5h0m12 0h0m1 2h0m12-2h0m5-1h0m1-3h0m8 4h0m7-5h0m13 8h0m51 2h0m13-11h0m-661 19h0m15-6h0m28 5h0m3 2h0m7-5h0m16 5h0m7-7h0m37 1h0m2 4h0m6-5h0m4 1h0m1 6h0m5-3h0m9-5h0m1 11h0m10-8h0m11 2h0m4-4h0m2 10h0m9-8h0m5 5h0m6-6h0m3 4h0m4-5h0m5-1h0m3 6h0m1 5h0m2-1h0m0-9h0m0 8h0m6-4h0m1 2h0m2 2h0m1 2h0m4-9h0m8 2h0m1-4h0m1 5h0m0 2h0m12 2h0m2-5h0m0 4h0m0-6h0m5 1h0m1 3h0m2 1h0m2 2h0m1-9h0m3 9h0m1-3h0m258 5h0m3-9h0m5-2h0m2 4h0m36 6h0m11-4h0m8 1h0m2 1h0m-614 11h0m14-3h0m11 4h0m14 3h0m14-10h0m5 3h0m1 1h0m1 1h0m23-1h0m19-5h0m20 10h0m14-7h0m2 3h0m16-6h0m4 2h0m3-2h0m7 4h0m22-3h0m3 0h0m3 5h0m1-2h0m0 3h0m1 2h0m0-6h0m5 3h0m5-4h0m3 2h0m20 5h0m11-3h0m4 2h0m0 3h0m1-2h0m3 1h0m0-10h0m2 11h0m3-4h0m1 1h0m0-1h0m6-2h0m3-1h0m3 0h0m5 5h0m6-6h0m2-3h0m0 2h0m3 0h0m241 4h0m6 0h0m2 4h0m3-7h0m10 5h0m2-2h0m10-3h0m4 6h0m1 2h0m2-8h0m4-3h0m14 0h0m18 5h0m3-5h0m74 0h0m-642 19h0m2-2h0m6 5h0m12 0h0m15-4h0m33 3h0m16-7h0m4-1h0m1 10h0m3-11h0m4 2h0m1 5h0m8-7h0m0 7h0m8-5h0m1-1h0m4 1h0m5 2h0m7 5h0m0-6h0m24 3h0m3-1h0m13-4h0m2 10h0m3-11h0m3 8h0m0-8h0m10 9h0m4 2h0m5-10h0m5 0h0m1 9h0m1 0h0m4-8h0m3 2h0m5 3h0m9 1h0m5-3h0m4-2h0m241 6h0m14-8h0m3 0h0m8 1h0m3 0h0m7 3h0m10 2h0m3-2h0m2-4h0m0 5h0m3-5h0m32 3h0m2 0h0m-589 16h0m5-5h0m11 7h0m9-4h0m10 2h0m14 0h0m16-6h0m1 5h0m8-5h0m18 7h0m4 0h0m22-9h0m4 10h0m3 1h0m1-4h0m2 2h0m4-4h0m3 6h0m0-11h0m7 2h0m1 4h0m0 2h0m2-4h0m1 3h0m0 4h0m1-5h0m3 2h0m6-6h0m0 9h0m9-11h0m6 4h0m14 7h0m11-11h0m4 8h0m2 2h0m3-2h0m0 3h0m1-7h0m2-4h0m4 11h0m5-4h0m0-4h0m7-1h0m3 3h0m3-3h0m4 6h0m1 1h0m1 1h0m2-4h0m4-4h0m1 0h0m6-1h0m2-1h0m243 7h0m0 2h0m3 0h0m1-7h0m2 6h0m3-2h0m3 2h0m6-5h0m8 7h0m14 1h0m5-4h0m13-7h0m35 11h0m-593 1h0m27 5h0m7 4h0m8-5h0m14-4h0m10 2h0m5-1h0m16 1h0m31 5h0m4-5h0m5 5h0m11-7h0m1 1h0m3 0h0m2 4h0m1 4h0m9-7h0m2 7h0m2-8h0m1 3h0m5-3h0m11 9h0m7-6h0m4 2h0m0 3h0m4-7h0m6-2h0m2 1h0m3 0h0m4 1h0m3-1h0m2 1h0m0 5h0m2-2h0m2 0h0m4-5h0m3 3h0m5 1h0m2 1h0m1 3h0m3-1h0m3-5h0m1 5h0m0-7h0m0 5h0m2 2h0m1-1h0m1-5h0m2 0h0m241 6h0m5 2h0m0-6h0m2-3h0m8 8h0m2-8h0m1 8h0m9-5h0m1 3h0m1 2h0m4 2h0m50-1h0m-567 7h0m10 7h0m22-11h0m1 1h0m7 3h0m6 4h0m6-4h0m3 6h0m1-7h0m6 6h0m1-7h0m2-2h0m3 5h0m15 6h0m19-3h0m5-3h0m2 6h0m0-7h0m3-2h0m2 7h0m1 1h0m5-6h0m3-3h0m0 2h0m6-1h0m0 1h0m2 0h0m2 1h0m2 6h0m3 1h0m1-4h0m0 1h0m1-1h0m9-2h0m12-4h0m3 10h0m0-5h0m5 0h0m0 5h0m6 0h0m12-6h0m1-1h0m10 2h0m2 0h0m0 1h0m1-6h0m6 5h0m1-4h0m0 7h0m1-2h0m1-5h0m0 2h0m4 2h0m0 3h0m4-4h0m1 6h0m6-3h0m4-5h0m240 7h0m10-7h0m1 8h0m1-11h0m0 2h0m1 8h0m1-1h0m13-1h0m8 3h0m2 0h0m21-7h0m8 6h0m23-3h0m54-1h0m-620 12h0m16-6h0m1 3h0m2 3h0m13 3h0m7-8h0m5 5h0m0 2h0m9 2h0m17-5h0m1-5h0m3 8h0m11 2h0m4-8h0m8 1h0m14 4h0m1-7h0m10 10h0m2-3h0m1 3h0m1-3h0m11 3h0m1-5h0m3 4h0m5-3h0m2 4h0m2-5h0m3 1h0m1 5h0m0-11h0m1 5h0m2 1h0m1 4h0m2 1h0m2-10h0m1 8h0m3-2h0m2-4h0m0 2h0m1-5h0m0 5h0m1-5h0m0 2h0m1 3h0m2-5h0m1 1h0m0 4h0m4-2h0m3 5h0m12-2h0m0-2h0m5 3h0m2 4h0m3-4h0m6-6h0m9 6h0m4-7h0m240 11h0m3-1h0m2-1h0m6 2h0m7-9h0m1 0h0m3-2h0m16 10h0m0-3h0m52-1h0m103-1h0m-641 18h0m9-3h0m5-6h0m2 7h0m26 0h0m4-4h0m0 6h0m2-2h0m7-3h0m7-5h0m7 0h0m7 5h0m20 2h0m6-5h0m3 1h0m0 1h0m3-1h0m1 1h0m1 3h0m3 2h0m1-10h0m1 2h0m1 5h0m1-5h0m2-1h0m2 0h0m3 9h0m5-3h0m1 1h0m2-5h0m1 2h0m2-5h0m5 10h0m2 0h0m5-6h0m0-1h0m2 6h0m2-1h0m1 2h0m3-6h0m0 1h0m1-5h0m6 8h0m6-5h0m4 2h0m0 3h0m1-1h0m2-7h0m1 3h0m3 8h0m2 0h0m0-9h0m1 8h0m1-3h0m5-2h0m4 2h0m248 3h0m0-4h0m3 0h0m3-2h0m1 2h0m0 2h0m1-2h0m7-2h0m4 1h0m5 3h0m5-4h0m9 0h0m1 6h0m29-4h0m-518 7h0m3 9h0m0-5h0m3-2h0m20 6h0m3-4h0m27 0h0m1-3h0m1 6h0m15-4h0m0 2h0m3-3h0m5 1h0m12 7h0m0-10h0m0 5h0m2-3h0m1 2h0m5-5h0m4 10h0m2 1h0m2-8h0m5-2h0m3 6h0m4 2h0m5-5h0m0 5h0m0 2h0m2-10h0m3 0h0m0 3h0m6-3h0m3 10h0m0-1h0m1 1h0m1-2h0m4-4h0m1 4h0m0-3h0m1 3h0m2-9h0m0 2h0m5-1h0m0 5h0m2 2h0m2-5h0m0 2h0m1 2h0m0-3h0m1 4h0m1 3h0m0-6h0m2 6h0m1-1h0m3-2h0m1-6h0m0 1h0m1 4h0m3-3h0m0 4h0m3-6h0m1-1h0m2 10h0m1-7h0m3 4h0m1-1h0m1-3h0m8 0h0m2 1h0m240 3h0m1 1h0m8 1h0m7 0h0m8-9h0m3 3h0m4-2h0m6-1h0m2 2h0m12 5h0m17 1h0m1-2h0m6-3h0m-509 16h0m8-3h0m11 1h0m4-6h0m4 7h0m8-3h0m3 3h0m6-6h0m0 2h0m1 7h0m0-9h0m0 1h0m2 5h0m0 1h0m3-3h0m2 3h0m22-1h0m4-1h0m4-2h0m3-3h0m3 9h0m1-7h0m1-3h0m1 11h0m3 0h0m1-3h0m0 2h0m15-6h0m2-1h0m3 7h0m0-4h0m1-5h0m1 3h0m7 1h0m2 1h0m3 5h0m5-4h0m2 3h0m5 1h0m3 0h0m1-5h0m2-5h0m2 3h0m2 7h0m0-9h0m2 3h0m4 1h0m1-5h0m1 4h0m2-3h0m1 2h0m2 7h0m2-8h0m1-2h0m0 9h0m1-9h0m1 1h0m0 3h0m2 6h0m3-11h0m1 8h0m2-2h0m1-2h0m3-3h0m0 3h0m3-2h0m247 2h0m1-3h0m0 6h0m5-6h0m2 6h0m3 3h0m6-1h0m8-5h0m2-2h0m1 1h0m2 5h0m0-1h0m24-2h0m44-4h0m11 9h0m15-1h0m28-7h0m-586 11h0m5 9h0m17 1h0m7-6h0m2-2h0m2 8h0m2-7h0m3 6h0m0-7h0m6-1h0m8 7h0m2-7h0m4 8h0m13-2h0m2-4h0m3 0h0m3 3h0m3 3h0m1-7h0m3 4h0m2 2h0m4 0h0m0-9h0m5 11h0m1-2h0m2 1h0m6-10h0m1 11h0m3-3h0m6-3h0m0 2h0m2 0h0m5-2h0m1 2h0m2-2h0m1-1h0m0 3h0m1 4h0m1-10h0m3 3h0m1 7h0m5-10h0m1 3h0m0 1h0m3-4h0m1 0h0m3-1h0m2 5h0m0 4h0m0 2h0m3-5h0m1 1h0m0 3h0m5-7h0m2-3h0m2 8h0m1-6h0m2 4h0m2 1h0m1-7h0m1 0h0m2 3h0m2-3h0m3 0h0m240 11h0m3-1h0m2-4h0m0 5h0m3-5h0m1-6h0m6 4h0m0 5h0m0-9h0m3 4h0m2-4h0m4 0h0m2 0h0m11 3h0m7-1h0m3 5h0m10-1h0m1-6h0m1 9h0m4-3h0m4-5h0m3 7h0m3-5h0m7 5h0m13-2h0m21-1h0m19-4h0m0 2h0m-528 18h0m0 2h0m3 0h0m7-3h0m2-8h0m2 8h0m5-7h0m12 7h0m12-2h0m6 1h0m9-3h0m4 3h0m11-6h0m5 6h0m9-7h0m8 7h0m2-7h0m1 6h0m0 3h0m1-7h0m2 3h0m0 4h0m1 2h0m1-8h0m2 8h0m0-3h0m4 0h0m1-7h0m1 8h0m0-5h0m4-4h0m3 10h0m0-4h0m0 1h0m1 4h0m2-1h0m1-1h0m1-3h0m2 3h0m0 2h0m0-1h0m0-8h0m1 8h0m0 1h0m1-11h0m0 7h0m1 0h0m2 1h0m0 2h0m2-3h0m1-3h0m1 3h0m1 0h0m1 0h0m1-2h0m1-2h0m243 5h0m4 2h0m1 1h0m0-9h0m1 2h0m2 7h0m1-8h0m7 5h0m8-8h0m4 8h0m10-7h0m2 6h0m0-2h0m1-1h0m0 2h0m6 2h0m4-4h0m5 4h0m42-1h0m0-2h0m0-1h0m43-1h0m-543 10h0m1 7h0m6 3h0m4-3h0m2 2h0m8 1h0m14-6h0m0-3h0m6 3h0m8-4h0m9 1h0m2 6h0m1-3h0m6 5h0m1 0h0m0-6h0m4-1h0m10 2h0m1 1h0m6 1h0m11 1h0m1-2h0m0 2h0m0-8h0m1 4h0m0 1h0m2-5h0m1 7h0m1-7h0m1 5h0m0 4h0m0-5h0m2 2h0m1 5h0m2-8h0m4 4h0m2-4h0m0-3h0m2 7h0m0 2h0m1-3h0m2 3h0m1-9h0m3 5h0m1-4h0m0 2h0m1 2h0m1-5h0m1 3h0m2 8h0m4-2h0m0-7h0m1 6h0m1 3h0m0-10h0m1 2h0m1 6h0m1-8h0m0-1h0m5 4h0m1-2h0m1 0h0m1 0h0m0-1h0m247 5h0m2 4h0m5-3h0m2 0h0m3 4h0m10-10h0m3 10h0m3-4h0m7-2h0m28-5h0m10 7h0m0-4h0m7 1h0m7-2h0m11 0h0m39 7h0m-533 5h0m4 4h0m4-6h0m0 5h0m9 3h0m5-7h0m8 9h0m1-9h0m4 8h0m2-7h0m1 2h0m4-2h0m11 9h0m7-2h0m4-5h0m5 6h0m2-2h0m10-8h0m5 1h0m1 2h0m1 8h0m8-7h0m0 5h0m1-8h0m0-1h0m2 8h0m1 2h0m2 0h0m0-4h0m3 4h0m1-2h0m0 2h0m3-1h0m2 0h0m2-8h0m1 5h0m1-2h0m0 7h0m4-4h0m1-4h0m0 3h0m0 2h0m5-4h0m3 6h0m0-7h0m1-1h0m8-1h0m247 1h0m3 8h0m1-9h0m1 3h0m3 0h0m6-1h0m2 3h0m3-2h0m5 6h0m6-5h0m1-4h0m2 6h0m7 3h0m4-8h0m3 8h0m1-9h0m2 6h0m2-4h0m1 3h0m3-4h0m1 0h0m26 9h0m34-4h0m-501 15h0m0-6h0m25-2h0m1 3h0m2 4h0m0 2h0m1-5h0m1 0h0m3-5h0m5 1h0m1-1h0m1 6h0m3-3h0m3-2h0m2-1h0m5 3h0m3 4h0m1 1h0m7-2h0m3 2h0m0-9h0m5 9h0m1-6h0m3 3h0m2-1h0m4-1h0m2 0h0m0 1h0m3 2h0m3-1h0m2 2h0m0 1h0m1-5h0m0 3h0m2 0h0m2 0h0m0-1h0m1-5h0m1 2h0m1 6h0m0 1h0m1-8h0m2 4h0m1-4h0m2-2h0m1 7h0m0 4h0m2-1h0m0-9h0m1 0h0m2-1h0m1 0h0m1 7h0m0-1h0m2-3h0m0 2h0m2-4h0m0 6h0m2-4h0m242 8h0m1-4h0m4 1h0m1-1h0m1 0h0m0-5h0m2 2h0m1 4h0m0-1h0m4-6h0m1-1h0m11 4h0m6 6h0m15-4h0m24-2h0m1 4h0m0 2h0m11-3h0m26-5h0m68 8h0m-525 12h0m0-7h0m4 3h0m3 1h0m7-2h0m2 0h0m1 6h0m6-2h0m7-6h0m3 7h0m7-10h0m2 7h0m1-2h0m3 0h0m3-3h0m1 5h0m1-5h0m0 3h0m3-3h0m2 1h0m1 8h0m3-7h0m1 0h0m2 4h0m2-2h0m0 2h0m5-5h0m1-2h0m0 6h0m4-1h0m0 3h0m0-7h0m1-1h0m4 4h0m1-3h0m1 3h0m3 3h0m1-8h0m2 4h0m1-3h0m1-1h0m3 1h0m2 1h0m242 9h0m1-6h0m1 6h0m5-2h0m1-7h0m2 5h0m15 2h0m13-4h0m0-3h0m1 7h0m3-2h0m2-1h0m2-6h0m4 6h0m0-3h0m2 6h0m3-9h0m4 2h0m18 8h0m5-8h0m24 9h0m20-5h0m-475 16h0m1 0h0m12-1h0m7-5h0m3 7h0m4-9h0m0 4h0m0-1h0m1 4h0m0-5h0m2 5h0m1-5h0m3-2h0m2 8h0m1 0h0m1-10h0m3 0h0m2 1h0m0-1h0m8 8h0m1 0h0m2 0h0m2-6h0m1-1h0m5 1h0m2 3h0m4-3h0m1 2h0m2 0h0m2 7h0m1 0h0m1-3h0m0-8h0m0 2h0m3 8h0m1-2h0m4-8h0m1 1h0m1 4h0m0-4h0m1 3h0m0 3h0m1 0h0m2-3h0m3-4h0m241 9h0m0 2h0m5-8h0m6-2h0m3-1h0m5 7h0m6 1h0m3 3h0m6-10h0m1 3h0m2 3h0m0-7h0m9 11h0m8-8h0m2 3h0m4-1h0m47 1h0m36-5h0m27 0h0m8 7h0m-513 8h0m6-1h0m10 8h0m0-9h0m2-2h0m0 2h0m1 2h0m2-3h0m5 0h0m2 8h0m6-1h0m0-1h0m1-3h0m6 1h0m3-1h0m2 6h0m0 1h0m3 0h0m2-10h0m3-1h0m0 6h0m0 4h0m3-2h0m1-5h0m0 4h0m1-1h0m1 4h0m3-2h0m1-8h0m2 9h0m3-3h0m2 0h0m1 0h0m1 2h0m0-7h0m1 7h0m1-7h0m1 0h0m1 4h0m2-4h0m0 1h0m2-1h0m0-1h0m2 3h0m237 8h0m3-1h0m5-2h0m3 2h0m2 0h0m4-6h0m1 1h0m13 4h0m2-7h0m15 7h0m1-3h0m5-1h0m0-4h0m36 0h0m4 3h0m17 5h0m26-9h0m43 7h0m-498 6h0m4-1h0m1 8h0m6-6h0m3 9h0m7-1h0m3 0h0m5-6h0m0-2h0m5 3h0m4 5h0m1-2h0m0-6h0m4 0h0m1-2h0m1 2h0m1-2h0m0 3h0m1 0h0m1 3h0m1 4h0m2-6h0m2-1h0m0-2h0m5 10h0m1-3h0m0-1h0m1-2h0m0 2h0m0-6h0m0 2h0m2-3h0m1 6h0m1-1h0m0-3h0m0 4h0m2-1h0m0-1h0m1 1h0m1-1h0m1-4h0m246 4h0m4-1h0m3 5h0m3-2h0m2-4h0m3 4h0m1-3h0m4 8h0m3-9h0m1 0h0m0-1h0m18 5h0m2 1h0m7-2h0m15 4h0m4 2h0m7-5h0m3-1h0m26 5h0m18-3h0m1 4h0m47-2h0m-489 7h0m0-1h0m9 2h0m2-1h0m1 0h0m0 7h0m3 0h0m3-2h0m2-9h0m3 1h0m3 0h0m0 2h0m3 6h0m0-7h0m2 3h0m4-2h0m0 3h0m1 3h0m4-6h0m4 7h0m0-1h0m0-7h0m1 4h0m0-1h0m0-2h0m4-2h0m1 1h0m1 7h0m0-4h0m1 1h0m1-4h0m0 2h0m0 1h0m5-3h0m241 5h0m5 2h0m2-8h0m2 2h0m0-1h0m0-1h0m5 6h0m12-4h0m2 0h0m3 1h0m3 6h0m12 1h0m1-11h0m8 7h0m6-6h0m3 2h0m3-3h0m45 4h0m75-1h0m-488 14h0m3-4h0m1 2h0m3-2h0m0 1h0m2 0h0m1 6h0m2 2h0m3-6h0m3 5h0m1-7h0m2 6h0m1-1h0m1-4h0m4 8h0m0-8h0m0 2h0m1 2h0m1 3h0m4-5h0m0 4h0m0 2h0m1-6h0m0-4h0m0 3h0m1 2h0m1-6h0m1 3h0m0 1h0m2 6h0m3-9h0m3 2h0m1-3h0m4 1h0m234 10h0m3-2h0m4 1h0m1-7h0m1 5h0m1 3h0m3-3h0m1-2h0m1-6h0m3 11h0m1-2h0m1-2h0m1 3h0m5-10h0m1 0h0m8 10h0m1-7h0m0 2h0m1-1h0m4 0h0m1 5h0m1-6h0m3-1h0m7 0h0m4 6h0m35-5h0m58 7h0m105-6h0m35-4h0m-572 12h0m1 7h0m2 0h0m2-1h0m1 1h0m3-6h0m0 4h0m0-1h0m4 2h0m0 2h0m1-3h0m1 2h0m1 3h0m1-1h0m3 0h0m0 1h0m2-4h0m1 1h0m0-2h0m1 3h0m1-4h0m1 2h0m4-5h0m2 3h0m242 6h0m20-10h0m0 8h0m2-8h0m2 10h0m2 1h0m3-6h0m1-2h0m1-2h0m2 0h0m4-1h0m7 9h0m0-1h0m6-7h0m2 5h0m2 0h0m8-1h0m11-1h0m12 0h0m12-2h0m-371 20h0m2-6h0m0 7h0m2-1h0m4-8h0m1 2h0m0 2h0m1-5h0m2 0h0m0 4h0m1 3h0m2-6h0m1-2h0m2 2h0m2 1h0m3-3h0m237 10h0m7-1h0m8-8h0m2 9h0m1-9h0m9 3h0m4 7h0m5-10h0m3 3h0m11-4h0m9 2h0m18-1h0m28 1h0m3 3h0m47 0h0m1 1h0m1 2h0m-418 4h0m1 2h0m3 0h0m1-2h0m253 5h0m1 3h0m2 2h0m8-8h0m0-1h0m6-1h0m1 6h0m38 2h0m32-1h0m28-5h0m6-2h0m3 5h0m4-2h0m112-1h0m66 0h0m-329 18h0m0 2h0m2-2h0m1 0h0m7-7h0m3 7h0m1-3h0m6 2h0m6 0h0m1 1h0m2 0h0m8-5h0m32-2h0m32 0h0m15 3h0m0-4h0m60 9h0m-184 9h0m5-3h0m3 3h0m4-1h0m5 0h0m2 2h0m5-7h0m4 9h0m0-6h0m5 7h0m2-3h0m1-1h0m14-1h0m10 2h0m7 3h0m2 1h0m4-5h0m37-2h0m5 3h0m2 0h0m8-7h0m262 3h0m-406 19h0m1-1h0m2-4h0m2-1h0m2 7h0m1-7h0m1-3h0m2 10h0m4-8h0m2 0h0m0-1h0m2 1h0m14 6h0m18-6h0m40 2h0m2 1h0m41-5h0m71 1h0m83 3h0m-293 10h0m0 4h0m1-6h0m0 2h0m1-1h0m0 5h0m1-7h0m0 11h0m1-1h0m1-1h0m2 2h0m1-1h0m0-1h0m7-7h0m3 7h0m4-4h0m1-3h0m13 4h0m20-6h0m0 4h0m21 4h0m17-1h0m11-1h0m21-6h0m-142 20h0m3 2h0m0-7h0m0 1h0m5 2h0m3-2h0m1-2h0m14 6h0m100 1h0m36-9h0m3 0h0m13 2h0m15 1h0m-191 13h0m0 4h0m1-7h0m0 2h0m1-2h0m3 7h0m15 0h0m22 3h0m1-10h0m33 9h0m-77 7h0m3-4h0m12 2h0m136-3h0" stroke="#ff0000" stroke-width="6.40" stroke-linecap="round" fill="none"/>
</g>
<rect x="82.7" y="157.4" width="579.2" height="517.6" fill="none" stroke="#505050" stroke-width="2"/>
<path d="M82.9 675v4.5M194.8 675v4.5M307.1 675v4.5M419.4 675v4.5M531.7 675v4.5M644.0 675v4.5M82.7 174.0h-4.5M82.7 280.0h-4.5M82.7 386.0h-4.5M82.7 491.6h-4.5M82.7 597.0h-4.5" stroke="#505050" stroke-width="1.6" fill="none"/>
<text transform="matrix(0.1776 0 0 0.159 80.32 700.3)" font-size="100" font-weight="bold" fill="#000" stroke="#000" stroke-width="7" stroke-linejoin="round">6</text>
<text transform="matrix(0.1824 0 0 0.159 194.4 700.3)" font-size="100" font-weight="bold" fill="#000" stroke="#000" stroke-width="7" stroke-linejoin="round">8</text>
<text transform="matrix(0.2237 0 0 0.159 297.4 700.3)" font-size="100" font-weight="bold" fill="#000" stroke="#000" stroke-width="7" stroke-linejoin="round">10</text>
<text transform="matrix(0.1847 0 0 0.161 413.5 700.4)" font-size="100" font-weight="bold" fill="#000" stroke="#000" stroke-width="7" stroke-linejoin="round">12</text>
<text transform="matrix(0.189 0 0 0.1632 525.6 700.4)" font-size="100" font-weight="bold" fill="#000" stroke="#000" stroke-width="7" stroke-linejoin="round">14</text>
<text transform="matrix(0.189 0 0 0.159 638 700.3)" font-size="100" font-weight="bold" fill="#000" stroke="#000" stroke-width="7" stroke-linejoin="round">16</text>
<text transform="matrix(0 -0.1551 0.2013 0 71.29 183.1)" font-size="100" font-weight="bold" fill="#000" stroke="#000" stroke-width="7" stroke-linejoin="round">16</text>
<text transform="matrix(0 -0.1678 0.2066 0 71.48 291)" font-size="100" font-weight="bold" fill="#000" stroke="#000" stroke-width="7" stroke-linejoin="round">14</text>
<text transform="matrix(0 -0.1576 0.2039 0 71.49 390.9)" font-size="100" font-weight="bold" fill="#000" stroke="#000" stroke-width="7" stroke-linejoin="round">12</text>
<text transform="matrix(0 -0.1593 0.2013 0 71.29 498)" font-size="100" font-weight="bold" fill="#000" stroke="#000" stroke-width="7" stroke-linejoin="round">10</text>
<text transform="matrix(0 -0.16 0.2013 0 71.29 600.4)" font-size="100" font-weight="bold" fill="#000" stroke="#000" stroke-width="7" stroke-linejoin="round">8</text>
<text transform="matrix(0.1841 0 0 0.1947 279.4 745.1)" font-size="100" font-weight="bold" fill="#000" stroke="#000" stroke-width="7" stroke-linejoin="round">Expression level of D0</text>
<text transform="matrix(0 -0.1808 0.2184 0 19.04 517)" font-size="100" font-weight="bold" fill="#000" stroke="#000" stroke-width="7" stroke-linejoin="round">Expression level of D20</text>
<rect x="93" y="171.7" width="14.8" height="12.6" fill="#aaaaaa" stroke="#000" stroke-width="1"/>
<rect x="93" y="190.4" width="14.8" height="12.6" fill="#f5a050" stroke="#000" stroke-width="1"/>
<rect x="93" y="209.4" width="14.8" height="12.6" fill="#ff0000" stroke="#000" stroke-width="1"/>
<text transform="matrix(0.1397 0 0 0.1642 118.4 184.8)" font-size="100" font-weight="bold" fill="#000" stroke="#000" stroke-width="7" stroke-linejoin="round">no significant</text>
<text transform="matrix(0.1541 0 0 0.1547 119.1 203.1)" font-size="100" font-weight="bold" fill="#000" stroke="#000" stroke-width="7" stroke-linejoin="round">|FC|&gt;=2</text>
<text transform="matrix(0.1458 0 0 0.1616 118.4 221.9)" font-size="100" font-weight="bold" fill="#000" stroke="#000" stroke-width="7" stroke-linejoin="round">Lpe.p&lt;0.05 &amp; |FC|&gt;=2</text>
<text transform="matrix(0.2911 0 0 0.3 37.13 672)" font-size="100" font-weight="bold" fill="#000" stroke="#000" stroke-width="5" stroke-linejoin="round">a</text>
</g>
<g id="panel-b">
<linearGradient id="ck" x1="0" x2="1" y1="0" y2="0"><stop offset="0" stop-color="#4cff4c"/><stop offset="0.495" stop-color="#4c4c4c"/><stop offset="1" stop-color="#ff4c4c"/></linearGradient>
<rect x="1326" y="27.6" width="319.6" height="49.7" fill="url(#ck)" stroke="#000" stroke-opacity="0.4" stroke-width="1.2"/>
<rect x="1452" y="28" width="1.6" height="49" fill="#000" opacity="0.07"/>
<rect x="1468" y="28" width="1.6" height="49" fill="#000" opacity="0.07"/>
<rect x="1500" y="28" width="1.6" height="49" fill="#000" opacity="0.07"/>
<rect x="1506" y="28" width="1.6" height="49" fill="#000" opacity="0.07"/>
<rect x="1625" y="28" width="1.6" height="49" fill="#000" opacity="0.07"/>
<rect x="1633" y="28" width="1.6" height="49" fill="#000" opacity="0.07"/>
<path d="M1375.5 77.3v8M1427.9 77.3v8M1484.1 77.3v8M1540.2 77.3v8M1591.2 77.3v8" stroke="#000" stroke-width="1.6" fill="none"/>
<text transform="matrix(0.1708 0 0 0.1579 1370 104)" font-size="100" font-weight="bold" fill="#000" stroke="#000" stroke-width="7" stroke-linejoin="round">-1</text>
<text transform="matrix(0.1805 0 0 0.1579 1415 104)" font-size="100" font-weight="bold" fill="#000" stroke="#000" stroke-width="7" stroke-linejoin="round">-0.5</text>
<text transform="matrix(0.16 0 0 0.1579 1479 104)" font-size="100" font-weight="bold" fill="#000" stroke="#000" stroke-width="7" stroke-linejoin="round">0</text>
<text transform="matrix(0.1877 0 0 0.1579 1529 104)" font-size="100" font-weight="bold" fill="#000" stroke="#000" stroke-width="7" stroke-linejoin="round">0.5</text>
<text transform="matrix(0.1696 0 0 0.1579 1587 104)" font-size="100" font-weight="bold" fill="#000" stroke="#000" stroke-width="7" stroke-linejoin="round">1</text>
<text transform="matrix(0.1919 0 0 0.1868 1444 17.25)" font-size="100" font-weight="bold" fill="#000" stroke="#000" stroke-width="7" stroke-linejoin="round">Color Key</text>
<text transform="matrix(0.1789 0 0 0.1789 1442 127.6)" font-size="100" font-weight="bold" fill="#000" stroke="#000" stroke-width="7" stroke-linejoin="round">Row Z-score</text>
<path d="M758.1 388.3V599.7M758.1 388.3H806.6M806.6 317.0V462.2M806.6 317.0H840.0M840.0 249.3V387.0M840.0 249.3H866.0M866.0 212.0V285.5M866.0 212.0H878.0M878.0 192.3V232.3M878.0 192.3H883.0M883.0 179.0V206.7M883.0 179.0H893.0M893.0 168.6V185.3M893.0 168.6H896.0M896.0 165.0V170.9M896.0 165.0H901.3M901.3 161.8V167.4M901.3 161.8H905.9M905.9 159.1V163.3M905.9 159.1H909.6M909.6 159.1H910.5M905.9 163.3H909.1M909.1 163.3H910.5M901.3 167.4H905.8M905.8 165.9V167.4M905.8 165.9H909.3M909.3 165.9H910.5M905.8 167.2H907.9M907.9 167.2H910.5M896.0 170.9H902.8M902.8 170.6V174.4M902.8 170.6H906.0M906.0 169.4V170.6M906.0 169.4H908.3M908.3 169.4H910.5M906.0 170.6H908.0M908.0 170.6H910.5M902.8 174.4H907.8M907.8 174.4H910.5M893.0 185.3H901.5M901.5 177.7V185.4M901.5 177.7H908.7M908.7 177.7H910.5M901.5 185.4H904.0M904.0 183.1V189.0M904.0 183.1H908.4M908.4 183.1H910.5M904.0 189.0H907.4M907.4 189.0H910.5M883.0 206.7H889.0M889.0 197.0V206.7M889.0 197.0H894.4M894.4 192.7V198.5M894.4 192.7H903.5M903.5 191.5V194.1M903.5 191.5H908.6M908.6 191.5H910.5M903.5 194.1H906.5M906.5 194.1H910.5M894.4 198.5H905.1M905.1 197.3V199.0M905.1 197.3H907.8M907.8 197.3H910.5M905.1 199.0H907.5M907.5 199.0H910.5M889.0 205.4H900.5M900.5 203.9V214.7M900.5 203.9H903.6M903.6 203.3V210.8M903.6 203.3H905.9M905.9 201.2V205.0M905.9 201.2H909.3M909.3 201.2H910.5M905.9 205.0H907.9M907.9 205.0H910.5M903.6 210.8H909.0M909.0 210.8H910.5M900.5 214.7H906.4M906.4 213.2V216.5M906.4 213.2H908.9M908.9 213.2H910.5M906.4 216.5H909.6M909.6 216.5H910.5M878.0 232.3H890.0M890.0 226.3V251.3M890.0 226.3H894.4M894.4 223.6V239.1M894.4 223.6H899.2M899.2 220.0V225.5M899.2 220.0H904.4M904.4 219.2V222.8M904.4 219.2H906.9M906.9 219.2H910.5M904.4 222.8H908.1M908.1 222.8H910.5M899.2 225.5H906.1M906.1 224.5V226.0M906.1 224.5H908.1M908.1 224.5H910.5M906.1 226.0H908.5M908.5 226.0H910.5M894.4 239.1H900.0M900.0 229.9V239.1M900.0 229.9H902.5M902.5 229.6V233.9M902.5 229.6H906.7M906.7 229.6H910.5M902.5 233.9H906.5M906.5 232.9V234.0M906.5 232.9H908.5M908.5 232.9H910.5M906.5 234.0H909.2M909.2 234.0H910.5M900.0 238.9H902.0M902.0 237.8V241.7M902.0 237.8H908.0M908.0 237.8H910.5M902.0 241.7H907.2M907.2 241.7H910.5M890.0 251.3H894.6M894.6 249.3V254.7M894.6 249.3H899.2M899.2 247.5V250.4M899.2 247.5H904.3M904.3 246.4V248.5M904.3 246.4H908.0M908.0 246.4H910.5M904.3 248.5H907.2M907.2 248.5H910.5M899.2 250.4H906.1M906.1 250.1V251.6M906.1 250.1H908.2M908.2 250.1H910.5M906.1 251.6H908.4M908.4 251.6H910.5M894.6 254.7H903.3M903.3 254.1V257.1M903.3 254.1H908.6M908.6 254.1H910.5M903.3 257.1H907.2M907.2 257.1H910.5M866.0 285.5H873.0M873.0 270.0V300.0M873.0 270.0H884.0M884.0 264.0V277.6M884.0 264.0H898.1M898.1 260.0V264.8M898.1 260.0H906.5M906.5 258.7V260.9M906.5 258.7H909.1M909.1 258.7H910.5M906.5 260.9H908.7M908.7 260.9H910.5M898.1 264.8H903.6M903.6 263.9V266.3M903.6 263.9H908.8M908.8 263.9H910.5M903.6 266.3H908.1M908.1 266.3H910.5M884.0 277.6H898.2M898.2 271.5V281.4M898.2 271.5H903.3M903.3 271.5V275.9M903.3 271.7H906.7M906.7 271.7H910.5M903.3 275.9H908.0M908.0 275.9H910.5M898.2 281.4H904.3M904.3 279.6V283.9M904.3 279.6H907.7M907.7 279.6H910.5M904.3 283.9H907.0M907.0 283.9H910.5M873.0 300.0H882.0M882.0 288.4V307.1M882.0 288.4H890.7M890.7 286.9V292.7M890.7 286.9H903.1M903.1 285.6V287.9M903.1 285.6H906.2M906.2 285.6H910.5M903.1 287.9H907.3M907.3 287.9H910.5M890.7 292.7H899.5M899.5 290.7V293.9M899.5 290.7H904.0M904.0 289.4V291.8M904.0 289.4H907.6M907.6 289.4H910.5M904.0 291.8H908.4M908.4 291.8H910.5M899.5 293.9H904.7M904.7 293.9H910.5M882.0 307.1H897.5M897.5 299.8V314.3M897.5 299.8H900.6M900.6 296.8V302.2M900.6 296.8H907.4M907.4 296.8H910.5M900.6 302.2H903.6M903.6 301.6V305.1M903.6 301.6H908.8M908.8 301.6H910.5M903.6 305.1H908.3M908.3 305.1H910.5M897.5 314.3H901.9M901.9 308.8V314.9M901.9 308.8H907.5M907.5 308.8H910.5M901.9 314.9H904.1M904.1 312.7V316.2M904.1 312.7H906.9M906.9 312.7H910.5M904.1 316.2H907.8M907.8 316.2H910.5M840.0 387.0H851.0M851.0 370.7V400.5M851.0 370.7H863.0M863.0 356.8V385.6M863.0 356.8H873.0M873.0 342.0V371.3M873.0 342.0H879.5M879.5 325.1V342.0M879.5 325.1H889.4M889.4 321.7V327.2M889.4 321.7H893.3M893.3 319.4V323.4M893.3 319.4H905.0M905.0 318.6V320.7M905.0 318.6H908.5M908.5 318.6H910.5M905.0 320.7H907.7M907.7 320.7H910.5M893.3 323.4H906.1M906.1 322.0V323.8M906.1 322.0H909.3M909.3 322.0H910.5M906.1 323.8H908.2M908.2 323.8H910.5M889.4 327.2H904.3M904.3 326.7V328.8M904.3 326.7H907.5M907.5 326.7H910.5M904.3 328.8H906.8M906.8 328.8H910.5M879.5 342.0H887.9M887.9 335.0V345.0M887.9 335.0H894.5M894.5 333.0V336.3M894.5 333.0H901.4M901.4 330.7V333.4M901.4 330.7H906.4M906.4 330.7H910.5M901.4 333.4H908.3M908.3 333.4H910.5M894.5 336.3H906.8M906.8 336.3H910.5M887.9 345.0H899.8M899.8 343.7V353.1M899.8 343.7H905.1M905.1 340.0V345.3M905.1 340.0H907.4M907.4 340.0H910.5M905.1 345.3H909.3M909.3 345.3H910.5M899.8 353.1H902.7M902.7 349.2V353.3M902.7 349.2H907.2M907.2 349.2H910.5M902.7 353.3H908.1M908.1 353.3H910.5M873.0 371.3H882.0M882.0 360.2V372.2M882.0 360.2H891.8M891.8 357.4V362.7M891.8 357.4H905.4M905.4 357.2V358.7M905.4 357.2H909.3M909.3 357.2H910.5M905.4 358.7H908.3M908.3 358.7H910.5M891.8 362.7H900.3M900.3 361.8V365.1M900.3 361.8H908.3M908.3 361.8H910.5M900.3 365.1H908.2M908.2 365.1H910.5M882.0 372.2H896.0M896.0 370.1V374.1M896.0 370.1H903.3M903.3 369.0V372.2M903.3 369.0H907.3M907.3 369.0H910.5M903.3 372.2H908.4M908.4 372.2H910.5M896.0 374.1H904.0M904.0 373.6V374.9M904.0 373.6H907.5M907.5 373.6H910.5M904.0 374.9H908.1M908.1 374.9H910.5M863.0 385.6H870.0M870.0 382.5V392.7M870.0 382.5H883.0M883.0 379.5V385.4M883.0 379.5H897.8M897.8 376.9V382.0M897.8 376.9H904.1M904.1 376.4V378.2M904.1 376.4H908.1M908.1 376.4H910.5M904.1 378.2H909.0M909.0 378.2H910.5M897.8 382.0H907.1M907.1 382.0H910.5M883.0 385.4H900.8M900.8 384.9V387.7M900.8 384.9H907.9M907.9 384.9H910.5M900.8 387.7H907.6M907.6 387.7H910.5M870.0 392.7H884.5M884.5 390.3V393.3M884.5 390.3H898.1M898.1 389.4V390.7M898.1 389.4H904.7M904.7 389.4H910.5M898.1 390.7H904.7M904.7 390.7H910.5M884.5 393.3H903.6M903.6 391.6V394.1M903.6 391.6H908.0M908.0 391.6H910.5M903.6 394.1H908.1M908.1 394.1H910.5M851.0 400.5H874.0M874.0 397.4V400.5M874.0 397.4H892.7M892.7 396.4V398.1M892.7 396.4H902.3M902.3 396.4H910.5M892.7 398.1H900.0M900.0 398.1H910.5M874.0 400.5H902.3M902.3 400.0V401.8M902.3 400.0H905.6M905.6 399.4V400.5M905.6 399.4H907.8M907.8 399.4H910.5M905.6 400.5H907.7M907.7 400.5H910.5M902.3 401.8H908.1M908.1 401.8H910.5M806.6 462.2H857.0M857.0 440.0V482.0M857.0 440.0H876.0M876.0 427.3V454.3M876.0 427.3H891.0M891.0 408.4V427.3M891.0 408.4H899.7M899.7 405.2V410.6M899.7 405.2H904.2M904.2 403.9V406.5M904.2 403.9H909.0M909.0 403.9H910.5M904.2 406.5H909.0M909.0 406.5H910.5M899.7 410.6H903.3M903.3 410.6V414.3M903.3 410.8H909.0M909.0 410.8H910.5M903.3 414.3H907.7M907.7 414.3H910.5M891.0 423.4H897.3M897.3 421.5V435.2M897.3 421.5H899.7M899.7 417.4V424.2M899.7 417.4H907.8M907.8 417.4H910.5M899.7 424.2H904.3M904.3 421.4V425.1M904.3 421.4H908.9M908.9 421.4H910.5M904.3 425.1H908.7M908.7 425.1H910.5M897.3 435.2H904.1M904.1 430.3V436.5M904.1 430.3H907.5M907.5 430.3H910.5M904.1 436.5H906.1M906.1 434.4V438.0M906.1 434.4H909.4M909.4 434.4H910.5M906.1 438.0H909.1M909.1 438.0H910.5M876.0 454.3H880.0M880.0 450.1V466.0M880.0 450.1H888.8M888.8 446.6V454.8M888.8 446.6H893.6M893.6 445.0V449.6M893.6 445.0H905.3M905.3 442.7V445.5M905.3 442.7H909.1M909.1 442.7H910.5M905.3 445.5H908.1M908.1 445.5H910.5M893.6 449.6H906.7M906.7 449.6H910.5M888.8 454.8H894.1M894.1 452.6V456.2M894.1 452.6H904.9M904.9 452.6V454.5M904.9 453.1H908.4M908.4 453.1H910.5M904.9 454.5H908.6M908.6 454.5H910.5M894.1 456.2H903.4M903.4 456.2V457.6M903.4 456.4H908.6M908.6 456.4H910.5M903.4 457.6H907.8M907.8 457.6H910.5M880.0 466.0H885.3M885.3 460.9V467.5M885.3 460.9H890.0M890.0 460.1V463.6M890.0 460.1H898.7M898.7 459.6V461.1M898.7 459.6H904.3M904.3 459.6H910.5M898.7 461.1H907.9M907.9 461.1H910.5M890.0 463.6H906.1M906.1 462.9V465.0M906.1 462.9H909.2M909.2 462.9H910.5M906.1 465.0H909.3M909.3 465.0H910.5M885.3 467.5H901.9M901.9 466.6V469.0M901.9 466.6H905.4M905.4 466.6V467.8M905.4 466.7H909.2M909.2 466.7H910.5M905.4 467.8H908.5M908.5 467.8H910.5M901.9 469.0H908.2M908.2 469.0H910.5M857.0 482.0H888.0M888.0 474.3V486.9M888.0 474.3H898.6M898.6 472.0V476.2M898.6 472.0H905.1M905.1 471.3V473.4M905.1 471.3H908.2M908.2 471.3H910.5M905.1 473.4H908.6M908.6 473.4H910.5M898.6 476.2H908.0M908.0 476.2H910.5M888.0 486.9H897.6M897.6 480.6V488.5M897.6 480.6H902.6M902.6 480.2V483.3M902.6 480.2H906.8M906.8 480.2H910.5M902.6 483.3H906.4M906.4 483.3H910.5M897.6 488.5H902.8M902.8 486.3V490.0M902.8 486.3H908.7M908.7 486.3H910.5M902.8 490.0H907.9M907.9 490.0H910.5M758.1 599.7H794.0M794.0 560.7V638.0M794.0 560.7H833.0M833.0 545.4V575.0M833.0 545.4H853.0M853.0 526.3V564.0M853.0 526.3H870.0M870.0 510.3V533.0M870.0 510.3H882.0M882.0 501.2V515.3M882.0 501.2H894.2M894.2 496.1V505.2M894.2 496.1H902.7M902.7 495.4V500.9M902.7 495.4H904.7M904.7 494.1V497.0M904.7 494.1H908.9M908.9 494.1H910.5M904.7 497.0H907.3M907.3 497.0H910.5M902.7 500.9H905.9M905.9 499.1V500.9M905.9 499.1H909.2M909.2 499.1H910.5M905.9 500.8H907.9M907.9 500.8H910.5M894.2 505.2H903.2M903.2 503.0V506.2M903.2 503.0H907.0M907.0 503.0H910.5M903.2 506.2H906.5M906.5 505.0V506.3M906.5 505.0H908.5M908.5 505.0H910.5M906.5 506.3H908.7M908.7 506.3H910.5M882.0 515.3H888.9M888.9 509.1V517.1M888.9 509.1H898.6M898.6 508.8V511.5M898.6 508.8H903.8M903.8 507.9V509.7M903.8 507.9H908.7M908.7 507.9H910.5M903.8 509.7H908.9M908.9 509.7H910.5M898.6 511.5H905.3M905.3 511.5H910.5M888.9 517.1H899.2M899.2 514.4V518.7M899.2 514.4H905.0M905.0 513.2V515.0M905.0 513.2H908.7M908.7 513.2H910.5M905.0 515.0H908.0M908.0 515.0H910.5M899.2 518.7H907.2M907.2 518.7H910.5M870.0 533.0H878.0M878.0 530.9V542.2M878.0 530.9H894.6M894.6 523.1V530.9M894.6 523.1H903.4M903.4 522.2V525.3M903.4 522.2H906.8M906.8 522.2H910.5M903.4 525.3H906.4M906.4 524.5V526.5M906.4 524.5H909.5M909.5 524.5H910.5M906.4 526.5H909.4M909.4 526.5H910.5M894.6 530.2H900.9M900.9 529.6V534.6M900.9 529.6H907.0M907.0 529.6H910.5M900.9 534.6H907.2M907.2 534.6H910.5M878.0 542.2H894.3M894.3 539.4V545.8M894.3 539.4H900.0M900.0 539.4V541.5M900.0 539.5H905.4M905.4 537.2V539.6M905.4 537.2H908.0M908.0 537.2H910.5M905.4 539.6H908.7M908.7 539.6H910.5M900.0 541.5H906.3M906.3 541.5H910.5M894.3 545.8H902.2M902.2 543.9V546.6M902.2 543.9H907.1M907.1 543.9H910.5M902.2 546.6H907.4M907.4 546.6H910.5M853.0 564.0H861.0M861.0 557.5V570.3M861.0 557.5H875.0M875.0 551.6V557.5M875.0 551.6H890.7M890.7 549.1V553.0M890.7 549.1H903.5M903.5 549.1H910.5M890.7 553.0H905.8M905.8 551.3V553.0M905.8 551.3H908.9M908.9 551.3H910.5M905.8 552.7H909.1M909.1 552.7H910.5M875.0 557.5H888.0M888.0 556.5V560.4M888.0 556.5H897.2M897.2 555.3V557.2M897.2 555.3H902.8M902.8 555.3H910.5M897.2 557.2H905.2M905.2 556.8V558.1M905.2 556.8H908.2M908.2 556.8H910.5M905.2 558.1H908.1M908.1 558.1H910.5M888.0 560.4H905.7M905.7 559.7V562.0M905.7 559.7H907.9M907.9 559.7H910.5M905.7 562.0H908.8M908.8 562.0H910.5M861.0 570.3H866.0M866.0 567.4V571.2M866.0 567.4H887.7M887.7 565.8V568.7M887.7 565.8H902.1M902.1 564.5V565.8M902.1 564.5H908.4M908.4 564.5H910.5M902.1 565.7H907.3M907.3 565.7H910.5M887.7 568.7H902.5M902.5 567.9V569.0M902.5 567.9H906.2M906.2 567.9H910.5M902.5 569.0H907.0M907.0 569.0H910.5M866.0 571.2H897.4M897.4 570.7V571.5M897.4 570.7H905.6M905.6 570.7H910.5M897.4 571.5H903.9M903.9 571.5H910.5M833.0 575.0H845.0M845.0 573.6V575.9M845.0 573.6H871.9M871.9 572.5V574.0M871.9 572.5H897.0M897.0 572.5H910.5M871.9 574.0H895.4M895.4 574.0H910.5M845.0 575.9H872.1M872.1 575.4V576.8M872.1 575.4H891.6M891.6 575.4H910.5M872.1 576.8H895.4M895.4 576.8H910.5M794.0 638.0H817.5M817.5 622.0V654.4M817.5 622.0H854.0M854.0 607.0V636.7M854.0 607.0H882.0M882.0 586.8V619.8M882.0 586.8H892.9M892.9 585.9V601.6M892.9 585.9H902.2M902.2 580.3V588.6M902.2 580.3H905.6M905.6 578.9V582.7M905.6 578.9H907.7M907.7 578.9H910.5M905.6 582.7H908.5M908.5 582.7H910.5M902.2 588.6H904.4M904.4 588.6V591.9M904.4 588.7H908.9M908.9 588.7H910.5M904.4 591.9H909.1M909.1 591.9H910.5M892.9 601.6H899.4M899.4 597.0V603.9M899.4 597.0H901.4M901.4 594.5V599.4M901.4 594.5H907.4M907.4 594.5H910.5M901.4 599.4H906.6M906.6 599.4H910.5M899.4 603.9H906.3M906.3 601.9V604.9M906.3 601.9H908.3M908.3 601.9H910.5M906.3 604.9H909.2M909.2 604.9H910.5M882.0 619.8H888.7M888.7 612.2V624.9M888.7 612.2H895.3M895.3 610.2V615.5M895.3 610.2H902.1M902.1 608.9V610.9M902.1 608.9H908.6M908.6 608.9H910.5M902.1 610.9H906.9M906.9 610.9H910.5M895.3 615.5H903.6M903.6 614.1V617.2M903.6 614.1H909.0M909.0 614.1H910.5M903.6 617.2H908.8M908.8 617.2H910.5M888.7 624.9H894.4M894.4 622.1V625.7M894.4 622.1H906.6M906.6 622.1H910.5M894.4 625.7H902.9M902.9 624.6V626.7M902.9 624.6H906.3M906.3 624.6H910.5M902.9 626.7H908.8M908.8 626.7H910.5M854.0 636.7H888.0M888.0 635.8V643.7M888.0 635.8H893.6M893.6 630.1V635.8M893.6 630.1H903.6M903.6 629.6V631.9M903.6 629.6H908.4M908.4 629.6H910.5M903.6 631.9H908.6M908.6 631.9H910.5M893.6 635.1H902.3M902.3 634.0V638.1M902.3 634.0H906.7M906.7 634.0H910.5M902.3 638.1H908.4M908.4 638.1H910.5M888.0 643.7H896.0M896.0 642.9V648.1M896.0 642.9H906.7M906.7 642.9H910.5M896.0 648.1H904.7M904.7 647.3V649.0M904.7 647.3H908.4M908.4 647.3H910.5M904.7 649.0H907.4M907.4 649.0H910.5M817.5 654.4H864.0M864.0 651.1V655.1M864.0 651.1H884.7M884.7 650.7V652.4M884.7 650.7H904.1M904.1 650.7H910.5M884.7 652.4H901.9M901.9 652.4H910.5M864.0 655.1H889.4M889.4 654.8V656.7M889.4 654.8H903.1M903.1 654.2V655.4M903.1 654.2H908.0M908.0 654.2H910.5M903.1 655.4H908.8M908.8 655.4H910.5M889.4 656.7H902.8M902.8 656.7H910.5" stroke="#1e1e1e" stroke-width="1.15" fill="none" stroke-linecap="square"/>
<path d="M897.5 157.7H910.5M907.5 158.9H910.5M906.5 160.1H910.5M907.5 161.0H910.5M902.5 162.5H910.5M904.5 163.8H910.5M906.5 165.0H910.5M902.5 166.2H910.5M900.5 167.6H910.5M902.5 168.5H910.5M905.5 169.7H910.5M904.5 171.4H910.5M906.5 172.6H910.5M907.5 174.1H910.5M907.5 175.5H910.5M900.5 176.4H910.5M904.5 177.8H910.5M905.5 178.8H910.5M897.5 180.1H910.5M906.5 181.3H910.5M906.5 183.0H910.5M900.5 184.2H910.5M906.5 185.2H910.5M897.5 186.4H910.5M907.5 187.8H910.5M907.5 188.8H910.5M900.5 190.4H910.5M904.5 191.7H910.5M897.5 193.0H910.5M902.5 194.4H910.5M906.5 195.5H910.5M905.5 197.0H910.5M904.5 198.3H910.5M902.5 199.8H910.5M902.5 200.8H910.5M900.5 201.8H910.5M897.5 203.5H910.5M906.5 204.5H910.5M906.5 205.5H910.5M900.5 206.9H910.5M902.5 208.1H910.5M900.5 209.4H910.5M900.5 210.4H910.5M905.5 211.7H910.5M905.5 213.1H910.5M900.5 214.5H910.5M900.5 215.4H910.5M906.5 216.8H910.5M905.5 218.3H910.5M904.5 219.7H910.5M904.5 221.1H910.5M902.5 222.7H910.5M905.5 224.3H910.5M907.5 225.7H910.5M906.5 227.3H910.5M905.5 228.6H910.5M897.5 229.8H910.5M900.5 230.8H910.5M900.5 231.9H910.5M904.5 232.8H910.5M905.5 234.5H910.5M904.5 236.1H910.5M904.5 237.6H910.5M902.5 239.1H910.5M905.5 240.6H910.5M902.5 242.2H910.5M900.5 243.5H910.5M897.5 245.0H910.5M906.5 246.5H910.5M900.5 247.9H910.5M897.5 248.8H910.5M904.5 250.0H910.5M907.5 251.6H910.5M907.5 252.7H910.5M907.5 254.0H910.5M906.5 255.5H910.5M897.5 257.1H910.5M900.5 258.5H910.5M900.5 260.0H910.5M904.5 261.0H910.5M906.5 262.4H910.5M907.5 263.8H910.5M906.5 264.9H910.5M900.5 266.3H910.5M905.5 267.9H910.5M905.5 269.2H910.5M907.5 270.2H910.5M902.5 271.4H910.5M897.5 272.8H910.5M900.5 274.0H910.5M905.5 275.5H910.5M907.5 276.8H910.5M907.5 277.9H910.5M906.5 279.1H910.5M907.5 280.6H910.5M904.5 281.7H910.5M904.5 283.3H910.5M902.5 284.6H910.5M897.5 285.5H910.5M897.5 287.1H910.5M904.5 288.5H910.5M902.5 290.0H910.5M897.5 291.4H910.5M906.5 293.0H910.5M904.5 293.9H910.5M906.5 295.6H910.5M900.5 297.3H910.5M907.5 298.4H910.5M907.5 299.8H910.5M904.5 300.8H910.5M904.5 301.7H910.5M906.5 302.7H910.5M904.5 304.1H910.5M897.5 305.4H910.5M904.5 307.0H910.5M906.5 308.5H910.5M904.5 309.5H910.5M907.5 310.5H910.5M902.5 311.6H910.5M900.5 313.1H910.5M897.5 314.6H910.5M897.5 316.0H910.5M906.5 317.0H910.5M897.5 318.6H910.5M897.5 320.2H910.5M900.5 321.6H910.5M897.5 323.0H910.5M904.5 324.4H910.5M906.5 325.9H910.5M905.5 327.1H910.5M897.5 328.5H910.5M906.5 330.1H910.5M897.5 331.6H910.5M900.5 332.6H910.5M902.5 333.6H910.5M897.5 334.9H910.5M905.5 335.9H910.5M902.5 336.9H910.5M904.5 338.0H910.5M900.5 339.6H910.5M902.5 340.5H910.5M897.5 341.8H910.5M905.5 343.4H910.5M907.5 344.8H910.5M905.5 346.1H910.5M907.5 347.0H910.5M905.5 348.5H910.5M904.5 350.0H910.5M902.5 351.1H910.5M905.5 352.4H910.5M902.5 353.8H910.5M904.5 355.0H910.5M904.5 356.2H910.5M907.5 357.9H910.5M905.5 359.0H910.5M902.5 360.0H910.5M902.5 361.0H910.5M907.5 362.2H910.5M902.5 363.7H910.5M907.5 364.8H910.5M904.5 366.3H910.5M905.5 367.4H910.5M897.5 368.9H910.5M900.5 369.9H910.5M907.5 371.3H910.5M907.5 373.0H910.5M897.5 374.5H910.5M900.5 376.1H910.5M904.5 377.1H910.5M904.5 378.4H910.5M905.5 379.4H910.5M905.5 380.5H910.5M902.5 381.9H910.5M900.5 382.8H910.5M905.5 384.1H910.5M902.5 385.7H910.5M904.5 386.8H910.5M907.5 388.0H910.5M900.5 389.0H910.5M907.5 390.7H910.5M897.5 392.3H910.5M900.5 393.4H910.5M905.5 394.4H910.5M897.5 395.4H910.5M907.5 396.7H910.5M904.5 398.1H910.5M907.5 399.6H910.5M905.5 401.0H910.5M904.5 402.1H910.5M902.5 403.7H910.5M902.5 405.0H910.5M897.5 406.3H910.5M904.5 407.6H910.5M906.5 408.8H910.5M904.5 410.2H910.5M907.5 411.9H910.5M904.5 412.9H910.5M907.5 414.0H910.5M905.5 415.2H910.5M902.5 416.4H910.5M907.5 417.4H910.5M900.5 418.7H910.5M902.5 419.8H910.5M897.5 420.8H910.5M907.5 422.2H910.5M907.5 423.2H910.5M905.5 424.3H910.5M900.5 425.5H910.5M904.5 426.6H910.5M906.5 427.8H910.5M902.5 429.3H910.5M902.5 430.7H910.5M904.5 432.1H910.5M902.5 433.7H910.5M907.5 434.9H910.5M904.5 436.0H910.5M897.5 437.7H910.5M907.5 439.1H910.5M905.5 440.3H910.5M897.5 441.5H910.5M900.5 442.7H910.5M904.5 444.3H910.5M904.5 445.6H910.5M906.5 447.3H910.5M897.5 448.3H910.5M904.5 449.7H910.5M906.5 450.9H910.5M904.5 452.0H910.5M900.5 452.9H910.5M905.5 454.1H910.5M906.5 455.2H910.5M902.5 456.4H910.5M907.5 457.7H910.5M907.5 458.9H910.5M906.5 459.9H910.5M906.5 461.3H910.5M902.5 462.8H910.5M907.5 464.2H910.5M897.5 465.8H910.5M907.5 467.2H910.5M902.5 468.4H910.5M897.5 469.5H910.5M907.5 471.2H910.5M907.5 472.2H910.5M902.5 473.4H910.5M906.5 474.4H910.5M905.5 476.1H910.5M906.5 477.6H910.5M907.5 478.8H910.5M907.5 479.8H910.5M907.5 481.3H910.5M905.5 483.0H910.5M907.5 484.0H910.5M897.5 485.4H910.5M900.5 487.1H910.5M897.5 488.4H910.5M905.5 489.6H910.5M906.5 490.7H910.5M905.5 492.2H910.5M906.5 493.2H910.5M904.5 494.3H910.5M897.5 495.8H910.5M897.5 497.0H910.5M907.5 498.1H910.5M900.5 499.6H910.5M902.5 501.1H910.5M900.5 502.1H910.5M905.5 503.5H910.5M900.5 504.8H910.5M904.5 505.9H910.5M900.5 506.9H910.5M906.5 507.9H910.5M906.5 509.0H910.5M904.5 510.7H910.5M900.5 511.6H910.5M902.5 513.1H910.5M902.5 514.8H910.5M905.5 516.0H910.5M906.5 517.1H910.5M897.5 518.7H910.5M904.5 520.0H910.5M907.5 521.1H910.5M906.5 522.4H910.5M907.5 523.5H910.5M907.5 524.9H910.5M906.5 525.9H910.5M900.5 527.2H910.5M905.5 528.5H910.5M906.5 530.1H910.5M906.5 531.2H910.5M902.5 532.2H910.5M897.5 533.5H910.5M904.5 535.0H910.5M904.5 536.1H910.5M900.5 537.5H910.5M902.5 538.6H910.5M904.5 539.7H910.5M900.5 541.2H910.5M900.5 542.2H910.5M902.5 543.6H910.5M902.5 544.9H910.5M907.5 546.6H910.5M902.5 547.7H910.5M906.5 548.7H910.5M905.5 550.2H910.5M897.5 551.4H910.5M902.5 552.6H910.5M905.5 554.0H910.5M904.5 555.0H910.5M900.5 556.4H910.5M907.5 557.4H910.5M897.5 558.8H910.5M904.5 559.7H910.5M902.5 560.8H910.5M905.5 561.7H910.5M905.5 563.2H910.5M905.5 564.4H910.5M905.5 565.4H910.5M907.5 566.5H910.5M907.5 567.9H910.5M905.5 569.3H910.5M904.5 570.8H910.5M905.5 572.1H910.5M904.5 573.0H910.5M906.5 574.3H910.5M900.5 575.6H910.5M902.5 577.2H910.5M904.5 578.2H910.5M907.5 579.6H910.5M897.5 580.7H910.5M905.5 582.1H910.5M906.5 583.4H910.5M902.5 584.6H910.5M900.5 586.1H910.5M904.5 587.6H910.5M900.5 589.0H910.5M906.5 590.6H910.5M897.5 592.0H910.5M907.5 593.4H910.5M906.5 594.5H910.5M904.5 595.7H910.5M900.5 597.0H910.5M897.5 598.1H910.5M904.5 599.4H910.5M902.5 600.6H910.5M906.5 601.7H910.5M900.5 602.9H910.5M906.5 603.9H910.5M897.5 604.9H910.5M904.5 606.2H910.5M897.5 607.5H910.5M900.5 608.4H910.5M904.5 609.4H910.5M900.5 610.9H910.5M907.5 612.3H910.5M897.5 613.9H910.5M897.5 615.4H910.5M906.5 616.6H910.5M897.5 618.3H910.5M897.5 619.2H910.5M902.5 620.7H910.5M902.5 622.4H910.5M897.5 623.8H910.5M906.5 625.0H910.5M904.5 626.7H910.5M897.5 628.0H910.5M902.5 629.4H910.5M897.5 630.6H910.5M905.5 632.2H910.5M907.5 633.1H910.5M902.5 634.2H910.5M905.5 635.8H910.5M906.5 637.5H910.5M906.5 639.1H910.5M907.5 640.3H910.5M904.5 641.7H910.5M904.5 642.8H910.5M905.5 643.9H910.5M905.5 645.1H910.5M906.5 646.1H910.5M905.5 647.2H910.5M905.5 648.7H910.5M905.5 650.2H910.5M902.5 651.2H910.5M907.5 652.5H910.5M900.5 653.8H910.5M906.5 654.9H910.5M897.5 656.4H910.5M904.5 657.4H910.5" stroke="#000" stroke-width="0.9" fill="none"/>
<rect x="910.3" y="157.4" width="9.3" height="500.7" fill="#000"/>
<rect x="1412.3" y="156.3" width="36.6" height="507.6" fill="#05030a"/>
<clipPath id="clipL"><rect x="1412.3" y="156.3" width="80" height="507.6"/></clipPath>
<g clip-path="url(#clipL)"><text transform="translate(1412.3 0) scale(0.76 1)" font-size="10.4" text-anchor="end" fill="#0a0812" stroke="#0a0812" stroke-width="0.5"><tspan x="55.0" y="162.4">TDGF1B2</tspan><tspan x="52.8" y="164.4">COL6A3</tspan><tspan x="44.4" y="166.4">SCNN1A</tspan><tspan x="61.5" y="168.4">FN1B2</tspan><tspan x="48.8" y="170.4">CDX2-AS1</tspan><tspan x="63.6" y="172.4">DNMT3B</tspan><tspan x="59.2" y="174.4">SOX2L1</tspan><tspan x="47.8" y="176.4">IGFBP5</tspan><tspan x="56.1" y="178.4">BMP2-AS1</tspan><tspan x="50.5" y="180.4">CDH5-AS1</tspan><tspan x="48.9" y="182.4">CNN1P1</tspan><tspan x="58.8" y="184.4">VRTNB2</tspan><tspan x="54.8" y="186.4">CDH5B2</tspan><tspan x="49.2" y="188.4">ZNF503</tspan><tspan x="58.1" y="190.4">TBX3-AS1</tspan><tspan x="63.6" y="192.4">TERT-IT1</tspan><tspan x="48.2" y="194.4">FN1-IT1</tspan><tspan x="49.2" y="196.4">POSTN-AS1</tspan><tspan x="50.0" y="198.4">DPPA4B2</tspan><tspan x="63.9" y="200.4">MMP9A</tspan><tspan x="48.4" y="202.4">GATA4-AS1</tspan><tspan x="46.2" y="204.4">SALL4-IT1</tspan><tspan x="46.1" y="206.4">DLC1B2</tspan><tspan x="63.0" y="208.4">VRTNP1</tspan><tspan x="58.3" y="210.4">MEF2C-IT1</tspan><tspan x="48.0" y="212.4">KDRL1</tspan><tspan x="61.3" y="214.4">CYR61B2</tspan><tspan x="49.5" y="216.4">VCAM1B2</tspan><tspan x="52.7" y="218.4">IGFBP7</tspan><tspan x="50.5" y="220.4">SERPINE1</tspan><tspan x="56.9" y="222.4">ACTA2P1</tspan><tspan x="51.8" y="224.4">LUMP1</tspan><tspan x="63.9" y="226.4">FOXD3-IT1</tspan><tspan x="44.7" y="228.4">ZNF503</tspan><tspan x="48.5" y="230.4">HAND2A</tspan><tspan x="57.6" y="232.4">CDH5A</tspan><tspan x="45.2" y="234.4">HAND1L1</tspan><tspan x="64.1" y="236.4">HEY1P1</tspan><tspan x="47.0" y="238.4">SERPINE1</tspan><tspan x="54.4" y="240.4">IGFBP7</tspan><tspan x="45.0" y="242.4">MMP9P1</tspan><tspan x="53.4" y="244.4">FLT1L1</tspan><tspan x="49.8" y="246.4">TDGF1B2</tspan><tspan x="64.1" y="248.4">LEFTY2</tspan><tspan x="60.0" y="250.4">MEF2CL1</tspan><tspan x="61.1" y="252.4">SALL4-AS1</tspan><tspan x="45.6" y="254.4">HAND1-AS1</tspan><tspan x="56.3" y="256.4">TNNT2A</tspan><tspan x="63.0" y="258.4">POSTN-AS1</tspan><tspan x="60.8" y="260.4">TERTL1</tspan><tspan x="55.0" y="262.4">POU5F1</tspan><tspan x="60.3" y="264.4">GATA6A</tspan><tspan x="59.9" y="266.4">SPARCA</tspan><tspan x="50.9" y="268.4">LEFTY1</tspan><tspan x="47.9" y="270.4">SPARCB2</tspan><tspan x="52.1" y="272.4">FN1L1</tspan><tspan x="61.9" y="274.4">KRT18P1</tspan><tspan x="62.2" y="276.4">TAGLNL1</tspan><tspan x="47.6" y="278.4">DLK1B2</tspan><tspan x="47.2" y="280.4">VRTNB2</tspan><tspan x="57.5" y="282.4">DNMT3B</tspan><tspan x="50.3" y="284.4">CDH5B2</tspan><tspan x="51.0" y="286.4">PRDM14</tspan><tspan x="54.7" y="288.4">WNT5AA</tspan><tspan x="58.4" y="290.4">PRDM14</tspan><tspan x="49.3" y="292.4">DLC1L1</tspan><tspan x="44.7" y="294.4">FOXD3A</tspan><tspan x="50.3" y="296.4">POU5F1</tspan><tspan x="44.9" y="298.4">MYH7A</tspan><tspan x="48.4" y="300.4">COL1A1</tspan><tspan x="60.6" y="302.4">MYH6B2</tspan><tspan x="58.5" y="304.4">DPPA4A</tspan><tspan x="45.4" y="306.4">FLT1L1</tspan><tspan x="49.5" y="308.4">TEKB2</tspan><tspan x="60.1" y="310.4">FLT1-AS1</tspan><tspan x="49.7" y="312.4">TBX3A</tspan><tspan x="52.1" y="314.4">KRT8-AS1</tspan><tspan x="58.2" y="316.4">SALL4A</tspan><tspan x="47.1" y="318.4">TBX5-IT1</tspan><tspan x="50.0" y="320.4">NKX2-5</tspan><tspan x="63.2" y="322.4">SFRP1A</tspan><tspan x="58.9" y="324.4">HAND1A</tspan><tspan x="49.6" y="326.4">DNMT3B</tspan><tspan x="56.5" y="328.4">VRTNP1</tspan><tspan x="49.7" y="330.4">KRT8-AS1</tspan><tspan x="54.1" y="332.4">VCAM1A</tspan><tspan x="50.9" y="334.4">HAND1P1</tspan><tspan x="47.3" y="336.4">S100A10</tspan><tspan x="63.3" y="338.4">HAND1-AS1</tspan><tspan x="50.1" y="340.4">IGFBP7</tspan><tspan x="49.2" y="342.4">SALL4P1</tspan><tspan x="54.1" y="344.4">LIN28A</tspan><tspan x="52.8" y="346.4">HAND2P1</tspan><tspan x="62.0" y="348.4">COL1A1</tspan><tspan x="57.9" y="350.4">FLT1P1</tspan><tspan x="54.4" y="352.4">VCAM1A</tspan><tspan x="59.4" y="354.4">WNT5A-AS1</tspan><tspan x="62.5" y="356.4">USP44-AS1</tspan><tspan x="63.5" y="358.4">CDX2-AS1</tspan><tspan x="55.2" y="360.4">COL3A1</tspan><tspan x="56.9" y="362.4">KDR-AS1</tspan><tspan x="45.2" y="364.4">POU5F1</tspan><tspan x="46.1" y="366.4">HAND2P1</tspan><tspan x="55.2" y="368.4">ZFP42P1</tspan><tspan x="53.8" y="370.4">HAND1-IT1</tspan><tspan x="52.4" y="372.4">SALL4P1</tspan><tspan x="52.4" y="374.4">LUMB2</tspan><tspan x="63.9" y="376.4">TNNT2B2</tspan><tspan x="51.2" y="378.4">SOX2-IT1</tspan><tspan x="60.9" y="380.4">GATA4L1</tspan><tspan x="50.9" y="382.4">FN1-IT1</tspan><tspan x="61.3" y="384.4">ANXA1-IT1</tspan><tspan x="52.9" y="386.4">TEK-IT1</tspan><tspan x="46.4" y="388.4">BMP2B2</tspan><tspan x="64.3" y="390.4">TDGF1-AS1</tspan><tspan x="50.2" y="392.4">NANOGB2</tspan><tspan x="47.8" y="394.4">CYR61L1</tspan><tspan x="58.1" y="396.4">ACTC1A</tspan><tspan x="45.6" y="398.4">ACTC1P1</tspan><tspan x="61.1" y="400.4">ANXA1A</tspan><tspan x="52.8" y="402.4">NKX2-5</tspan><tspan x="45.2" y="404.4">THBS1P1</tspan><tspan x="61.4" y="406.4">COL1A1</tspan><tspan x="60.8" y="408.4">PRDM14</tspan><tspan x="62.1" y="410.4">UTF1-AS1</tspan><tspan x="57.1" y="412.4">PDGFRA</tspan><tspan x="56.1" y="414.4">L1TD1-AS1</tspan><tspan x="54.9" y="416.4">DPPA4P1</tspan><tspan x="64.1" y="418.4">NKX2-5</tspan><tspan x="47.7" y="420.4">MMP9-AS1</tspan><tspan x="54.7" y="422.4">ANXA1B2</tspan><tspan x="52.0" y="424.4">POSTN-IT1</tspan><tspan x="47.3" y="426.4">DLK1-IT1</tspan><tspan x="59.2" y="428.4">VCAM1-IT1</tspan><tspan x="61.4" y="430.4">UTF1L1</tspan><tspan x="47.3" y="432.4">LUMA</tspan><tspan x="50.7" y="434.4">KRT18P1</tspan><tspan x="53.8" y="436.4">CRABP1</tspan><tspan x="50.9" y="438.4">PRDM14</tspan><tspan x="45.6" y="440.4">EDNRA-IT1</tspan><tspan x="57.0" y="442.4">CTGFP1</tspan><tspan x="47.1" y="444.4">DNMT3B</tspan><tspan x="47.4" y="446.4">EDNRAL1</tspan><tspan x="63.1" y="448.4">DLC1A</tspan><tspan x="48.8" y="450.4">FOXD3B2</tspan><tspan x="48.6" y="452.4">TERTL1</tspan><tspan x="47.8" y="454.4">FLT1B2</tspan><tspan x="45.6" y="456.4">DLC1A</tspan><tspan x="44.4" y="458.4">CRABP1</tspan><tspan x="57.3" y="460.4">LEFTY1</tspan><tspan x="49.2" y="462.4">CRABP1</tspan><tspan x="60.6" y="464.4">SFRP1-IT1</tspan><tspan x="51.6" y="466.4">CNN1A</tspan><tspan x="55.5" y="468.4">TDGF1A</tspan><tspan x="55.2" y="470.4">TEKA</tspan><tspan x="52.7" y="472.4">GATA4P1</tspan><tspan x="56.9" y="474.4">TDGF1-IT1</tspan><tspan x="64.5" y="476.4">HAND1-AS1</tspan><tspan x="60.0" y="478.4">MYH6A</tspan><tspan x="60.5" y="480.4">FOXD3B2</tspan><tspan x="55.4" y="482.4">LIN28A</tspan><tspan x="57.9" y="484.4">SOX2-AS1</tspan><tspan x="48.6" y="486.4">TGFBIA</tspan><tspan x="54.6" y="488.4">MYH7A</tspan><tspan x="59.6" y="490.4">CTGFP1</tspan><tspan x="50.6" y="492.4">DCNA</tspan><tspan x="46.4" y="494.4">NRP1-AS1</tspan><tspan x="50.4" y="496.4">KDR-IT1</tspan><tspan x="53.1" y="498.4">CDH5P1</tspan><tspan x="48.0" y="500.4">KDRL1</tspan><tspan x="51.0" y="502.4">DNMT3B</tspan><tspan x="59.8" y="504.4">LUML1</tspan><tspan x="48.7" y="506.4">SALL4-AS1</tspan><tspan x="48.7" y="508.4">ACTA2P1</tspan><tspan x="58.4" y="510.4">FOXD3A</tspan><tspan x="45.8" y="512.4">TGFBIP1</tspan><tspan x="55.1" y="514.4">COL6A3</tspan><tspan x="53.2" y="516.4">HAND2P1</tspan><tspan x="57.6" y="518.4">COL6A3</tspan><tspan x="64.3" y="520.4">SPARC-IT1</tspan><tspan x="52.1" y="522.4">CTGFL1</tspan><tspan x="44.7" y="524.4">ZFP42L1</tspan><tspan x="57.1" y="526.4">DNMT3B</tspan><tspan x="52.4" y="528.4">IGFBP5</tspan><tspan x="51.2" y="530.4">COL5A1</tspan><tspan x="56.5" y="532.4">THBS1P1</tspan><tspan x="46.8" y="534.4">KRT18-IT1</tspan><tspan x="60.4" y="536.4">FLT1-IT1</tspan><tspan x="58.6" y="538.4">NANOG-IT1</tspan><tspan x="64.3" y="540.4">NKX2-5</tspan><tspan x="59.6" y="542.4">NRP1L1</tspan><tspan x="50.9" y="544.4">SOX2P1</tspan><tspan x="64.2" y="546.4">TNNT2A</tspan><tspan x="51.9" y="548.4">SOX2B2</tspan><tspan x="46.8" y="550.4">HEY1-IT1</tspan><tspan x="54.4" y="552.4">MEF2C-AS1</tspan><tspan x="47.0" y="554.4">MYLK-AS1</tspan><tspan x="55.7" y="556.4">ISL1P1</tspan><tspan x="51.5" y="558.4">SALL4L1</tspan><tspan x="54.3" y="560.4">DCNA</tspan><tspan x="58.6" y="562.4">S100A10</tspan><tspan x="50.8" y="564.4">TNNT2-IT1</tspan><tspan x="50.2" y="566.4">HAND2L1</tspan><tspan x="64.0" y="568.4">TERTL1</tspan><tspan x="51.1" y="570.4">IGFBP3</tspan><tspan x="45.3" y="572.4">GATA6-IT1</tspan><tspan x="45.9" y="574.4">SERPINE1</tspan><tspan x="51.6" y="576.4">MEF2CA</tspan><tspan x="59.4" y="578.4">PRDM14</tspan><tspan x="53.8" y="580.4">FLT1B2</tspan><tspan x="54.0" y="582.4">ACTA2B2</tspan><tspan x="55.0" y="584.4">GDF3L1</tspan><tspan x="57.6" y="586.4">COL6A3</tspan><tspan x="54.5" y="588.4">GATA6-AS1</tspan><tspan x="50.7" y="590.4">FOXD3A</tspan><tspan x="46.5" y="592.4">LOXA</tspan><tspan x="63.3" y="594.4">IGFBP7</tspan><tspan x="61.2" y="596.4">COL3A1</tspan><tspan x="55.6" y="598.4">HAND2-IT1</tspan><tspan x="55.1" y="600.4">MYH6-IT1</tspan><tspan x="44.5" y="602.4">TGFBI-IT1</tspan><tspan x="61.1" y="604.4">GATA4-AS1</tspan><tspan x="54.3" y="606.4">CTGFA</tspan><tspan x="59.3" y="608.4">CNN1A</tspan><tspan x="58.0" y="610.4">PRDM14</tspan><tspan x="61.8" y="612.4">CNN1P1</tspan><tspan x="59.3" y="614.4">TDGF1B2</tspan><tspan x="57.6" y="616.4">DNMT3B</tspan><tspan x="64.2" y="618.4">KRT18P1</tspan><tspan x="60.3" y="620.4">SOX2-IT1</tspan><tspan x="55.7" y="622.4">THBS1-AS1</tspan><tspan x="59.5" y="624.4">IGFBP7</tspan><tspan x="64.2" y="626.4">LOXB2</tspan><tspan x="50.0" y="628.4">SERPINE1</tspan><tspan x="51.9" y="630.4">POU5F1</tspan><tspan x="44.7" y="632.4">CDH5L1</tspan><tspan x="63.3" y="634.4">HAND1-IT1</tspan><tspan x="52.0" y="636.4">NANOG-AS1</tspan><tspan x="57.5" y="638.4">LOXL1</tspan><tspan x="48.3" y="640.4">NANOG-AS1</tspan><tspan x="52.3" y="642.4">LOXB2</tspan><tspan x="50.9" y="644.4">IGFBP5</tspan><tspan x="49.2" y="646.4">GATA4P1</tspan><tspan x="62.4" y="648.4">CTGF-AS1</tspan><tspan x="47.7" y="650.4">SERPINE1</tspan><tspan x="58.6" y="652.4">HAND2B2</tspan><tspan x="60.0" y="654.4">POSTNL1</tspan><tspan x="58.6" y="656.4">TBX3L1</tspan><tspan x="54.7" y="658.4">IGFBP5</tspan><tspan x="54.6" y="660.4">LUM-IT1</tspan><tspan x="51.5" y="662.4">USP44-AS1</tspan><tspan x="60.2" y="664.4">SALL4B2</tspan><tspan x="84.5" y="192.9">LOC100134265</tspan><tspan x="84.5" y="264.6">LOC100132535</tspan><tspan x="84.5" y="293.3">LOC100128893</tspan><tspan x="84.5" y="323.7">LOC100132550</tspan><tspan x="84.5" y="346.7">LOC644085</tspan><tspan x="84.5" y="385.1">LOC100132535</tspan><tspan x="84.5" y="418.4">LOC100130673</tspan><tspan x="84.5" y="437.7">LOC100131267</tspan><tspan x="84.5" y="465.3">LOC100129971</tspan><tspan x="84.5" y="524.3">LOC100133681</tspan><tspan x="84.5" y="587.7">LOC100132934</tspan><tspan x="84.5" y="614.2">LOC100131558</tspan><tspan x="84.5" y="634.6">LOC100130266</tspan></text></g>
<text transform="matrix(0 -0.2322 0.3076 0 1005 722.5)" font-size="100" font-weight="normal" fill="#000" stroke="#000" stroke-width="3.5" stroke-linejoin="round">D0_1</text>
<text transform="matrix(0 -0.2445 0.3062 0 1130 727.8)" font-size="100" font-weight="normal" fill="#000" stroke="#000" stroke-width="3.5" stroke-linejoin="round">D0_2</text>
<text transform="matrix(0 -0.245 0.2993 0 1247 740.6)" font-size="100" font-weight="normal" fill="#000" stroke="#000" stroke-width="3.5" stroke-linejoin="round">D20_1</text>
<text transform="matrix(0 -0.245 0.3062 0 1367 740.6)" font-size="100" font-weight="normal" fill="#000" stroke="#000" stroke-width="3.5" stroke-linejoin="round">D20_2</text>
<text transform="matrix(0.2712 0 0 0.3096 763.3 665)" font-size="100" font-weight="bold" fill="#000" stroke="#000" stroke-width="5" stroke-linejoin="round">b</text>
</g>
<g id="panel-c">
<filter id="cb" x="-3%" y="-3%" width="106%" height="106%"><feGaussianBlur stdDeviation="0.7"/></filter>
<g filter="url(#cb)">
<rect x="251.7" y="813.60" width="70.9" height="28.34" fill="#00a500"/>
<rect x="322.3" y="813.60" width="70.4" height="28.34" fill="#be0000"/>
<rect x="251.7" y="841.64" width="70.9" height="28.34" fill="#00aa00"/>
<rect x="322.3" y="841.64" width="70.4" height="28.34" fill="#a50000"/>
<rect x="251.7" y="869.67" width="70.9" height="28.34" fill="#009600"/>
<rect x="322.3" y="869.67" width="70.4" height="28.34" fill="#e10000"/>
<rect x="251.7" y="897.71" width="70.9" height="28.34" fill="#009b00"/>
<rect x="322.3" y="897.71" width="70.4" height="28.34" fill="#f00000"/>
<rect x="251.7" y="925.74" width="70.9" height="28.34" fill="#009b00"/>
<rect x="322.3" y="925.74" width="70.4" height="28.34" fill="#c80000"/>
<rect x="251.7" y="953.78" width="70.9" height="28.34" fill="#008c00"/>
<rect x="322.3" y="953.78" width="70.4" height="28.34" fill="#a00000"/>
<rect x="251.7" y="981.81" width="70.9" height="28.34" fill="#00d700"/>
<rect x="322.3" y="981.81" width="70.4" height="28.34" fill="#af0000"/>
<rect x="251.7" y="1009.85" width="70.9" height="28.34" fill="#00aa00"/>
<rect x="322.3" y="1009.85" width="70.4" height="28.34" fill="#780000"/>
<rect x="251.7" y="1037.89" width="70.9" height="28.34" fill="#00af00"/>
<rect x="322.3" y="1037.89" width="70.4" height="28.34" fill="#be0000"/>
<rect x="251.7" y="1065.92" width="70.9" height="28.34" fill="#009b00"/>
<rect x="322.3" y="1065.92" width="70.4" height="28.34" fill="#cd0000"/>
<rect x="251.7" y="1093.96" width="70.9" height="28.34" fill="#00d700"/>
<rect x="322.3" y="1093.96" width="70.4" height="28.34" fill="#9b0000"/>
<rect x="251.7" y="1121.99" width="70.9" height="28.34" fill="#009600"/>
<rect x="322.3" y="1121.99" width="70.4" height="28.34" fill="#8c0000"/>
<rect x="251.7" y="1150.03" width="70.9" height="28.34" fill="#009600"/>
<rect x="322.3" y="1150.03" width="70.4" height="28.34" fill="#460000"/>
<rect x="251.7" y="1178.06" width="70.9" height="28.34" fill="#008700"/>
<rect x="322.3" y="1178.06" width="70.4" height="28.34" fill="#ff0000"/>
<rect x="251.7" y="841.19" width="141.0" height="0.9" fill="#fff" opacity="0.10"/>
<rect x="251.7" y="869.22" width="141.0" height="0.9" fill="#fff" opacity="0.10"/>
<rect x="251.7" y="897.26" width="141.0" height="0.9" fill="#fff" opacity="0.10"/>
<rect x="251.7" y="925.29" width="141.0" height="0.9" fill="#fff" opacity="0.10"/>
<rect x="251.7" y="953.33" width="141.0" height="0.9" fill="#fff" opacity="0.10"/>
<rect x="251.7" y="981.36" width="141.0" height="0.9" fill="#fff" opacity="0.10"/>
<rect x="251.7" y="1009.40" width="141.0" height="0.9" fill="#fff" opacity="0.10"/>
<rect x="251.7" y="1037.44" width="141.0" height="0.9" fill="#fff" opacity="0.10"/>
<rect x="251.7" y="1065.47" width="141.0" height="0.9" fill="#fff" opacity="0.10"/>
<rect x="251.7" y="1093.51" width="141.0" height="0.9" fill="#fff" opacity="0.10"/>
<rect x="251.7" y="1121.54" width="141.0" height="0.9" fill="#fff" opacity="0.10"/>
<rect x="251.7" y="1149.58" width="141.0" height="0.9" fill="#fff" opacity="0.10"/>
<rect x="251.7" y="1177.61" width="141.0" height="0.9" fill="#fff" opacity="0.10"/>
</g>
<text transform="matrix(0.1359 0 0 0.1368 397 832.9)" font-size="100" font-weight="bold" fill="#000" stroke="#000" stroke-width="7" stroke-linejoin="round">TNNT2</text>
<text transform="matrix(0.1418 0 0 0.1368 397 858)" font-size="100" font-weight="bold" fill="#000" stroke="#000" stroke-width="7" stroke-linejoin="round">ZNF503</text>
<text transform="matrix(0.1269 0 0 0.1368 396.9 885.4)" font-size="100" font-weight="bold" fill="#000" stroke="#000" stroke-width="7" stroke-linejoin="round">HEY1</text>
<text transform="matrix(0.1595 0 0 0.1368 397.1 916)" font-size="100" font-weight="bold" fill="#000" stroke="#000" stroke-width="7" stroke-linejoin="round">MMP9</text>
<text transform="matrix(0.134 0 0 0.1368 397 943.5)" font-size="100" font-weight="bold" fill="#000" stroke="#000" stroke-width="7" stroke-linejoin="round">COL1A1</text>
<text transform="matrix(0.1426 0 0 0.1368 397 972)" font-size="100" font-weight="bold" fill="#000" stroke="#000" stroke-width="7" stroke-linejoin="round">TIMP1</text>
<text transform="matrix(0.134 0 0 0.1368 397 999.3)" font-size="100" font-weight="bold" fill="#000" stroke="#000" stroke-width="7" stroke-linejoin="round">COL3A1</text>
<text transform="matrix(0.1271 0 0 0.1368 396.9 1027)" font-size="100" font-weight="bold" fill="#000" stroke="#000" stroke-width="7" stroke-linejoin="round">LOX</text>
<text transform="matrix(0.1343 0 0 0.1368 397 1056)" font-size="100" font-weight="bold" fill="#000" stroke="#000" stroke-width="7" stroke-linejoin="round">DLC1</text>
<text transform="matrix(0.1409 0 0 0.1368 397 1087)" font-size="100" font-weight="bold" fill="#000" stroke="#000" stroke-width="7" stroke-linejoin="round">VCAM1</text>
<text transform="matrix(0.1343 0 0 0.1368 397 1114)" font-size="100" font-weight="bold" fill="#000" stroke="#000" stroke-width="7" stroke-linejoin="round">DLK1</text>
<text transform="matrix(0.1369 0 0 0.1368 397 1143)" font-size="100" font-weight="bold" fill="#000" stroke="#000" stroke-width="7" stroke-linejoin="round">NRP1</text>
<text transform="matrix(0.1369 0 0 0.1368 397 1170)" font-size="100" font-weight="bold" fill="#000" stroke="#000" stroke-width="7" stroke-linejoin="round">CDX2</text>
<text transform="matrix(0.1291 0 0 0.1368 397 1197)" font-size="100" font-weight="bold" fill="#000" stroke="#000" stroke-width="7" stroke-linejoin="round">MYLK</text>
<text transform="matrix(0 -0.1529 0.2263 0 300.4 1255)" font-size="100" font-weight="bold" fill="#000" stroke="#000" stroke-width="7" stroke-linejoin="round">Day 0</text>
<text transform="matrix(0 -0.1605 0.225 0 368.9 1264)" font-size="100" font-weight="bold" fill="#000" stroke="#000" stroke-width="7" stroke-linejoin="round">Day 20</text>
<text transform="matrix(0.281 0 0 0.3133 221.3 1204)" font-size="100" font-weight="bold" fill="#000" stroke="#000" stroke-width="5" stroke-linejoin="round">c</text>
</g>
<g id="panel-d">
<rect x="685.9" y="788.9" width="669.9" height="411.1" fill="#fff" stroke="#858585" stroke-width="1.6"/>
<pattern id="pd" width="3.6" height="3.6" patternUnits="userSpaceOnUse"><rect width="3.6" height="3.6" fill="#fefbfb"/><circle cx="0.9" cy="0.9" r="0.75" fill="#f2e2e2"/><circle cx="2.7" cy="2.7" r="0.75" fill="#f2e2e2"/></pattern>
<rect x="788.8" y="802.9" width="564.2" height="354.3" fill="url(#pd)"/>
<path d="M788.8 802.9V1162.2M782.3 1157.2H1353.0M782.3 1157.2h6.5M782.3 1098.2h6.5M782.3 1039.1h6.5M782.3 980.0h6.5M782.3 921.0h6.5M782.3 862.0h6.5M782.3 802.9h6.5M977.6 1157.2v5.5M1165.3 1157.2v5.5M1353.0 1157.2v5.5" stroke="#a0a0a0" stroke-width="1.1" fill="none"/>
<polygon fill="#953735" points="881.9,1158.0 881.9,1143.3 1071.0,1111.7 1260.4,1125.3 1260.4,1158.0 882.7,1158.0"/>
<path d="M882.7 1148.3L1071.0 1007.8L1259.6 834.2M882.7 1130.9L1071.0 955.0L1259.6 959.4M882.7 1133.6L1071.0 979.2L1259.6 1007.8M882.7 1140.1L1071.0 1009.6L1259.6 950.8M882.7 1144.2L1071.0 1080.4L1259.6 939.3M882.7 1146.6L1071.0 1089.3L1259.6 965.6M882.7 1142.4L1071.0 1098.2L1259.6 991.0M882.7 1137.1L1071.0 1068.6L1259.6 1021.4M882.7 1145.4L1071.0 1104.1L1259.6 1033.5M882.7 1139.5L1071.0 1079.3L1259.6 1038.5M882.7 1141.3L1071.0 1084.6L1259.6 1041.5M882.7 1143.6L1071.0 1088.7L1259.6 1045.0M882.7 1141.8L1071.0 1095.2L1259.6 1048.5M882.7 1148.3L1071.0 1101.1L1259.6 1051.5M882.7 1145.4L1071.0 1086.3L1259.6 1058.0M882.7 1143.0L1071.0 1092.2L1259.6 1064.5M882.7 1150.1L1071.0 1110.0L1259.6 1067.1M882.7 1146.0L1071.0 1104.1L1259.6 1069.2M882.7 1141.8L1071.0 1087.5L1259.6 1084.6M882.7 1144.8L1071.0 1086.3L1259.6 1088.7M882.7 1138.9L1071.0 1091.1L1259.6 1092.2M882.7 1140.7L1071.0 1093.4L1259.6 1096.4M882.7 1144.2L1071.0 1095.8L1259.6 1100.5M882.7 1142.4L1071.0 1099.3L1259.6 1105.2M882.7 1147.2L1071.0 1124.7L1259.6 1068.6M882.7 1149.5L1071.0 1118.8L1259.6 1071.0M882.7 1151.9L1071.0 1115.9L1259.6 1043.2M882.7 1147.8L1071.0 1102.9L1259.6 1086.3M882.7 1143.6L1071.0 1098.7L1259.6 1090.5M882.7 1145.4L1071.0 1105.2L1259.6 1093.4M882.7 1135.9L1071.0 1081.6L1259.6 1061.5M882.7 1145.4L1071.0 1097.0L1259.6 1055.0M882.7 1151.0L1071.0 1114.5L1259.6 1124.8M882.7 1146.0L1071.0 1112.2L1259.6 1132.0M882.7 1154.1L1071.0 1105.3L1259.6 1128.2M882.7 1151.1L1071.0 1099.5L1259.6 1120.9M882.7 1142.9L1071.0 1116.4L1259.6 1113.1M882.7 1152.2L1071.0 1111.9L1259.6 1099.9M882.7 1147.1L1071.0 1108.5L1259.6 1111.4M882.7 1153.4L1071.0 1108.0L1259.6 1115.5M882.7 1150.2L1071.0 1124.6L1259.6 1100.1M882.7 1147.8L1071.0 1109.2L1259.6 1099.2M882.7 1144.5L1071.0 1102.3L1259.6 1123.9M882.7 1143.4L1071.0 1117.2L1259.6 1095.5M882.7 1142.3L1071.0 1124.0L1259.6 1131.0M882.7 1151.3L1071.0 1100.6L1259.6 1122.3M882.7 1145.7L1071.0 1120.5L1259.6 1119.4M882.7 1149.0L1071.0 1119.4L1259.6 1115.8M882.7 1146.3L1071.0 1102.9L1259.6 1110.8M882.7 1141.6L1071.0 1104.6L1259.6 1091.7M882.7 1145.1L1071.0 1123.0L1259.6 1100.4M882.7 1141.1L1071.0 1102.9L1259.6 1116.5M882.7 1144.6L1071.0 1122.3L1259.6 1102.2M882.7 1146.5L1071.0 1120.9L1259.6 1132.0M882.7 1142.6L1071.0 1099.7L1259.6 1131.7M882.7 1143.4L1071.0 1118.0L1259.6 1130.7M882.7 1150.3L1071.0 1107.6L1259.6 1099.6M882.7 1153.6L1071.0 1112.5L1259.6 1132.2M882.7 1144.5L1071.0 1119.9L1259.6 1099.1M882.7 1140.9L1071.0 1115.6L1259.6 1091.2M882.7 1150.0L1071.0 1124.2L1259.6 1115.1M882.7 1153.8L1071.0 1122.5L1259.6 1123.4M882.7 1146.0L1071.0 1123.2L1259.6 1132.2M882.7 1142.5L1071.0 1120.3L1259.6 1093.9M882.7 1142.1L1071.0 1118.8L1259.6 1121.3M882.7 1147.2L1071.0 1111.6L1259.6 1115.3M882.7 1146.7L1071.0 1112.3L1259.6 1095.1M882.7 1147.4L1071.0 1117.5L1259.6 1108.7M882.7 1151.0L1071.0 1120.5L1259.6 1092.6M882.7 1147.2L1071.0 1114.4L1259.6 1132.4M882.7 1148.6L1071.0 1113.5L1259.6 1132.3M882.7 1145.9L1071.0 1112.0L1259.6 1132.1M882.7 1145.7L1071.0 1116.6L1259.6 1111.0M882.7 1149.5L1071.0 1109.6L1259.6 1107.7M882.7 1153.9L1071.0 1124.3L1259.6 1111.2M882.7 1141.2L1071.0 1121.5L1259.6 1121.5M882.7 1146.2L1071.0 1120.1L1259.6 1125.0M882.7 1150.0L1071.0 1119.0L1259.6 1115.3M882.7 1150.2L1071.0 1118.8L1259.6 1105.8M882.7 1153.9L1071.0 1113.8L1259.6 1107.9M882.7 1150.0L1071.0 1122.1L1259.6 1103.9M882.7 1151.0L1071.0 1122.7L1259.6 1122.3M882.7 1144.8L1071.0 1123.9L1259.6 1126.4M882.7 1149.7L1071.0 1105.4L1259.6 1122.2M882.7 1142.6L1071.0 1123.0L1259.6 1125.9M882.7 1145.4L1071.0 1103.6L1259.6 1121.7M882.7 1151.2L1071.0 1123.7L1259.6 1118.4M882.7 1151.7L1071.0 1106.3L1259.6 1101.8M882.7 1151.8L1071.0 1121.0L1259.6 1103.7M882.7 1145.5L1071.0 1106.3L1259.6 1125.6M882.7 1152.5L1071.0 1120.7L1259.6 1104.5M882.7 1150.6L1071.0 1119.5L1259.6 1123.1M882.7 1148.5L1071.0 1118.1L1259.6 1096.5M882.7 1152.1L1071.0 1124.7L1259.6 1095.0M882.7 1142.3L1071.0 1099.8L1259.6 1122.4M882.7 1141.3L1071.0 1102.0L1259.6 1129.2M882.7 1144.1L1071.0 1105.3L1259.6 1111.8M882.7 1147.2L1071.0 1120.8L1259.6 1125.8M882.7 1151.2L1071.0 1124.3L1259.6 1115.6M882.7 1150.3L1071.0 1106.2L1259.6 1132.2M882.7 1142.0L1071.0 1110.1L1259.6 1096.3M882.7 1142.1L1071.0 1103.1L1259.6 1116.2M882.7 1154.1L1071.0 1108.4L1259.6 1130.3M882.7 1150.2L1071.0 1111.0L1259.6 1118.6M882.7 1148.6L1071.0 1101.6L1259.6 1114.5M882.7 1149.6L1071.0 1121.5L1259.6 1100.3M882.7 1147.8L1071.0 1107.2L1259.6 1125.4M882.7 1151.6L1071.0 1114.8L1259.6 1103.1M882.7 1151.9L1071.0 1106.8L1259.6 1096.4M882.7 1143.3L1071.0 1105.7L1259.6 1132.4M882.7 1145.7L1071.0 1104.4L1259.6 1132.1M882.7 1150.6L1071.0 1121.2L1259.6 1118.5M882.7 1148.5L1071.0 1116.5L1259.6 1105.5M882.7 1154.2L1071.0 1124.4L1259.6 1131.2M882.7 1152.6L1071.0 1124.3L1259.6 1092.8M882.7 1142.6L1071.0 1124.1L1259.6 1119.6M882.7 1150.0L1071.0 1120.2L1259.6 1125.4M882.7 1145.5L1071.0 1113.3L1259.6 1125.1M882.7 1151.7L1071.0 1119.9L1259.6 1131.2M882.7 1146.7L1071.0 1109.3L1259.6 1124.4M882.7 1153.2L1071.0 1122.8L1259.6 1124.7M882.7 1146.0L1071.0 1107.1L1259.6 1124.4M882.7 1143.4L1071.0 1112.2L1259.6 1122.5M882.7 1149.2L1071.0 1115.8L1259.6 1109.7M882.7 1148.5L1071.0 1110.0L1259.6 1121.3M882.7 1150.9L1071.0 1114.8L1259.6 1110.1M882.7 1153.3L1071.0 1117.7L1259.6 1122.7" stroke="#953735" stroke-width="1.7" fill="none" stroke-linejoin="round"/>
<text transform="matrix(0.1789 0 0 0.1572 759.7 1163)" font-size="100" font-weight="normal" fill="#9a9a9a" stroke="#9a9a9a" stroke-width="1.5" stroke-linejoin="round">0</text>
<text transform="matrix(0.181 0 0 0.1572 719.3 1104)" font-size="100" font-weight="normal" fill="#9a9a9a" stroke="#9a9a9a" stroke-width="1.5" stroke-linejoin="round">10000</text>
<text transform="matrix(0.181 0 0 0.1572 719.3 1045)" font-size="100" font-weight="normal" fill="#9a9a9a" stroke="#9a9a9a" stroke-width="1.5" stroke-linejoin="round">20000</text>
<text transform="matrix(0.181 0 0 0.1572 719.3 985.7)" font-size="100" font-weight="normal" fill="#9a9a9a" stroke="#9a9a9a" stroke-width="1.5" stroke-linejoin="round">30000</text>
<text transform="matrix(0.181 0 0 0.1572 719.3 926.6)" font-size="100" font-weight="normal" fill="#9a9a9a" stroke="#9a9a9a" stroke-width="1.5" stroke-linejoin="round">40000</text>
<text transform="matrix(0.181 0 0 0.1572 719.3 867.6)" font-size="100" font-weight="normal" fill="#9a9a9a" stroke="#9a9a9a" stroke-width="1.5" stroke-linejoin="round">50000</text>
<text transform="matrix(0.181 0 0 0.1572 719.3 808.5)" font-size="100" font-weight="normal" fill="#9a9a9a" stroke="#9a9a9a" stroke-width="1.5" stroke-linejoin="round">60000</text>
<text transform="matrix(0.1715 0 0 0.1968 861.1 1191)" font-size="100" font-weight="normal" fill="#2e2e2e" stroke="#2e2e2e" stroke-width="2" stroke-linejoin="round">Day 0</text>
<text transform="matrix(0.1705 0 0 0.1968 1044 1191)" font-size="100" font-weight="normal" fill="#2e2e2e" stroke="#2e2e2e" stroke-width="2" stroke-linejoin="round">Day 12</text>
<text transform="matrix(0.1721 0 0 0.1968 1232 1191)" font-size="100" font-weight="normal" fill="#2e2e2e" stroke="#2e2e2e" stroke-width="2" stroke-linejoin="round">Day 20</text>
<text transform="matrix(0 -0.1686 0.1637 0 708.1 1051)" font-size="100" font-weight="bold" fill="#000" stroke="#000" stroke-width="3" stroke-linejoin="round">Expression signal</text>
<text transform="matrix(0.3076 0 0 0.3159 656.5 1197)" font-size="100" font-weight="bold" fill="#000" stroke="#000" stroke-width="5" stroke-linejoin="round">d</text>
</g>
</svg>
<div class="hc" style="left:925.2px;width:119.2px;background:linear-gradient(#008e00 1.05px,#008e00 1.92px,#008a00 2.62px,#008a00 3.814px,#009900 4.514px,#009900 5.044px,#007800 5.744px,#007800 6.309px,#007900 7.009px,#007900 8.002px,#008d00 8.702px,#008d00 9.505px,#009500 10.21px,#009500 11.27px,#008900 11.97px,#008900 13.18px,#005f00 13.88px,#005f00 14.57px,#005f00 15.27px,#005f00 16.51px,#006300 17.21px,#006300 17.61px,#009c00 18.31px,#009c00 19.41px,#009800 20.11px,#009800 20.69px,#008d00 21.39px,#008d00 22.47px,#009200 23.17px,#009200 24.01px,#009400 24.71px,#009400 25.38px,#009500 26.08px,#009500 26.8px,#009a00 27.5px,#009a00 28.71px,#009000 29.41px,#009000 30.62px,#009400 31.32px,#009400 32.21px,#00a200 32.91px,#00a200 33.43px,#009000 34.13px,#009000 34.72px,#009000 35.42px,#009000 36.1px,#006900 36.8px,#006900 38.02px,#006b00 38.72px,#006b00 39.8px,#008700 40.5px,#008700 41.43px,#008100 42.13px,#008100 42.64px,#008300 43.34px,#008300 44.58px,#008e00 45.28px,#008e00 46.12px,#008200 46.82px,#008200 47.39px,#008300 48.09px,#008300 49.05px,#008000 49.75px,#008000 51.02px,#008f00 51.72px,#008f00 52.26px,#008a00 52.96px,#008a00 53.58px,#007200 54.28px,#007200 55px,#008800 55.7px,#008800 56.8px,#009700 57.5px,#009700 58.57px,#009c00 59.27px,#009c00 60.26px,#00a100 60.96px,#00a100 61.24px,#006700 61.94px,#006700 62.91px,#006900 63.61px,#006900 64.73px,#006b00 65.43px,#006b00 65.68px,#00a100 66.38px,#00a100 67.34px,#009900 68.04px,#009900 68.63px,#006d00 69.33px,#006d00 70.29px,#007700 70.99px,#007700 71.59px,#009000 72.29px,#009000 73.14px,#008b00 73.84px,#008b00 74.6px,#009300 75.3px,#009300 75.87px,#009300 76.57px,#009300 77.7px,#008f00 78.4px,#008f00 78.92px,#009c00 79.62px,#009c00 80.52px,#009100 81.22px,#009100 82.28px,#008700 82.98px,#008700 83.82px,#008b00 84.52px,#008b00 85.21px,#009200 85.91px,#009200 86.71px,#009700 87.41px,#009700 88.59px,#008a00 89.29px,#008a00 89.93px,#009100 90.63px,#009100 90.82px,#006700 91.52px,#006700 92.8px,#005800 93.5px,#005800 94.14px,#006f00 94.84px,#006f00 95.25px,#008300 95.95px,#008300 96.46px,#008500 97.16px,#008500 97.97px,#008200 98.67px,#008200 99.66px,#008800 100.4px,#008800 101.2px,#009400 101.9px,#009400 102.8px,#009400 103.5px,#009400 104.5px,#009000 105.2px,#009000 106.2px,#009300 106.9px,#009300 108.6px,#008600 109.3px,#008600 110.4px,#007500 111.1px,#007500 111.7px,#007b00 112.4px,#007b00 113.5px,#008900 114.2px,#008900 114.5px,#00a300 115.2px,#00a300 115.8px,#00a800 116.5px,#00a800 117.1px,#00a100 117.8px,#00a100 118.9px,#006900 119.6px,#006900 120.3px,#006b00 121px,#006b00 121.9px,#008600 122.6px,#008600 123.5px,#008900 124.2px,#008900 125px,#008600 125.7px,#008600 127px,#008b00 127.7px,#008b00 128.6px,#008d00 129.3px,#008d00 130.6px,#009300 131.3px,#009300 132.5px,#008e00 133.2px,#008e00 134.2px,#008400 134.9px,#008400 136.1px,#008900 136.8px,#008900 137.7px,#008e00 138.4px,#008e00 139.2px,#009500 139.9px,#009500 140.4px,#009300 141.1px,#009300 142.2px,#008a00 142.9px,#008a00 143.9px,#009100 144.6px,#009100 145.1px,#008f00 145.8px,#008f00 147.1px,#008800 147.8px,#008800 148.4px,#009500 149.1px,#009500 150.1px,#008400 150.8px,#008400 152px,#008a00 152.7px,#008a00 153.7px,#008e00 154.4px,#008e00 155.5px,#008b00 156.2px,#008b00 156.8px,#008b00 157.5px,#008b00 158.5px,#008a00 159.2px,#008a00 160px,#008d00 160.7px,#008d00 161.6px,#008c00 162.3px,#008c00 162.7px,#008700 163.4px,#008700 164.2px,#008800 164.9px,#008800 166.1px,#007600 166.8px,#007600 167.1px,#00a800 167.8px,#00a800 169px,#00a800 169.7px,#00a800 170.8px,#007e00 171.5px,#007e00 172.6px,#008100 173.3px,#008100 173.7px,#00a700 174.4px,#00a700 175px,#00a400 175.7px,#00a400 177px,#00ab00 177.7px,#00ab00 178.2px,#008800 178.9px,#008800 179.8px,#008300 180.5px,#008300 181.5px,#008200 182.2px,#008200 182.8px,#007b00 183.5px,#007b00 184.1px,#006300 184.8px,#006300 185.6px,#006400 186.3px,#006400 187.1px,#009200 187.8px,#009200 188.9px,#009400 189.6px,#009400 190.8px,#009600 191.5px,#009600 192.5px,#009400 193.2px,#009400 193.9px,#009100 194.6px,#009100 195.3px,#00a600 196px,#00a600 196.7px,#008100 197.4px,#008100 198.6px,#009100 199.3px,#009100 201.1px,#009700 201.8px,#009700 203.1px,#009800 203.8px,#009800 204.5px,#00a100 205.2px,#00a100 205.5px,#008200 206.2px,#008200 207.4px,#008100 208.1px,#008100 208.9px,#007d00 209.6px,#007d00 210.5px,#008800 211.2px,#008800 212.2px,#008500 212.9px,#008500 212.9px,#006100 213.6px,#006100 214.5px,#005c00 215.2px,#005c00 215.9px,#008e00 216.6px,#008e00 217.2px,#009500 217.9px,#009500 218.5px,#008f00 219.2px,#008f00 220.2px,#008600 220.9px,#008600 221.1px,#006700 221.8px,#006700 222.9px,#007500 223.6px,#007500 224.8px,#009700 225.5px,#009700 226.4px,#009500 227.1px,#009500 228px,#009200 228.7px,#009200 229.6px,#009a00 230.3px,#009a00 230.7px,#004800 231.4px,#004800 232.3px,#004a00 233px,#004a00 233.7px,#004f00 234.4px,#004f00 235.1px,#008c00 235.8px,#008c00 237.1px,#008a00 237.8px,#008a00 238.3px,#008900 239px,#008900 239.6px,#008300 240.3px,#008300 241.4px,#008c00 242.1px,#008c00 242.9px,#008f00 243.6px,#008f00 245.5px,#a00000 246.2px,#a00000 247.2px,#9f0000 247.9px,#9f0000 248.7px,#a50000 249.4px,#a50000 250.2px,#970000 250.9px,#970000 251.4px,#840000 252.1px,#840000 253px,#8c0000 253.7px,#8c0000 254.2px,#8b0000 254.9px,#8b0000 255.8px,#860000 256.5px,#860000 257.7px,#800000 258.4px,#800000 259.5px,#900000 260.2px,#900000 260.3px,#550000 261px,#550000 262px,#4b0000 262.7px,#4b0000 263.4px,#590000 264.1px,#590000 264.9px,#430000 265.6px,#430000 266.2px,#880000 266.9px,#880000 267.4px,#8e0000 268.1px,#8e0000 268.7px,#830000 269.4px,#830000 270px,#8e0000 270.7px,#8e0000 271.3px,#930000 272px,#930000 273.2px,#8f0000 273.9px,#8f0000 274.6px,#950000 275.3px,#950000 276.2px,#9a0000 276.9px,#9a0000 278px,#a50000 278.7px,#a50000 279.8px,#af0000 280.5px,#af0000 281.4px,#a90000 282.1px,#a90000 282.4px,#b90000 283.1px,#b90000 284px,#b80000 284.7px,#b80000 285.7px,#c50000 286.4px,#c50000 287.6px,#c20000 288.3px,#c20000 288.4px,#a20000 289.1px,#a20000 290.3px,#900000 291px,#900000 291.6px,#a70000 292.3px,#a70000 292.8px,#9d0000 293.5px,#9d0000 294.5px,#a10000 295.2px,#a10000 296.5px,#a20000 297.2px,#a20000 298.4px,#a30000 299.1px,#a30000 300.1px,#ab0000 300.8px,#ab0000 301.5px,#a00000 302.2px,#a00000 302.8px,#a20000 303.5px,#a20000 304.6px,#7d0000 305.3px,#7d0000 306.4px,#900000 307.1px,#900000 307.7px,#910000 308.4px,#910000 309.1px,#a60000 309.8px,#a60000 310.4px,#980000 311.1px,#980000 312.1px,#9f0000 312.8px,#9f0000 314px,#a30000 314.7px,#a30000 315px,#850000 315.7px,#850000 316.5px,#830000 317.2px,#830000 318.4px,#8a0000 319.1px,#8a0000 320px,#8c0000 320.7px,#8c0000 321.4px,#800000 322.1px,#800000 322.4px,#960000 323.1px,#960000 324.3px,#9a0000 325px,#9a0000 326px,#9a0000 326.7px,#9a0000 328px,#9c0000 328.7px,#9c0000 329.3px,#960000 330px,#960000 330.6px,#9a0000 331.3px,#9a0000 332.7px,#9d0000 333.4px,#9d0000 334.4px,#009500 335.1px,#009500 335.7px,#009500 336.4px,#009500 337.2px,#009200 337.9px,#009200 338.9px,#009c00 339.6px,#009c00 340.8px,#009000 341.5px,#009000 342.3px,#009700 343px,#009700 344.2px,#009600 344.9px,#009600 346px,#009500 346.7px,#009500 347.4px,#009600 348.1px,#009600 349.3px,#009b00 350px,#009b00 350.4px,#007200 351.1px,#007200 352.2px,#007b00 352.9px,#007b00 353.4px,#009f00 354.1px,#009f00 355.3px,#009c00 356px,#009c00 357.1px,#007100 357.8px,#007100 358.9px,#007500 359.6px,#007500 360.4px,#007900 361.1px,#007900 361.5px,#009500 362.2px,#009500 363.1px,#009700 363.8px,#009700 365.1px,#009b00 365.8px,#009b00 366.5px,#009500 367.2px,#009500 368.4px,#009600 369.1px,#009600 370px,#009900 370.7px,#009900 371.9px,#009800 372.6px,#009800 373.8px,#009a00 374.5px,#009a00 375.2px,#008800 375.9px,#008800 376.7px,#009000 377.4px,#009000 378.3px,#009200 379px,#009200 380.2px,#008e00 380.9px,#008e00 381.5px,#004700 382.2px,#004700 383.2px,#004500 383.9px,#004500 384.7px,#003700 385.4px,#003700 385.9px,#007d00 386.6px,#007d00 387.9px,#007700 388.6px,#007700 389.8px,#007700 390.5px,#007700 391.8px,#008b00 392.5px,#008b00 393px,#008c00 393.7px,#008c00 394.4px,#009500 395.1px,#009500 396.2px,#007500 396.9px,#007500 398.5px,#009100 399.2px,#009100 399.8px,#009b00 400.5px,#009b00 401.5px,#009600 402.2px,#009600 402.9px,#00a300 403.6px,#00a300 404.2px,#009a00 404.9px,#009a00 405.8px,#009c00 406.5px,#009c00 407.6px,#009a00 408.3px,#009a00 409.3px,#008e00 410px,#008e00 411.1px,#009d00 411.8px,#009d00 413.2px,#008200 413.9px,#008200 415.5px,#00a400 416.2px,#00a400 416.7px,#009500 417.4px,#009500 418.5px,#00a300 419.2px,#00a300 419.8px,#009a00 420.5px,#009a00 420.6px,#7c0000 421.3px,#7c0000 422px,#7b0000 422.7px,#7b0000 423.6px,#810000 424.3px,#810000 424.3px,#aa0000 425px,#aa0000 425.8px,#b80000 426.5px,#b80000 427.5px,#b10000 428.2px,#b10000 429.3px,#aa0000 430px,#aa0000 431.1px,#ab0000 431.8px,#ab0000 433px,#a30000 433.7px,#a30000 434.6px,#ad0000 435.3px,#ad0000 436.4px,#ab0000 437.1px,#ab0000 437.6px,#880000 438.3px,#880000 439.6px,#890000 440.3px,#890000 441.4px,#920000 442.1px,#920000 443.3px,#880000 444px,#880000 445px,#440000 445.7px,#440000 447px,#520000 447.7px,#520000 448.4px,#480000 449.1px,#480000 449.5px,#7c0000 450.2px,#7c0000 450.7px,#850000 451.4px,#850000 452.6px,#860000 453.3px,#860000 454.1px,#830000 454.8px,#830000 456px,#800000 456.7px,#800000 458.4px,#950000 459.1px,#950000 460.2px,#940000 460.9px,#940000 462.1px,#9d0000 462.8px,#9d0000 462.8px,#aa0000 463.5px,#aa0000 464px,#a60000 464.7px,#a60000 465.7px,#940000 466.4px,#940000 467.7px,#920000 468.4px,#920000 469.5px,#890000 470.2px,#890000 470.9px,#8f0000 471.6px,#8f0000 472.7px,#8c0000 473.4px,#8c0000 474.7px,#850000 475.4px,#850000 476.3px,#8b0000 477px,#8b0000 477.8px,#870000 478.5px,#870000 479.2px,#8b0000 479.9px,#8b0000 481px,#9e0000 481.7px,#9e0000 482.8px,#940000 483.5px,#940000 484.1px,#8d0000 484.8px,#8d0000 485.4px,#830000 486.1px,#830000 486.5px,#009c00 487.2px,#009c00 488px,#009500 488.7px,#009500 489.6px,#009900 490.3px,#009900 491.1px,#009f00 491.8px,#009f00 492.9px,#008b00 493.6px,#008b00 494.2px,#009a00 494.9px,#009a00 495.4px,#009100 496.1px,#009100 496.5px,#800000 497.2px,#800000 497.9px,#900000 498.6px,#900000 500.4px)"></div>
<div class="hc" style="left:1044.4px;width:119.3px;background:linear-gradient(#008c00 1.05px,#008c00 2.051px,#008400 2.751px,#008400 3.377px,#008b00 4.077px,#008b00 5.044px,#00aa00 5.744px,#00aa00 6.373px,#00a200 7.073px,#00a200 8.229px,#00a200 8.929px,#00a200 9.55px,#00a700 10.25px,#00a700 10.96px,#00b200 11.66px,#00b200 12.22px,#00a800 12.92px,#00a800 14.14px,#00a800 14.84px,#00a800 15.89px,#00b500 16.59px,#00b500 17.57px,#00ae00 18.27px,#00ae00 18.99px,#00ab00 19.69px,#00ab00 19.83px,#009500 20.53px,#009500 21.24px,#009500 21.94px,#009500 22.74px,#00a000 23.44px,#00a000 24.45px,#009100 25.15px,#009100 25.75px,#008200 26.45px,#008200 27.65px,#008d00 28.35px,#008d00 29.45px,#008400 30.15px,#008400 31.4px,#007f00 32.1px,#007f00 32.82px,#007d00 33.52px,#007d00 34.04px,#008100 34.74px,#008100 35.42px,#008200 36.12px,#008200 37.58px,#007a00 38.28px,#007a00 38.78px,#006d00 39.48px,#006d00 40.55px,#006f00 41.25px,#006f00 42.02px,#009000 42.72px,#009000 43.86px,#009200 44.56px,#009200 45.58px,#008e00 46.28px,#008e00 47.56px,#008900 48.26px,#008900 49.41px,#006600 50.11px,#006600 50.69px,#005900 51.39px,#005900 52.06px,#006100 52.76px,#006100 53.41px,#006500 54.11px,#006500 54.59px,#002c00 55.29px,#002c00 56.41px,#003300 57.11px,#003300 58.28px,#00a000 58.98px,#00a000 59.6px,#00ae00 60.3px,#00ae00 60.83px,#00b500 61.53px,#00b500 62.64px,#009e00 63.34px,#009e00 64.4px,#00b000 65.1px,#00b000 66.05px,#00b000 66.75px,#00b000 67.16px,#007b00 67.86px,#007b00 68.92px,#007400 69.62px,#007400 70.11px,#00a300 70.81px,#00a300 71.43px,#00a800 72.13px,#00a800 73.21px,#00ac00 73.91px,#00ac00 74.55px,#009300 75.25px,#009300 76.33px,#008a00 77.03px,#008a00 77.69px,#009200 78.39px,#009200 79.69px,#008a00 80.39px,#008a00 81.05px,#009200 81.75px,#009200 82.61px,#008b00 83.31px,#008b00 84.9px,#007900 85.6px,#007900 86.37px,#007900 87.07px,#007900 87.68px,#006f00 88.38px,#006f00 90.08px,#00ad00 90.78px,#00ad00 91.94px,#00b000 92.64px,#00b000 93.24px,#00a900 93.94px,#00a900 95.2px,#00ad00 95.9px,#00ad00 96.73px,#008400 97.43px,#008400 98.6px,#008d00 99.3px,#008d00 100.2px,#008900 100.9px,#008900 101.2px,#006500 101.9px,#006500 102.4px,#006b00 103.1px,#006b00 104.1px,#005e00 104.8px,#005e00 104.9px,#00a200 105.6px,#00a200 106.4px,#009500 107.1px,#009500 107.9px,#00a100 108.6px,#00a100 109.7px,#009c00 110.4px,#009c00 111px,#00a100 111.7px,#00a100 112.3px,#009b00 113px,#009b00 113.5px,#009700 114.2px,#009700 114.5px,#005300 115.2px,#005300 116.4px,#004e00 117.1px,#004e00 118.2px,#009600 118.9px,#009600 119.4px,#008e00 120.1px,#008e00 120.7px,#009200 121.4px,#009200 122.3px,#009000 123px,#009000 123.9px,#008d00 124.6px,#008d00 125.2px,#008800 125.9px,#008800 126.7px,#009a00 127.4px,#009a00 128.2px,#009400 128.9px,#009400 129.9px,#009200 130.6px,#009200 131.9px,#009600 132.6px,#009600 133.9px,#009000 134.6px,#009000 135.1px,#008e00 135.8px,#008e00 135.9px,#002f00 136.6px,#002f00 137.4px,#002300 138.1px,#002300 138.9px,#009700 139.6px,#009700 140.5px,#009d00 141.2px,#009d00 142.4px,#009f00 143.1px,#009f00 143.9px,#008500 144.6px,#008500 145.5px,#009700 146.2px,#009700 147.4px,#009800 148.1px,#009800 149px,#00a900 149.7px,#00a900 150.4px,#009800 151.1px,#009800 151.9px,#009f00 152.6px,#009f00 153.5px,#009400 154.2px,#009400 155.2px,#009200 155.9px,#009200 156.5px,#009700 157.2px,#009700 158.8px,#006d00 159.5px,#006d00 160.3px,#006b00 161px,#006b00 162.7px,#008400 163.4px,#008400 164.4px,#009000 165.1px,#009000 166px,#008100 166.7px,#008100 167.8px,#006b00 168.5px,#006b00 169.2px,#006300 169.9px,#006300 170px,#00a400 170.7px,#00a400 171.9px,#00af00 172.6px,#00af00 174.5px,#005a00 175.2px,#005a00 176.2px,#006600 176.9px,#006600 178.2px,#008300 178.9px,#008300 179.6px,#008200 180.3px,#008200 180.9px,#008900 181.6px,#008900 182.6px,#006800 183.3px,#006800 184.5px,#006d00 185.2px,#006d00 186px,#006900 186.7px,#006900 187.4px,#006900 188.1px,#006900 188.5px,#009b00 189.2px,#009b00 190.3px,#009b00 191px,#009b00 191.5px,#009a00 192.2px,#009a00 192.9px,#009400 193.6px,#009400 194.1px,#00a400 194.8px,#00a400 196px,#009900 196.7px,#009900 197.5px,#009100 198.2px,#009100 199.3px,#009400 200px,#009400 201.1px,#008500 201.8px,#008500 202.7px,#008000 203.4px,#008000 204.1px,#00a800 204.8px,#00a800 205.8px,#00ad00 206.5px,#00ad00 207.4px,#00a800 208.1px,#00a800 209.1px,#00a900 209.8px,#00a900 210.4px,#009f00 211.1px,#009f00 211.6px,#00aa00 212.3px,#00aa00 213px,#00a700 213.7px,#00a700 214.4px,#008900 215.1px,#008900 215.8px,#008d00 216.5px,#008d00 217.5px,#009500 218.2px,#009500 219.6px,#006c00 220.3px,#006c00 221.8px,#00b900 222.5px,#00b900 223.2px,#00b900 223.9px,#00b900 224.8px,#00ba00 225.5px,#00ba00 226.2px,#009700 226.9px,#009700 227.9px,#009400 228.6px,#009400 229.3px,#008b00 230px,#008b00 230.7px,#004f00 231.4px,#004f00 232.1px,#005000 232.8px,#005000 234.4px,#008c00 235.1px,#008c00 236.3px,#00a000 237px,#00a000 237.5px,#009e00 238.2px,#009e00 239.3px,#009700 240px,#009700 240.6px,#00a000 241.3px,#00a000 241.9px,#009900 242.6px,#009900 243.7px,#009900 244.4px,#009900 245.5px,#920000 246.2px,#920000 247.4px,#8f0000 248.1px,#8f0000 249px,#7e0000 249.7px,#7e0000 250.2px,#8a0000 250.9px,#8a0000 251.7px,#970000 252.4px,#970000 252.9px,#a50000 253.6px,#a50000 254.8px,#af0000 255.5px,#af0000 256.6px,#820000 257.3px,#820000 258px,#850000 258.7px,#850000 259.4px,#7a0000 260.1px,#7a0000 261px,#c00000 261.7px,#c00000 262.6px,#c70000 263.3px,#c70000 263.9px,#c80000 264.6px,#c80000 266.2px,#970000 266.9px,#970000 268.1px,#990000 268.8px,#990000 269.4px,#8c0000 270.1px,#8c0000 271px,#960000 271.7px,#960000 272.6px,#9a0000 273.3px,#9a0000 274.6px,#970000 275.3px,#970000 276.4px,#8f0000 277.1px,#8f0000 277.6px,#9b0000 278.3px,#9b0000 279.5px,#6d0000 280.2px,#6d0000 281.2px,#770000 281.9px,#770000 282.5px,#6c0000 283.2px,#6c0000 283.7px,#6b0000 284.4px,#6b0000 285.5px,#680000 286.2px,#680000 286.9px,#9d0000 287.6px,#9d0000 288.8px,#9a0000 289.5px,#9a0000 290.6px,#6f0000 291.3px,#6f0000 292.3px,#660000 293px,#660000 293.5px,#8f0000 294.2px,#8f0000 295.3px,#960000 296px,#960000 296.7px,#950000 297.4px,#950000 298.4px,#900000 299.1px,#900000 299.7px,#910000 300.4px,#910000 301.7px,#a80000 302.4px,#a80000 303px,#ae0000 303.7px,#ae0000 304.9px,#a40000 305.6px,#a40000 306.2px,#ae0000 306.9px,#ae0000 307.6px,#af0000 308.3px,#af0000 309.6px,#b50000 310.3px,#b50000 310.5px,#a90000 311.2px,#a90000 311.9px,#9e0000 312.6px,#9e0000 313.6px,#9d0000 314.3px,#9d0000 314.8px,#a80000 315.5px,#a80000 316.6px,#980000 317.3px,#980000 317.9px,#9f0000 318.6px,#9f0000 319.3px,#a00000 320px,#a00000 320.9px,#8a0000 321.6px,#8a0000 322.7px,#7a0000 323.4px,#7a0000 324.6px,#760000 325.3px,#760000 326.1px,#730000 326.8px,#730000 327.3px,#800000 328px,#800000 328.5px,#7d0000 329.2px,#7d0000 329.8px,#a00000 330.5px,#a00000 331.3px,#a60000 332px,#a60000 332.7px,#a80000 333.4px,#a80000 334.4px,#009800 335.1px,#009800 335.9px,#00ac00 336.6px,#00ac00 337.8px,#00a000 338.5px,#00a000 339.4px,#008f00 340.1px,#008f00 340.9px,#00a100 341.6px,#00a100 342.5px,#00a700 343.2px,#00a700 344.1px,#00a500 344.8px,#00a500 345.6px,#00b200 346.3px,#00b200 347.4px,#007300 348.1px,#007300 349.1px,#007900 349.8px,#007900 351px,#007f00 351.7px,#007f00 352.3px,#008200 353px,#008200 353.4px,#007000 354.1px,#007000 354.8px,#006800 355.5px,#006800 356.3px,#00a100 357px,#00a100 357.9px,#00a100 358.6px,#00a100 359.5px,#00aa00 360.2px,#00aa00 361.3px,#00ac00 362px,#00ac00 363.1px,#00a500 363.8px,#00a500 364.5px,#009a00 365.2px,#009a00 365.9px,#007a00 366.6px,#007a00 367.8px,#007400 368.5px,#007400 369.7px,#007100 370.4px,#007100 371.1px,#008b00 371.8px,#008b00 372.8px,#009100 373.5px,#009100 374.5px,#009d00 375.2px,#009d00 376.4px,#009100 377.1px,#009100 378.1px,#009200 378.8px,#009200 379.8px,#009a00 380.5px,#009a00 381.5px,#008c00 382.2px,#008c00 382.9px,#005e00 383.6px,#005e00 384.7px,#005d00 385.4px,#005d00 385.9px,#00a300 386.6px,#00a300 387.2px,#00ad00 387.9px,#00ad00 388.6px,#00a500 389.3px,#00a500 390.5px,#00a400 391.2px,#00a400 392.2px,#00ac00 392.9px,#00ac00 393.4px,#009f00 394.1px,#009f00 394.9px,#009f00 395.6px,#009f00 396.4px,#00a600 397.1px,#00a600 398px,#00a300 398.7px,#00a300 399.2px,#007600 399.9px,#007600 401.1px,#006b00 401.8px,#006b00 402.9px,#009b00 403.6px,#009b00 404.5px,#00a200 405.2px,#00a200 406.2px,#009900 406.9px,#009900 408px,#009200 408.7px,#009200 409.2px,#009200 409.9px,#009200 410.8px,#009400 411.5px,#009400 412.4px,#009400 413.1px,#009400 413.9px,#009000 414.6px,#009000 415.8px,#00a200 416.5px,#00a200 417.5px,#00a900 418.2px,#00a900 419.2px,#009a00 419.9px,#009a00 420.6px,#aa0000 421.3px,#aa0000 422.3px,#af0000 423px,#af0000 424.3px,#6c0000 425px,#6c0000 426.1px,#610000 426.8px,#610000 427.3px,#750000 428px,#750000 428.7px,#6b0000 429.4px,#6b0000 430.2px,#760000 430.9px,#760000 431px,#810000 431.7px,#810000 432.5px,#810000 433.2px,#810000 433.8px,#7a0000 434.5px,#7a0000 435.4px,#790000 436.1px,#790000 437.3px,#810000 438px,#810000 439.1px,#b50000 439.8px,#b50000 441px,#a60000 441.7px,#a60000 442.8px,#a30000 443.5px,#a30000 445px,#c20000 445.7px,#c20000 446.7px,#cf0000 447.4px,#cf0000 448.6px,#c80000 449.3px,#c80000 449.5px,#b10000 450.2px,#b10000 450.8px,#b20000 451.5px,#b20000 452.1px,#ba0000 452.8px,#ba0000 453.6px,#bf0000 454.3px,#bf0000 455.5px,#b80000 456.2px,#b80000 456.9px,#ae0000 457.6px,#ae0000 458.4px,#b50000 459.1px,#b50000 460px,#b30000 460.7px,#b30000 461.3px,#b30000 462px,#b30000 462.8px,#910000 463.5px,#910000 464.2px,#9a0000 464.9px,#9a0000 465.4px,#970000 466.1px,#970000 466.7px,#9d0000 467.4px,#9d0000 468.4px,#aa0000 469.1px,#aa0000 470.3px,#910000 471px,#910000 472.3px,#980000 473px,#980000 473.7px,#9a0000 474.4px,#9a0000 475.3px,#900000 476px,#900000 477px,#8e0000 477.7px,#8e0000 478.5px,#a40000 479.2px,#a40000 480.1px,#950000 480.8px,#950000 481.4px,#9b0000 482.1px,#9b0000 483px,#990000 483.7px,#990000 484.8px,#990000 485.5px,#990000 486.5px,#00a700 487.2px,#00a700 488.1px,#00a200 488.8px,#00a200 489.4px,#00a800 490.1px,#00a800 490.7px,#00a400 491.4px,#00a400 492.2px,#009900 492.9px,#009900 493.6px,#00aa00 494.3px,#00aa00 494.9px,#00a000 495.6px,#00a000 496.5px,#8c0000 497.2px,#8c0000 498.5px,#9d0000 499.2px,#9d0000 500.4px)"></div>
<div class="hc" style="left:1163.7px;width:119.6px;background:linear-gradient(#9e0000 1.05px,#9e0000 1.935px,#7d0000 2.635px,#7d0000 3.649px,#970000 4.349px,#970000 4.919px,#8c0000 5.619px,#8c0000 6.523px,#be0000 7.223px,#be0000 7.803px,#bb0000 8.503px,#bb0000 9.635px,#ad0000 10.33px,#ad0000 11.44px,#ba0000 12.14px,#ba0000 13.1px,#b40000 13.8px,#b40000 14.66px,#ba0000 15.36px,#ba0000 15.4px,#690000 16.1px,#690000 16.67px,#470000 17.37px,#470000 18.51px,#5b0000 19.21px,#5b0000 20.25px,#670000 20.95px,#670000 21.83px,#730000 22.53px,#730000 23.35px,#490000 24.05px,#490000 25.01px,#c50000 25.71px,#c50000 26.43px,#ad0000 27.13px,#ad0000 28.41px,#ce0000 29.11px,#ce0000 30.39px,#b20000 31.09px,#b20000 31.97px,#d10000 32.67px,#d10000 33.72px,#ef0000 34.42px,#ef0000 35.11px,#ce0000 35.81px,#ce0000 36.1px,#c40000 36.8px,#c40000 37.6px,#f40000 38.3px,#f40000 39.19px,#df0000 39.89px,#df0000 40.85px,#d60000 41.55px,#d60000 42.16px,#e60000 42.86px,#e60000 43.74px,#db0000 44.44px,#db0000 45.19px,#eb0000 45.89px,#eb0000 46.99px,#d10000 47.69px,#d10000 47.93px,#ff0000 48.63px,#ff0000 49.88px,#fd0000 50.58px,#fd0000 51.69px,#fb0000 52.39px,#fb0000 53.5px,#fa0000 54.2px,#fa0000 55.05px,#f20000 55.75px,#f20000 56.31px,#fe0000 57.01px,#fe0000 58.28px,#a30000 58.98px,#a30000 59.97px,#ae0000 60.67px,#ae0000 61.39px,#aa0000 62.09px,#aa0000 62.9px,#af0000 63.6px,#af0000 64.94px,#a00000 65.64px,#a00000 66.77px,#7f0000 67.47px,#7f0000 68.38px,#8a0000 69.08px,#8a0000 69.77px,#8e0000 70.47px,#8e0000 71.59px,#5d0000 72.29px,#5d0000 73.53px,#620000 74.23px,#620000 74.86px,#770000 75.56px,#770000 76.48px,#6f0000 77.18px,#6f0000 78.47px,#770000 79.17px,#770000 80.29px,#6c0000 80.99px,#6c0000 81.94px,#db0000 82.64px,#db0000 83.54px,#e10000 84.24px,#e10000 85.19px,#cb0000 85.89px,#cb0000 86.83px,#ce0000 87.53px,#ce0000 89.34px,#880000 90.04px,#880000 90.55px,#880000 91.25px,#880000 92.32px,#9c0000 93.02px,#9c0000 93.95px,#a30000 94.65px,#a30000 95.25px,#ff0000 95.95px,#ff0000 96.57px,#ed0000 97.27px,#ed0000 98.42px,#e80000 99.12px,#e80000 100.1px,#e80000 100.8px,#e80000 101.2px,#ce0000 101.9px,#ce0000 103.1px,#d30000 103.8px,#d30000 104.5px,#c80000 105.2px,#c80000 107.1px,#800000 107.8px,#800000 108.7px,#7c0000 109.4px,#7c0000 110.4px,#7a0000 111.1px,#7a0000 111.6px,#830000 112.3px,#830000 113px,#310000 113.7px,#310000 115px,#3b0000 115.7px,#3b0000 116px,#6a0000 116.7px,#6a0000 117.2px,#6d0000 117.9px,#6d0000 118.9px,#4e0000 119.6px,#4e0000 120.8px,#3d0000 121.5px,#3d0000 122.6px,#9a0000 123.3px,#9a0000 123.9px,#900000 124.6px,#900000 125.2px,#a20000 125.9px,#a20000 127px,#9e0000 127.7px,#9e0000 129.3px,#4f0000 130px,#4f0000 131.1px,#460000 131.8px,#460000 132.6px,#530000 133.3px,#530000 133.9px,#600000 134.6px,#600000 135.2px,#0a0000 135.9px,#0a0000 136.7px,#0a0000 137.4px,#0a0000 138.9px,#c60000 139.6px,#c60000 140.8px,#c00000 141.5px,#c00000 142.3px,#d60000 143px,#d60000 144.2px,#c90000 144.9px,#c90000 145.5px,#a00000 146.2px,#a00000 146.9px,#a60000 147.6px,#a60000 148.3px,#a30000 149px,#a30000 150.2px,#920000 150.9px,#920000 151.4px,#9c0000 152.1px,#9c0000 153.2px,#ac0000 153.9px,#ac0000 155.1px,#bb0000 155.8px,#bb0000 155.9px,#d90000 156.6px,#d90000 157.1px,#e10000 157.8px,#e10000 159px,#f40000 159.7px,#f40000 160.6px,#f30000 161.3px,#f30000 162.7px,#e20000 163.4px,#e20000 164.4px,#df0000 165.1px,#df0000 165.9px,#ce0000 166.6px,#ce0000 167.1px,#b00000 167.8px,#b00000 168.4px,#b40000 169.1px,#b40000 170px,#a70000 170.7px,#a70000 172px,#a30000 172.7px,#a30000 173.4px,#c50000 174.1px,#c50000 175.3px,#af0000 176px,#af0000 176.7px,#f40000 177.4px,#f40000 178.6px,#ff0000 179.3px,#ff0000 180.2px,#ea0000 180.9px,#ea0000 181.7px,#f60000 182.4px,#f60000 183.5px,#ff0000 184.2px,#ff0000 184.9px,#e70000 185.6px,#e70000 186.8px,#ea0000 187.5px,#ea0000 188.5px,#830000 189.2px,#830000 189.8px,#7a0000 190.5px,#7a0000 191.1px,#790000 191.8px,#790000 192.6px,#8a0000 193.3px,#8a0000 194.2px,#9d0000 194.9px,#9d0000 195.2px,#9a0000 195.9px,#9a0000 197px,#b70000 197.7px,#b70000 198.5px,#bc0000 199.2px,#bc0000 201.1px,#c00000 201.8px,#c00000 202.8px,#ca0000 203.5px,#ca0000 204.8px,#890000 205.5px,#890000 206.5px,#850000 207.2px,#850000 208.4px,#900000 209.1px,#900000 209.9px,#890000 210.6px,#890000 211.3px,#990000 212px,#990000 212.2px,#2d0000 212.9px,#2d0000 214px,#340000 214.7px,#340000 215.7px,#1a0000 216.4px,#1a0000 217.6px,#280000 218.3px,#280000 218.9px,#230000 219.6px,#230000 221.1px,#800000 221.8px,#800000 222.7px,#7e0000 223.4px,#7e0000 224.4px,#870000 225.1px,#870000 225.9px,#710000 226.6px,#710000 227.6px,#840000 228.3px,#840000 228.8px,#6e0000 229.5px,#6e0000 229.9px,#fb0000 230.6px,#fb0000 232.2px,#ec0000 232.9px,#ec0000 234.1px,#ff0000 234.8px,#ff0000 235.8px,#f10000 236.5px,#f10000 236.6px,#f30000 237.3px,#f30000 238.2px,#e50000 238.9px,#e50000 239.7px,#eb0000 240.4px,#eb0000 241.2px,#ed0000 241.9px,#ed0000 242.8px,#e40000 243.5px,#e40000 244.7px,#00c900 245.4px,#00c900 246.6px,#00d600 247.3px,#00d600 248.1px,#00c500 248.8px,#00c500 249.8px,#00e100 250.5px,#00e100 251px,#00c000 251.7px,#00c000 252.9px,#00df00 253.6px,#00df00 254.4px,#00ba00 255.1px,#00ba00 255.8px,#00ff00 256.5px,#00ff00 257.3px,#00ff00 258px,#00ff00 258.9px,#00f800 259.6px,#00f800 260.2px,#00f900 260.9px,#00f900 261px,#002d00 261.7px,#002d00 262.8px,#003e00 263.5px,#003e00 264.4px,#003400 265.1px,#003400 266.2px,#00ce00 266.9px,#00ce00 267.5px,#00c400 268.2px,#00c400 269.3px,#00c200 270px,#00c200 271.1px,#00c400 271.8px,#00c400 272.5px,#00bd00 273.2px,#00bd00 273.9px,#00d000 274.6px,#00d000 275px,#00ff00 275.7px,#00ff00 276.5px,#00ff00 277.2px,#00ff00 278px,#00ec00 278.7px,#00ec00 279.9px,#00e800 280.6px,#00e800 281.7px,#00f500 282.4px,#00f500 283.4px,#00ec00 284.1px,#00ec00 285.4px,#009100 286.1px,#009100 286.8px,#00be00 287.5px,#00be00 288.5px,#00a600 289.2px,#00a600 290.2px,#00a700 290.9px,#00a700 291.7px,#00b300 292.4px,#00b300 292.8px,#007f00 293.5px,#007f00 295px,#00b600 295.7px,#00b600 296.8px,#00bf00 297.5px,#00bf00 298px,#00bc00 298.7px,#00bc00 299.3px,#00cd00 300px,#00cd00 301.7px,#008b00 302.4px,#008b00 303.6px,#008a00 304.3px,#008a00 305.2px,#00a500 305.9px,#00a500 306.8px,#009600 307.5px,#009600 309.1px,#005f00 309.8px,#005f00 310.7px,#006e00 311.4px,#006e00 312px,#00c300 312.7px,#00c300 313.7px,#00cb00 314.4px,#00cb00 315.4px,#00c500 316.1px,#00c500 317px,#00d300 317.7px,#00d300 318.2px,#00c000 318.9px,#00c000 319.4px,#00dd00 320.1px,#00dd00 320.7px,#00d000 321.4px,#00d000 322.4px,#00dd00 323.1px,#00dd00 323.7px,#00f300 324.4px,#00f300 325px,#00db00 325.7px,#00db00 326.8px,#00f200 327.5px,#00f200 328.3px,#009700 329px,#009700 329.5px,#009800 330.2px,#009800 331.1px,#009600 331.8px,#009600 332.7px,#009800 333.4px,#009800 334.4px,#900000 335.1px,#900000 336.3px,#940000 337px,#940000 338px,#980000 338.7px,#980000 339.9px,#b70000 340.6px,#b70000 340.8px,#c70000 341.5px,#c70000 342.2px,#b30000 342.9px,#b30000 343.9px,#c90000 344.6px,#c90000 345.4px,#e20000 346.1px,#e20000 347.1px,#d10000 347.8px,#d10000 348.3px,#cb0000 349px,#cb0000 349.9px,#c00000 350.6px,#c00000 351.9px,#e30000 352.6px,#e30000 353.6px,#de0000 354.3px,#de0000 355.6px,#d50000 356.3px,#d50000 357px,#c90000 357.7px,#c90000 358.5px,#4c0000 359.2px,#4c0000 360.1px,#450000 360.8px,#450000 362.2px,#cf0000 362.9px,#cf0000 363.7px,#d00000 364.4px,#d00000 365.6px,#ac0000 366.3px,#ac0000 367.2px,#d20000 367.9px,#d20000 368.4px,#ea0000 369.1px,#ea0000 370.1px,#b40000 370.8px,#b40000 371.5px,#c60000 372.2px,#c60000 373px,#bb0000 373.7px,#bb0000 374.8px,#5a0000 375.5px,#5a0000 376.1px,#450000 376.8px,#450000 378.5px,#f10000 379.2px,#f10000 380.3px,#ff0000 381px,#ff0000 381.9px,#f40000 382.6px,#f40000 383.4px,#ff0000 384.1px,#ff0000 384.8px,#ee0000 385.5px,#ee0000 386.6px,#9f0000 387.3px,#9f0000 387.9px,#c40000 388.6px,#c40000 389.6px,#9d0000 390.3px,#9d0000 391.4px,#b30000 392.1px,#b30000 393.3px,#be0000 394px,#be0000 394.8px,#940000 395.5px,#940000 396.2px,#ba0000 396.9px,#ba0000 397.7px,#340000 398.4px,#340000 399.5px,#4d0000 400.2px,#4d0000 401.4px,#df0000 402.1px,#df0000 403px,#b10000 403.7px,#b10000 404.6px,#cd0000 405.3px,#cd0000 406.3px,#d50000 407px,#d50000 408px,#dc0000 408.7px,#dc0000 409.7px,#d60000 410.4px,#d60000 411.1px,#d50000 411.8px,#d50000 413.1px,#c90000 413.8px,#c90000 414.7px,#c50000 415.4px,#c50000 416.2px,#c40000 416.9px,#c40000 417.6px,#bc0000 418.3px,#bc0000 419px,#ba0000 419.7px,#ba0000 420.6px,#00e100 421.3px,#00e100 422.4px,#00d600 423.1px,#00d600 424.1px,#00d200 424.8px,#00d200 426.1px,#00d300 426.8px,#00d300 427.5px,#00e300 428.2px,#00e300 429.3px,#00ec00 430px,#00ec00 430.7px,#00e800 431.4px,#00e800 432.2px,#00f000 432.9px,#00f000 433.5px,#00e200 434.2px,#00e200 434.9px,#00e000 435.6px,#00e000 436.6px,#00dd00 437.3px,#00dd00 438.5px,#00df00 439.2px,#00df00 440.6px,#005100 441.3px,#005100 442.4px,#006400 443.1px,#006400 444.3px,#005d00 445px,#005d00 446.2px,#004f00 446.9px,#004f00 447.3px,#003200 448px,#003200 449.5px,#009700 450.2px,#009700 451.1px,#008400 451.8px,#008400 453.1px,#009200 453.8px,#009200 454.3px,#008300 455px,#008300 455.6px,#008f00 456.3px,#008f00 457.6px,#007e00 458.3px,#007e00 459.3px,#008c00 460px,#008c00 460.6px,#009100 461.3px,#009100 462.1px,#008600 462.8px,#008600 462.8px,#00da00 463.5px,#00da00 464px,#00e900 464.7px,#00e900 465.6px,#00fb00 466.3px,#00fb00 466.9px,#00e400 467.6px,#00e400 468.8px,#00d300 469.5px,#00d300 470.2px,#00e900 470.9px,#00e900 471.7px,#00e600 472.4px,#00e600 472.4px,#007000 473.1px,#007000 473.7px,#006e00 474.4px,#006e00 475.4px,#008200 476.1px,#008200 476.8px,#009b00 477.5px,#009b00 478.7px,#00ab00 479.4px,#00ab00 480.4px,#009b00 481.1px,#009b00 482.2px,#00b300 482.9px,#00b300 484px,#00a300 484.7px,#00a300 485.6px,#00bf00 486.3px,#00bf00 487.2px,#920000 487.9px,#920000 489.1px,#aa0000 489.8px,#aa0000 491px,#940000 491.7px,#940000 492.2px,#930000 492.9px,#930000 493.9px,#9b0000 494.6px,#9b0000 496.1px,#00ca00 496.8px,#00ca00 497.7px,#00bb00 498.4px,#00bb00 499.6px,#00cf00 500.3px,#00cf00 500.4px)"></div>
<div class="hc" style="left:1283.3px;width:118.1px;background:linear-gradient(#8b0000 1.05px,#8b0000 2.082px,#7c0000 2.782px,#7c0000 3.747px,#950000 4.447px,#950000 5.552px,#810000 6.252px,#810000 6.789px,#820000 7.489px,#820000 8.305px,#a10000 9.005px,#a10000 9.481px,#740000 10.18px,#740000 11.23px,#600000 11.93px,#600000 12.81px,#5c0000 13.51px,#5c0000 14.04px,#790000 14.74px,#790000 15.4px,#c60000 16.1px,#c60000 17.01px,#d10000 17.71px,#d10000 18.41px,#c70000 19.11px,#c70000 19.81px,#bf0000 20.51px,#bf0000 21.74px,#de0000 22.44px,#de0000 22.98px,#c50000 23.68px,#c50000 25.01px,#6f0000 25.71px,#6f0000 26.42px,#5a0000 27.12px,#5a0000 28.05px,#620000 28.75px,#620000 29.38px,#530000 30.08px,#530000 30.71px,#590000 31.41px,#590000 32.54px,#530000 33.24px,#530000 34.62px,#140000 35.32px,#140000 36.3px,#140000 37px,#140000 38.02px,#140000 38.72px,#140000 39.8px,#5a0000 40.5px,#5a0000 41.14px,#4c0000 41.84px,#4c0000 42.47px,#430000 43.17px,#430000 44.23px,#490000 44.93px,#490000 45.88px,#460000 46.58px,#460000 47.63px,#4a0000 48.33px,#4a0000 48.67px,#000000 49.37px,#000000 49.99px,#000000 50.69px,#000000 51.27px,#000000 51.97px,#000000 52.74px,#000000 53.44px,#000000 54.01px,#000000 54.71px,#000000 55.33px,#004200 56.03px,#004200 56.57px,#004000 57.27px,#004000 58.28px,#660000 58.98px,#660000 60.02px,#720000 60.72px,#720000 61.71px,#710000 62.41px,#710000 63.01px,#870000 63.71px,#870000 64.2px,#ae0000 64.9px,#ae0000 66.15px,#990000 66.85px,#990000 67.43px,#a30000 68.13px,#a30000 69.2px,#9c0000 69.9px,#9c0000 70.74px,#a10000 71.44px,#a10000 73.07px,#d20000 73.77px,#d20000 74.49px,#cf0000 75.19px,#cf0000 76.39px,#ca0000 77.09px,#ca0000 77.84px,#ab0000 78.54px,#ab0000 79.41px,#c70000 80.11px,#c70000 80.64px,#c40000 81.34px,#c40000 81.94px,#310000 82.64px,#310000 83.37px,#410000 84.07px,#410000 85.34px,#300000 86.04px,#300000 87.32px,#390000 88.02px,#390000 89.34px,#970000 90.04px,#970000 91.3px,#8f0000 92px,#8f0000 92.66px,#9d0000 93.36px,#9d0000 94.47px,#930000 95.17px,#930000 95.99px,#140000 96.69px,#140000 97.89px,#140000 98.59px,#140000 99.23px,#140000 99.93px,#140000 101.2px,#6d0000 101.9px,#6d0000 102.6px,#640000 103.3px,#640000 104.5px,#740000 105.2px,#740000 106.3px,#b70000 107px,#b70000 107.7px,#bd0000 108.4px,#bd0000 109px,#bc0000 109.7px,#bc0000 110.2px,#c60000 110.9px,#c60000 112px,#bc0000 112.7px,#bc0000 113px,#d90000 113.7px,#d90000 114.2px,#d80000 114.9px,#d80000 116px,#c60000 116.7px,#c60000 117.6px,#cf0000 118.3px,#cf0000 118.8px,#db0000 119.5px,#db0000 120.6px,#cd0000 121.3px,#cd0000 121.9px,#7e0000 122.6px,#7e0000 123.1px,#920000 123.8px,#920000 124.7px,#7e0000 125.4px,#7e0000 126.3px,#bb0000 127px,#bb0000 128.1px,#bf0000 128.8px,#bf0000 129.5px,#c00000 130.2px,#c00000 131.1px,#cf0000 131.8px,#cf0000 133px,#fa0000 133.7px,#fa0000 134.3px,#fe0000 135px,#fe0000 135.6px,#eb0000 136.3px,#eb0000 137.6px,#ed0000 138.3px,#ed0000 139.6px,#6e0000 140.3px,#6e0000 141.3px,#6e0000 142px,#6e0000 143.1px,#5d0000 143.8px,#5d0000 144.5px,#5c0000 145.2px,#5c0000 145.8px,#5a0000 146.5px,#5a0000 147.4px,#6c0000 148.1px,#6c0000 149.3px,#510000 150px,#510000 151.2px,#620000 151.9px,#620000 153.1px,#640000 153.8px,#640000 154.6px,#5f0000 155.3px,#5f0000 155.9px,#1a0000 156.6px,#1a0000 157.3px,#1b0000 158px,#1b0000 159.3px,#230000 160px,#230000 160.9px,#130000 161.6px,#130000 162.7px,#280000 163.4px,#280000 164.4px,#1b0000 165.1px,#1b0000 165.9px,#2e0000 166.6px,#2e0000 167.1px,#760000 167.8px,#760000 168.6px,#770000 169.3px,#770000 170.2px,#720000 170.9px,#720000 171.6px,#760000 172.3px,#760000 173.5px,#580000 174.2px,#580000 175.3px,#7a0000 176px,#7a0000 176.7px,#210000 177.4px,#210000 178px,#1f0000 178.7px,#1f0000 179.5px,#2d0000 180.2px,#2d0000 180.7px,#2d0000 181.4px,#2d0000 182.2px,#280000 182.9px,#280000 183.4px,#002300 184.1px,#002300 184.7px,#000800 185.4px,#000800 186.3px,#001500 187px,#001500 188.5px,#a00000 189.2px,#a00000 190.2px,#8d0000 190.9px,#8d0000 191.5px,#9f0000 192.2px,#9f0000 193.3px,#900000 194px,#900000 195.3px,#7b0000 196px,#7b0000 196.9px,#9e0000 197.6px,#9e0000 198.4px,#970000 199.1px,#970000 200.4px,#3c0000 201.1px,#3c0000 202.2px,#390000 202.9px,#390000 204.1px,#b00000 204.8px,#b00000 205.3px,#b90000 206px,#b90000 207px,#910000 207.7px,#910000 208.9px,#a90000 209.6px,#a90000 210.8px,#b50000 211.5px,#b50000 212.2px,#f40000 212.9px,#f40000 213.4px,#ed0000 214.1px,#ed0000 214.9px,#e00000 215.6px,#e00000 216.8px,#e20000 217.5px,#e20000 218.6px,#e70000 219.3px,#e70000 220.1px,#eb0000 220.8px,#eb0000 221.1px,#9c0000 221.8px,#9c0000 222.5px,#a80000 223.2px,#a80000 224.1px,#ac0000 224.8px,#ac0000 225.6px,#b50000 226.3px,#b50000 227.6px,#a20000 228.3px,#a20000 229.4px,#ba0000 230.1px,#ba0000 230.7px,#004500 231.4px,#004500 232.4px,#006200 233.1px,#006200 233.6px,#005d00 234.3px,#005d00 235.1px,#340000 235.8px,#340000 237.1px,#450000 237.8px,#450000 239px,#1c0000 239.7px,#1c0000 240.6px,#360000 241.3px,#360000 242.5px,#003700 243.2px,#003700 244.1px,#003600 244.8px,#003600 245.5px,#009400 246.2px,#009400 247.4px,#008100 248.1px,#008100 248.8px,#008800 249.5px,#008800 250.3px,#008600 251px,#008600 251.8px,#008e00 252.5px,#008e00 253.8px,#009300 254.5px,#009300 255.8px,#000a00 256.5px,#000a00 257.6px,#000a00 258.3px,#000a00 259.1px,#000a00 259.8px,#000a00 261px,#00d800 261.7px,#00d800 263px,#00c000 263.7px,#00c000 264.9px,#00c000 265.6px,#00c000 266.9px,#003000 267.6px,#003000 268.9px,#002b00 269.6px,#002b00 270.6px,#007d00 271.3px,#007d00 272.2px,#008900 272.9px,#008900 273.9px,#009000 274.6px,#009000 275.7px,#007d00 276.4px,#007d00 276.5px,#001400 277.2px,#001400 278.2px,#001400 278.9px,#001400 279.9px,#001400 280.6px,#001400 281.5px,#001400 282.2px,#001400 282.4px,#008800 283.1px,#008800 283.9px,#009500 284.6px,#009500 285.1px,#009300 285.8px,#009300 286.4px,#008700 287.1px,#008700 287.6px,#009000 288.3px,#009000 289.5px,#009d00 290.2px,#009d00 290.9px,#00a400 291.6px,#00a400 292.1px,#00a900 292.8px,#00a900 293.5px,#009c00 294.2px,#009c00 294.3px,#006d00 295px,#006d00 295.5px,#005300 296.2px,#005300 297.1px,#005600 297.8px,#005600 298px,#009800 298.7px,#009800 299.7px,#009c00 300.4px,#009c00 301px,#009900 301.7px,#009900 302.8px,#009500 303.5px,#009500 304px,#00ac00 304.7px,#00ac00 306px,#00af00 306.7px,#00af00 307.7px,#009f00 308.4px,#009f00 309.5px,#009500 310.2px,#009500 310.9px,#009b00 311.6px,#009b00 312px,#005500 312.7px,#005500 314px,#006500 314.7px,#006500 315.7px,#005f00 316.4px,#005f00 317px,#005c00 317.7px,#005c00 318.5px,#006a00 319.2px,#006a00 319.4px,#002700 320.1px,#002700 320.6px,#004400 321.3px,#004400 322.5px,#003900 323.2px,#003900 323.8px,#004300 324.5px,#004300 325.3px,#002d00 326px,#002d00 326.6px,#003c00 327.3px,#003c00 327.5px,#00ad00 328.2px,#00ad00 329px,#009900 329.7px,#009900 331px,#009e00 331.7px,#009e00 332.7px,#008d00 333.4px,#008d00 334.4px,#9b0000 335.1px,#9b0000 336.4px,#a40000 337.1px,#a40000 338.4px,#a20000 339.1px,#a20000 340.8px,#7e0000 341.5px,#7e0000 342.1px,#6b0000 342.8px,#6b0000 343.4px,#690000 344.1px,#690000 344.8px,#6b0000 345.5px,#6b0000 346.2px,#730000 346.9px,#730000 348.1px,#820000 348.8px,#820000 350.4px,#270000 351.1px,#270000 352.3px,#220000 353px,#220000 353.4px,#720000 354.1px,#720000 354.9px,#660000 355.6px,#660000 356.2px,#5e0000 356.9px,#5e0000 358.5px,#c90000 359.2px,#c90000 360.2px,#dd0000 360.9px,#dd0000 361.6px,#ca0000 362.3px,#ca0000 363.1px,#d20000 363.8px,#d20000 364.4px,#4f0000 365.1px,#4f0000 366.4px,#430000 367.1px,#430000 368.3px,#450000 369px,#450000 369.9px,#500000 370.6px,#500000 371.8px,#ca0000 372.5px,#ca0000 373.8px,#c70000 374.5px,#c70000 375.8px,#ca0000 376.5px,#ca0000 377.2px,#cf0000 377.9px,#cf0000 379.2px,#001400 379.9px,#001400 380.9px,#001400 381.6px,#001400 382.8px,#001400 383.5px,#001400 383.7px,#002f00 384.4px,#002f00 385.4px,#004400 386.1px,#004400 386.6px,#960000 387.3px,#960000 388.4px,#7d0000 389.1px,#7d0000 389.6px,#850000 390.3px,#850000 391.2px,#8d0000 391.9px,#8d0000 393.1px,#890000 393.8px,#890000 395.1px,#8a0000 395.8px,#8a0000 396.5px,#990000 397.2px,#990000 397.7px,#de0000 398.4px,#de0000 399.2px,#e60000 399.9px,#e60000 400.4px,#d00000 401.1px,#d00000 402.2px,#510000 402.9px,#510000 404px,#270000 404.7px,#270000 405.3px,#390000 406px,#390000 406.5px,#330000 407.2px,#330000 407.8px,#360000 408.5px,#360000 409.7px,#480000 410.4px,#480000 411.3px,#330000 412px,#330000 412.5px,#780000 413.2px,#780000 413.7px,#7d0000 414.4px,#7d0000 415.3px,#830000 416px,#830000 416.7px,#770000 417.4px,#770000 418.3px,#770000 419px,#770000 419.9px,#002900 420.6px,#002900 421.6px,#002a00 422.3px,#002a00 422.8px,#002900 423.5px,#002900 424.5px,#001d00 425.2px,#001d00 425.9px,#001e00 426.6px,#001e00 427.6px,#002600 428.3px,#002600 429.5px,#002e00 430.2px,#002e00 430.3px,#004500 431px,#004500 431.9px,#005600 432.6px,#005600 433.2px,#002800 433.9px,#002800 434.7px,#002a00 435.4px,#002a00 436.1px,#002800 436.8px,#002800 437.8px,#003500 438.5px,#003500 439.2px,#001a00 439.9px,#001a00 440.6px,#00c900 441.3px,#00c900 442.3px,#00c800 443px,#00c800 444.2px,#00df00 444.9px,#00df00 445.9px,#00b900 446.6px,#00b900 447.5px,#00d500 448.2px,#00d500 449.5px,#00a400 450.2px,#00a400 450.8px,#00a000 451.5px,#00a000 452.8px,#00b300 453.5px,#00b300 454.7px,#00b800 455.4px,#00b800 456.1px,#009b00 456.8px,#009b00 457.4px,#00a200 458.1px,#00a200 459px,#00b300 459.7px,#00b300 460.2px,#00b300 460.9px,#00b300 462px,#00a800 462.7px,#00a800 464.3px,#001e00 465px,#001e00 465.9px,#003600 466.6px,#003600 467.2px,#001800 467.9px,#001800 468.6px,#002000 469.3px,#002000 470px,#002400 470.7px,#002400 471.7px,#009a00 472.4px,#009a00 473.5px,#00ae00 474.2px,#00ae00 474.9px,#009400 475.6px,#009400 476.8px,#009400 477.5px,#009400 478.3px,#003100 479px,#003100 479.5px,#005a00 480.2px,#005a00 480.5px,#008a00 481.2px,#008a00 482px,#007100 482.7px,#007100 483.5px,#007c00 484.2px,#007c00 485.4px,#008600 486.1px,#008600 486.5px,#870000 487.2px,#870000 487.9px,#a50000 488.6px,#a50000 489.5px,#970000 490.2px,#970000 491px,#960000 491.7px,#960000 492.2px,#af0000 492.9px,#af0000 493.5px,#960000 494.2px,#960000 495.2px,#9c0000 495.9px,#9c0000 496.8px,#002400 497.5px,#002400 498.1px,#002f00 498.8px,#002f00 499.7px,#004200 500.4px,#004200 500.4px)"></div>
</body>
</html>
